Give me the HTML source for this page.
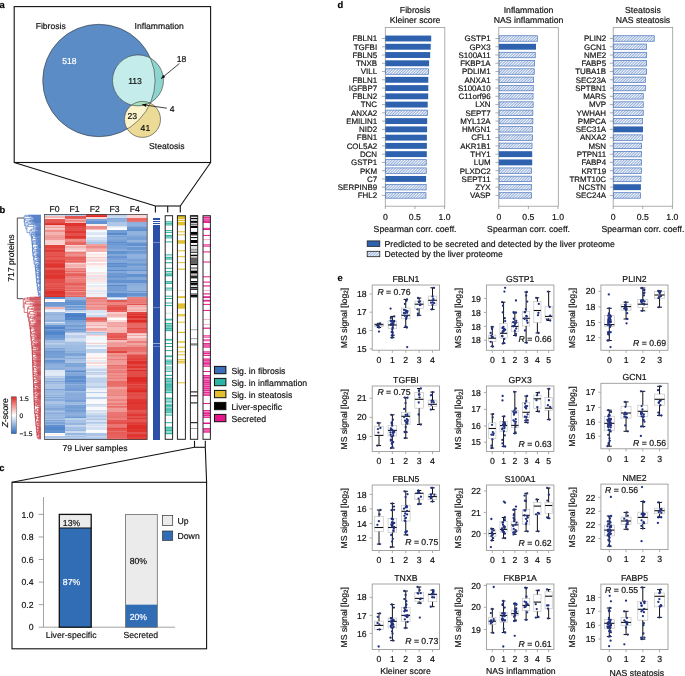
<!DOCTYPE html>
<html><head><meta charset="utf-8"><title>Figure</title><style>
html,body{margin:0;padding:0;background:#fff;width:685px;height:676px;overflow:hidden;}
svg{display:block;will-change:transform;}
text{font-family:"Liberation Sans",sans-serif;stroke-width:0.18px;text-rendering:geometricPrecision;}
</style></head><body>
<svg width="685" height="676" viewBox="0 0 685 676">
<text x="-0.4" y="7.8" font-size="9.4" font-weight="bold" fill="#000" stroke="#000">a</text>
<rect x="14.2" y="6.6" width="196.4" height="155.9" fill="none" stroke="#111" stroke-width="1.1"/>
<line x1="14.2" y1="162.5" x2="155.4" y2="206" stroke="#111" stroke-width="1.1"/>
<line x1="210.6" y1="162.5" x2="180.3" y2="206" stroke="#111" stroke-width="1.1"/>
<defs><clipPath id="cF"><circle cx="98.9" cy="80.5" r="56.2"/></clipPath><clipPath id="cI"><circle cx="138.0" cy="80.4" r="25.5"/></clipPath><clipPath id="cS"><circle cx="142.5" cy="119.4" r="18.0"/></clipPath></defs>
<circle cx="98.9" cy="80.5" r="56.2" fill="#5b8cc6"/>
<circle cx="138" cy="80.4" r="25.5" fill="#8fd5cf"/>
<circle cx="138" cy="80.4" r="25.5" fill="#c4ecea" clip-path="url(#cF)"/>
<circle cx="142.5" cy="119.4" r="18" fill="#ebdb96"/>
<circle cx="142.5" cy="119.4" r="18" fill="#fbf4cc" clip-path="url(#cF)"/>
<circle cx="142.5" cy="119.4" r="18" fill="#a6dfc0" clip-path="url(#cI)"/>
<circle cx="98.9" cy="80.5" r="56.2" fill="none" stroke="#2a2a2a" stroke-width="0.55"/>
<circle cx="138" cy="80.4" r="25.5" fill="none" stroke="#2a2a2a" stroke-width="0.55"/>
<circle cx="142.5" cy="119.4" r="18" fill="none" stroke="#2a2a2a" stroke-width="0.55"/>
<text x="50.7" y="29.1" font-size="8.6" text-anchor="middle" fill="#111" stroke="#111">Fibrosis</text>
<text x="159.2" y="29.1" font-size="8.6" text-anchor="middle" fill="#111" stroke="#111">Inflammation</text>
<text x="69.4" y="64.2" font-size="8.6" text-anchor="middle" fill="#fff" stroke="#fff">518</text>
<text x="135" y="84" font-size="8.6" text-anchor="middle" fill="#111" stroke="#111">113</text>
<text x="181.5" y="62.1" font-size="8.6" text-anchor="middle" fill="#111" stroke="#111">18</text>
<text x="172.2" y="112.1" font-size="8.6" text-anchor="middle" fill="#111" stroke="#111">4</text>
<text x="132.2" y="118.9" font-size="8.6" text-anchor="middle" fill="#111" stroke="#111">23</text>
<text x="145.4" y="131.4" font-size="8.6" text-anchor="middle" fill="#111" stroke="#111">41</text>
<text x="166.8" y="148.5" font-size="8.6" text-anchor="middle" fill="#111" stroke="#111">Steatosis</text>
<line x1="179.4" y1="63.5" x2="161" y2="78.7" stroke="#111" stroke-width="0.8"/>
<polygon points="161,78.7 163.16,74.71 165.32,77.34" fill="#111"/>
<line x1="166.9" y1="108.2" x2="142.1" y2="104.6" stroke="#111" stroke-width="0.8"/>
<polygon points="142.1,104.6 146.5,103.52 146.01,106.89" fill="#111"/>
<text x="-0.4" y="212.5" font-size="9.4" font-weight="bold" fill="#000" stroke="#000">b</text>
<text x="54.5" y="211.93" font-size="8.7" text-anchor="middle" fill="#111" stroke="#111">F0</text>
<text x="74.6" y="211.93" font-size="8.7" text-anchor="middle" fill="#111" stroke="#111">F1</text>
<text x="94.7" y="211.93" font-size="8.7" text-anchor="middle" fill="#111" stroke="#111">F2</text>
<text x="114.6" y="211.93" font-size="8.7" text-anchor="middle" fill="#111" stroke="#111">F3</text>
<text x="134.7" y="211.93" font-size="8.7" text-anchor="middle" fill="#111" stroke="#111">F4</text>
<g shape-rendering="crispEdges">
<rect x="44.5" y="214.4" width="20.75" height="1.25" fill="#cbdaef"/>
<rect x="44.5" y="215.6" width="20.75" height="0.45" fill="#b9ceea"/>
<rect x="44.5" y="216" width="20.75" height="0.65" fill="#f4bab8"/>
<rect x="44.5" y="216.6" width="20.75" height="0.65" fill="#f9d5d4"/>
<rect x="44.5" y="217.2" width="20.75" height="0.65" fill="#f4b5b3"/>
<rect x="44.5" y="217.8" width="20.75" height="0.95" fill="#fceae9"/>
<rect x="44.5" y="218.7" width="20.75" height="0.35" fill="#f8d2d1"/>
<rect x="44.5" y="219" width="20.75" height="0.95" fill="#e55954"/>
<rect x="44.5" y="219.9" width="20.75" height="1.55" fill="#e65b56"/>
<rect x="44.5" y="221.4" width="20.75" height="2.05" fill="#e55753"/>
<rect x="44.5" y="223.4" width="20.75" height="0.95" fill="#e13d38"/>
<rect x="44.5" y="224.3" width="20.75" height="0.75" fill="#de2d27"/>
<rect x="44.5" y="225" width="20.75" height="2.05" fill="#f4b9b7"/>
<rect x="44.5" y="227" width="20.75" height="0.65" fill="#f1a3a0"/>
<rect x="44.5" y="227.6" width="20.75" height="0.65" fill="#f4bbb9"/>
<rect x="44.5" y="228.2" width="20.75" height="0.95" fill="#f7cbc9"/>
<rect x="44.5" y="229.1" width="20.75" height="0.95" fill="#f5bcba"/>
<rect x="44.5" y="230" width="20.75" height="2.05" fill="#ee918d"/>
<rect x="44.5" y="232" width="20.75" height="2.55" fill="#f3b4b2"/>
<rect x="44.5" y="234.5" width="20.75" height="2.05" fill="#f09e9b"/>
<rect x="44.5" y="236.5" width="20.75" height="0.95" fill="#f2a9a6"/>
<rect x="44.5" y="237.4" width="20.75" height="0.65" fill="#ef9693"/>
<rect x="44.5" y="238" width="20.75" height="2.05" fill="#f09e9c"/>
<rect x="44.5" y="240" width="20.75" height="0.95" fill="#f7cdcc"/>
<rect x="44.5" y="240.9" width="20.75" height="2.05" fill="#f8d1d0"/>
<rect x="44.5" y="242.9" width="20.75" height="1.25" fill="#f8cfce"/>
<rect x="44.5" y="244.1" width="20.75" height="0.95" fill="#f9d5d4"/>
<rect x="44.5" y="245" width="20.75" height="0.95" fill="#e2413c"/>
<rect x="44.5" y="245.9" width="20.75" height="2.55" fill="#e2423d"/>
<rect x="44.5" y="248.4" width="20.75" height="0.65" fill="#e34d48"/>
<rect x="44.5" y="249" width="20.75" height="1.05" fill="#e4514c"/>
<rect x="44.5" y="250" width="20.75" height="1.25" fill="#e03832"/>
<rect x="44.5" y="251.2" width="20.75" height="1.25" fill="#e13e39"/>
<rect x="44.5" y="252.4" width="20.75" height="0.65" fill="#e55853"/>
<rect x="44.5" y="253" width="20.75" height="1.55" fill="#e55550"/>
<rect x="44.5" y="254.5" width="20.75" height="1.25" fill="#e55651"/>
<rect x="44.5" y="255.7" width="20.75" height="1.55" fill="#e34843"/>
<rect x="44.5" y="257.2" width="20.75" height="2.55" fill="#e55a55"/>
<rect x="44.5" y="259.7" width="20.75" height="2.05" fill="#e1403b"/>
<rect x="44.5" y="261.7" width="20.75" height="1.25" fill="#e34c47"/>
<rect x="44.5" y="262.9" width="20.75" height="1.25" fill="#e13f39"/>
<rect x="44.5" y="264.1" width="20.75" height="2.05" fill="#e0342f"/>
<rect x="44.5" y="266.1" width="20.75" height="0.65" fill="#df322c"/>
<rect x="44.5" y="266.7" width="20.75" height="1.25" fill="#e24540"/>
<rect x="44.5" y="267.9" width="20.75" height="2.55" fill="#e65a56"/>
<rect x="44.5" y="270.4" width="20.75" height="2.55" fill="#e03934"/>
<rect x="44.5" y="272.9" width="20.75" height="2.55" fill="#e1403a"/>
<rect x="44.5" y="275.4" width="20.75" height="2.55" fill="#df332d"/>
<rect x="44.5" y="277.9" width="20.75" height="1.25" fill="#e03933"/>
<rect x="44.5" y="279.1" width="20.75" height="2.55" fill="#e34c47"/>
<rect x="44.5" y="281.6" width="20.75" height="1.55" fill="#e34b46"/>
<rect x="44.5" y="283.1" width="20.75" height="2.05" fill="#e55853"/>
<rect x="44.5" y="285.1" width="20.75" height="0.65" fill="#e4524e"/>
<rect x="44.5" y="285.7" width="20.75" height="1.25" fill="#e55752"/>
<rect x="44.5" y="286.9" width="20.75" height="0.95" fill="#e34944"/>
<rect x="44.5" y="287.8" width="20.75" height="1.55" fill="#e55a55"/>
<rect x="44.5" y="289.3" width="20.75" height="1.55" fill="#e34944"/>
<rect x="44.5" y="290.8" width="20.75" height="1.25" fill="#df302a"/>
<rect x="44.5" y="292" width="20.75" height="1.55" fill="#df312b"/>
<rect x="44.5" y="293.5" width="20.75" height="1.25" fill="#e03933"/>
<rect x="44.5" y="294.7" width="20.75" height="1.25" fill="#e13a35"/>
<rect x="44.5" y="295.9" width="20.75" height="1.15" fill="#de2c26"/>
<rect x="44.5" y="297" width="20.75" height="0.95" fill="#578acd"/>
<rect x="44.5" y="297.9" width="20.75" height="0.95" fill="#5f8fcf"/>
<rect x="44.5" y="298.8" width="20.75" height="0.25" fill="#5487cc"/>
<rect x="44.5" y="299" width="20.75" height="2.05" fill="#fdf1f1"/>
<rect x="44.5" y="301" width="20.75" height="1.05" fill="#ffffff"/>
<rect x="44.5" y="302" width="20.75" height="1.55" fill="#6f9ad4"/>
<rect x="44.5" y="303.5" width="20.75" height="2.05" fill="#719bd4"/>
<rect x="44.5" y="305.5" width="20.75" height="0.95" fill="#77a0d6"/>
<rect x="44.5" y="306.4" width="20.75" height="0.65" fill="#85aada"/>
<rect x="44.5" y="307" width="20.75" height="2.05" fill="#f3b4b2"/>
<rect x="44.5" y="309" width="20.75" height="0.65" fill="#dae5f4"/>
<rect x="44.5" y="309.6" width="20.75" height="2.45" fill="#f0f4fa"/>
<rect x="44.5" y="312" width="20.75" height="1.55" fill="#9dbbe2"/>
<rect x="44.5" y="313.5" width="20.75" height="1.55" fill="#8dafdd"/>
<rect x="44.5" y="315" width="20.75" height="2.55" fill="#9dbbe2"/>
<rect x="44.5" y="317.5" width="20.75" height="0.95" fill="#8baedc"/>
<rect x="44.5" y="318.4" width="20.75" height="0.95" fill="#a0bce2"/>
<rect x="44.5" y="319.3" width="20.75" height="0.65" fill="#9ab8e1"/>
<rect x="44.5" y="319.9" width="20.75" height="0.65" fill="#8dafdd"/>
<rect x="44.5" y="320.5" width="20.75" height="1.55" fill="#90b1de"/>
<rect x="44.5" y="322" width="20.75" height="0.65" fill="#dae5f4"/>
<rect x="44.5" y="322.6" width="20.75" height="2.05" fill="#a4c0e4"/>
<rect x="44.5" y="324.6" width="20.75" height="0.45" fill="#c6d7ee"/>
<rect x="44.5" y="325" width="20.75" height="0.95" fill="#6795d1"/>
<rect x="44.5" y="325.9" width="20.75" height="1.25" fill="#6594d1"/>
<rect x="44.5" y="327.1" width="20.75" height="1.55" fill="#4d82ca"/>
<rect x="44.5" y="328.6" width="20.75" height="1.55" fill="#7aa2d7"/>
<rect x="44.5" y="330.1" width="20.75" height="1.55" fill="#5f8fcf"/>
<rect x="44.5" y="331.6" width="20.75" height="1.25" fill="#4b81c9"/>
<rect x="44.5" y="332.8" width="20.75" height="0.65" fill="#6d99d3"/>
<rect x="44.5" y="333.4" width="20.75" height="1.65" fill="#5487cc"/>
<rect x="44.5" y="335" width="20.75" height="2.55" fill="#6996d2"/>
<rect x="44.5" y="337.5" width="20.75" height="0.65" fill="#6b97d3"/>
<rect x="44.5" y="338.1" width="20.75" height="1.95" fill="#739dd5"/>
<rect x="44.5" y="340" width="20.75" height="2.55" fill="#a5c0e4"/>
<rect x="44.5" y="342.5" width="20.75" height="0.65" fill="#b1c9e8"/>
<rect x="44.5" y="343.1" width="20.75" height="1.25" fill="#bed1eb"/>
<rect x="44.5" y="344.3" width="20.75" height="0.65" fill="#aec6e7"/>
<rect x="44.5" y="344.9" width="20.75" height="1.25" fill="#a4bfe4"/>
<rect x="44.5" y="346.1" width="20.75" height="0.95" fill="#9bb9e1"/>
<rect x="44.5" y="347" width="20.75" height="0.95" fill="#a5c0e4"/>
<rect x="44.5" y="347.9" width="20.75" height="0.15" fill="#9ab8e1"/>
<rect x="44.5" y="348" width="20.75" height="0.95" fill="#80a6d9"/>
<rect x="44.5" y="348.9" width="20.75" height="0.95" fill="#8baedc"/>
<rect x="44.5" y="349.8" width="20.75" height="1.55" fill="#87abdb"/>
<rect x="44.5" y="351.3" width="20.75" height="0.95" fill="#6b97d2"/>
<rect x="44.5" y="352.2" width="20.75" height="1.55" fill="#739dd5"/>
<rect x="44.5" y="353.7" width="20.75" height="0.65" fill="#95b5df"/>
<rect x="44.5" y="354.3" width="20.75" height="1.25" fill="#79a1d7"/>
<rect x="44.5" y="355.5" width="20.75" height="0.95" fill="#85a9da"/>
<rect x="44.5" y="356.4" width="20.75" height="1.25" fill="#78a0d6"/>
<rect x="44.5" y="357.6" width="20.75" height="2.55" fill="#95b5df"/>
<rect x="44.5" y="360.1" width="20.75" height="1.25" fill="#6493d1"/>
<rect x="44.5" y="361.3" width="20.75" height="0.65" fill="#6c98d3"/>
<rect x="44.5" y="361.9" width="20.75" height="0.95" fill="#729cd5"/>
<rect x="44.5" y="362.8" width="20.75" height="1.55" fill="#81a7d9"/>
<rect x="44.5" y="364.3" width="20.75" height="2.05" fill="#8dafdd"/>
<rect x="44.5" y="366.3" width="20.75" height="1.55" fill="#90b2de"/>
<rect x="44.5" y="367.8" width="20.75" height="1.25" fill="#8aaddc"/>
<rect x="44.5" y="369" width="20.75" height="0.65" fill="#8cafdd"/>
<rect x="44.5" y="369.6" width="20.75" height="0.45" fill="#90b2de"/>
<rect x="44.5" y="370" width="20.75" height="2.55" fill="#dde7f5"/>
<rect x="44.5" y="372.5" width="20.75" height="1.55" fill="#e5edf7"/>
<rect x="44.5" y="374" width="20.75" height="1.55" fill="#dfe9f5"/>
<rect x="44.5" y="375.5" width="20.75" height="1.25" fill="#b6cce9"/>
<rect x="44.5" y="376.7" width="20.75" height="1.35" fill="#c8d8ee"/>
<rect x="44.5" y="378" width="20.75" height="1.55" fill="#a3bee3"/>
<rect x="44.5" y="379.5" width="20.75" height="0.65" fill="#a2bee3"/>
<rect x="44.5" y="380.1" width="20.75" height="0.95" fill="#b0c8e7"/>
<rect x="44.5" y="381" width="20.75" height="0.65" fill="#82a8da"/>
<rect x="44.5" y="381.6" width="20.75" height="1.55" fill="#a6c1e4"/>
<rect x="44.5" y="383.1" width="20.75" height="0.95" fill="#9bb9e1"/>
<rect x="44.5" y="384" width="20.75" height="2.05" fill="#b0c8e7"/>
<rect x="44.5" y="386" width="20.75" height="2.55" fill="#adc6e7"/>
<rect x="44.5" y="388.5" width="20.75" height="0.95" fill="#98b7e0"/>
<rect x="44.5" y="389.4" width="20.75" height="0.95" fill="#7ca3d8"/>
<rect x="44.5" y="390.3" width="20.75" height="2.55" fill="#9dbbe2"/>
<rect x="44.5" y="392.8" width="20.75" height="2.05" fill="#a3bfe3"/>
<rect x="44.5" y="394.8" width="20.75" height="0.95" fill="#92b2de"/>
<rect x="44.5" y="395.7" width="20.75" height="0.95" fill="#a7c2e5"/>
<rect x="44.5" y="396.6" width="20.75" height="0.95" fill="#7ca3d8"/>
<rect x="44.5" y="397.5" width="20.75" height="0.95" fill="#8aaddc"/>
<rect x="44.5" y="398.4" width="20.75" height="0.95" fill="#a4bfe4"/>
<rect x="44.5" y="399.3" width="20.75" height="1.25" fill="#88acdb"/>
<rect x="44.5" y="400.5" width="20.75" height="1.55" fill="#a8c2e5"/>
<rect x="44.5" y="402" width="20.75" height="0.65" fill="#acc5e6"/>
<rect x="44.5" y="402.6" width="20.75" height="1.25" fill="#abc4e6"/>
<rect x="44.5" y="403.8" width="20.75" height="2.55" fill="#9ab8e1"/>
<rect x="44.5" y="406.3" width="20.75" height="2.05" fill="#91b2de"/>
<rect x="44.5" y="408.3" width="20.75" height="2.05" fill="#81a7d9"/>
<rect x="44.5" y="410.3" width="20.75" height="0.95" fill="#97b6e0"/>
<rect x="44.5" y="411.2" width="20.75" height="0.65" fill="#aac3e5"/>
<rect x="44.5" y="411.8" width="20.75" height="0.95" fill="#9bb9e1"/>
<rect x="44.5" y="412.7" width="20.75" height="0.95" fill="#84a9da"/>
<rect x="44.5" y="413.6" width="20.75" height="1.55" fill="#9cbae1"/>
<rect x="44.5" y="415.1" width="20.75" height="0.65" fill="#98b7e0"/>
<rect x="44.5" y="415.7" width="20.75" height="1.25" fill="#9fbce2"/>
<rect x="44.5" y="416.9" width="20.75" height="2.05" fill="#98b7e0"/>
<rect x="44.5" y="418.9" width="20.75" height="0.65" fill="#aac4e6"/>
<rect x="44.5" y="419.5" width="20.75" height="0.65" fill="#88abdb"/>
<rect x="44.5" y="420.1" width="20.75" height="1.25" fill="#7da4d8"/>
<rect x="44.5" y="421.3" width="20.75" height="0.65" fill="#96b5df"/>
<rect x="44.5" y="421.9" width="20.75" height="2.05" fill="#7ca3d8"/>
<rect x="44.5" y="423.9" width="20.75" height="0.65" fill="#92b3de"/>
<rect x="44.5" y="424.5" width="20.75" height="0.55" fill="#afc7e7"/>
<rect x="44.5" y="425" width="20.75" height="2.05" fill="#6190d0"/>
<rect x="44.5" y="427" width="20.75" height="2.55" fill="#5588cc"/>
<rect x="44.5" y="429.5" width="20.75" height="2.05" fill="#6291d0"/>
<rect x="44.5" y="431.5" width="20.75" height="1.55" fill="#6190cf"/>
<rect x="44.5" y="433" width="20.75" height="0.95" fill="#fbfcfe"/>
<rect x="44.5" y="433.9" width="20.75" height="1.25" fill="#fdf2f1"/>
<rect x="44.5" y="435.1" width="20.75" height="0.95" fill="#fef8f7"/>
<rect x="44.5" y="436" width="20.75" height="0.95" fill="#acc5e6"/>
<rect x="44.5" y="436.9" width="20.75" height="1.55" fill="#aec6e7"/>
<rect x="44.5" y="438.4" width="20.75" height="0.65" fill="#bbcfea"/>
<rect x="44.5" y="439" width="20.75" height="0.65" fill="#99b8e0"/>
<rect x="65.2" y="214.4" width="20.65" height="1.65" fill="#b4cae8"/>
<rect x="65.2" y="216" width="20.65" height="0.65" fill="#e55651"/>
<rect x="65.2" y="216.6" width="20.65" height="0.95" fill="#e4544f"/>
<rect x="65.2" y="217.5" width="20.65" height="1.55" fill="#e7635e"/>
<rect x="65.2" y="219" width="20.65" height="0.95" fill="#f3b0ad"/>
<rect x="65.2" y="219.9" width="20.65" height="0.95" fill="#ed8884"/>
<rect x="65.2" y="220.8" width="20.65" height="0.95" fill="#ee9491"/>
<rect x="65.2" y="221.7" width="20.65" height="0.65" fill="#f1a7a5"/>
<rect x="65.2" y="222.3" width="20.65" height="0.75" fill="#f3b5b3"/>
<rect x="65.2" y="223" width="20.65" height="2.55" fill="#df332d"/>
<rect x="65.2" y="225.5" width="20.65" height="0.95" fill="#e03933"/>
<rect x="65.2" y="226.4" width="20.65" height="2.05" fill="#e34944"/>
<rect x="65.2" y="228.4" width="20.65" height="0.65" fill="#e4544f"/>
<rect x="65.2" y="229" width="20.65" height="1.25" fill="#e34c47"/>
<rect x="65.2" y="230.2" width="20.65" height="1.25" fill="#e4504b"/>
<rect x="65.2" y="231.4" width="20.65" height="2.05" fill="#e03933"/>
<rect x="65.2" y="233.4" width="20.65" height="2.55" fill="#e4504b"/>
<rect x="65.2" y="235.9" width="20.65" height="1.25" fill="#e03630"/>
<rect x="65.2" y="237.1" width="20.65" height="1.25" fill="#e03631"/>
<rect x="65.2" y="238.3" width="20.65" height="0.65" fill="#e34b46"/>
<rect x="65.2" y="238.9" width="20.65" height="0.15" fill="#de2a24"/>
<rect x="65.2" y="239" width="20.65" height="0.65" fill="#ee8f8c"/>
<rect x="65.2" y="239.6" width="20.65" height="1.25" fill="#ee928e"/>
<rect x="65.2" y="240.8" width="20.65" height="0.95" fill="#ec8581"/>
<rect x="65.2" y="241.7" width="20.65" height="0.95" fill="#e86763"/>
<rect x="65.2" y="242.6" width="20.65" height="2.45" fill="#e86763"/>
<rect x="65.2" y="245" width="20.65" height="1.25" fill="#f8d3d1"/>
<rect x="65.2" y="246.2" width="20.65" height="2.05" fill="#f3b4b2"/>
<rect x="65.2" y="248.2" width="20.65" height="2.05" fill="#f7cdcc"/>
<rect x="65.2" y="250.2" width="20.65" height="1.25" fill="#fbe6e6"/>
<rect x="65.2" y="251.4" width="20.65" height="0.65" fill="#f5bbb9"/>
<rect x="65.2" y="252" width="20.65" height="0.95" fill="#eb7d79"/>
<rect x="65.2" y="252.9" width="20.65" height="0.65" fill="#ec8582"/>
<rect x="65.2" y="253.5" width="20.65" height="0.65" fill="#e9716d"/>
<rect x="65.2" y="254.1" width="20.65" height="1.25" fill="#ee8f8c"/>
<rect x="65.2" y="255.3" width="20.65" height="0.95" fill="#ee908d"/>
<rect x="65.2" y="256.2" width="20.65" height="0.65" fill="#eb7b77"/>
<rect x="65.2" y="256.8" width="20.65" height="1.25" fill="#e65e5a"/>
<rect x="65.2" y="258" width="20.65" height="1.55" fill="#e7625d"/>
<rect x="65.2" y="259.5" width="20.65" height="1.25" fill="#e9726e"/>
<rect x="65.2" y="260.7" width="20.65" height="0.65" fill="#ea7773"/>
<rect x="65.2" y="261.3" width="20.65" height="0.95" fill="#e7615d"/>
<rect x="65.2" y="262.2" width="20.65" height="0.85" fill="#ec8582"/>
<rect x="65.2" y="263" width="20.65" height="0.95" fill="#f8d0cf"/>
<rect x="65.2" y="263.9" width="20.65" height="1.25" fill="#f4b7b5"/>
<rect x="65.2" y="265.1" width="20.65" height="2.05" fill="#f3afad"/>
<rect x="65.2" y="267.1" width="20.65" height="0.95" fill="#f5c1c0"/>
<rect x="65.2" y="268" width="20.65" height="2.55" fill="#ed8a87"/>
<rect x="65.2" y="270.5" width="20.65" height="1.25" fill="#e86864"/>
<rect x="65.2" y="271.7" width="20.65" height="1.25" fill="#ee928f"/>
<rect x="65.2" y="272.9" width="20.65" height="0.65" fill="#e86c68"/>
<rect x="65.2" y="273.5" width="20.65" height="2.05" fill="#e65f5b"/>
<rect x="65.2" y="275.5" width="20.65" height="2.05" fill="#ea7a76"/>
<rect x="65.2" y="277.5" width="20.65" height="1.55" fill="#ed8e8b"/>
<rect x="65.2" y="279" width="20.65" height="2.55" fill="#eb7c78"/>
<rect x="65.2" y="281.5" width="20.65" height="1.55" fill="#ea7672"/>
<rect x="65.2" y="283" width="20.65" height="1.55" fill="#e65f5b"/>
<rect x="65.2" y="284.5" width="20.65" height="1.25" fill="#e96e6a"/>
<rect x="65.2" y="285.7" width="20.65" height="0.95" fill="#eb817d"/>
<rect x="65.2" y="286.6" width="20.65" height="2.55" fill="#e86c68"/>
<rect x="65.2" y="289.1" width="20.65" height="0.95" fill="#eb7e7a"/>
<rect x="65.2" y="290" width="20.65" height="1.25" fill="#e65f5a"/>
<rect x="65.2" y="291.2" width="20.65" height="0.95" fill="#ee9390"/>
<rect x="65.2" y="292.1" width="20.65" height="2.55" fill="#e86c67"/>
<rect x="65.2" y="294.6" width="20.65" height="1.25" fill="#eb7c79"/>
<rect x="65.2" y="295.8" width="20.65" height="0.65" fill="#ee8f8c"/>
<rect x="65.2" y="296.4" width="20.65" height="0.65" fill="#e76560"/>
<rect x="65.2" y="297" width="20.65" height="2.55" fill="#94b4df"/>
<rect x="65.2" y="299.5" width="20.65" height="2.05" fill="#6d99d3"/>
<rect x="65.2" y="301.5" width="20.65" height="1.25" fill="#6391d0"/>
<rect x="65.2" y="302.7" width="20.65" height="0.95" fill="#6896d2"/>
<rect x="65.2" y="303.6" width="20.65" height="1.55" fill="#6090cf"/>
<rect x="65.2" y="305.1" width="20.65" height="1.25" fill="#93b4df"/>
<rect x="65.2" y="306.3" width="20.65" height="2.05" fill="#719cd4"/>
<rect x="65.2" y="308.3" width="20.65" height="0.65" fill="#93b4df"/>
<rect x="65.2" y="308.9" width="20.65" height="1.15" fill="#6c98d3"/>
<rect x="65.2" y="310" width="20.65" height="0.95" fill="#bfd2ec"/>
<rect x="65.2" y="310.9" width="20.65" height="1.55" fill="#c4d6ed"/>
<rect x="65.2" y="312.4" width="20.65" height="0.65" fill="#dde7f5"/>
<rect x="65.2" y="313" width="20.65" height="0.95" fill="#5387cb"/>
<rect x="65.2" y="313.9" width="20.65" height="0.65" fill="#4b81c9"/>
<rect x="65.2" y="314.5" width="20.65" height="0.65" fill="#4e83ca"/>
<rect x="65.2" y="315.1" width="20.65" height="2.05" fill="#497fc8"/>
<rect x="65.2" y="317.1" width="20.65" height="0.65" fill="#5689cc"/>
<rect x="65.2" y="317.7" width="20.65" height="2.55" fill="#5286cb"/>
<rect x="65.2" y="320.2" width="20.65" height="1.85" fill="#78a1d7"/>
<rect x="65.2" y="322" width="20.65" height="0.95" fill="#83a8da"/>
<rect x="65.2" y="322.9" width="20.65" height="2.55" fill="#8aaddc"/>
<rect x="65.2" y="325.4" width="20.65" height="2.05" fill="#759ed5"/>
<rect x="65.2" y="327.4" width="20.65" height="1.25" fill="#86aadb"/>
<rect x="65.2" y="328.6" width="20.65" height="1.55" fill="#6895d2"/>
<rect x="65.2" y="330.1" width="20.65" height="1.95" fill="#81a7d9"/>
<rect x="65.2" y="332" width="20.65" height="0.95" fill="#a5c0e4"/>
<rect x="65.2" y="332.9" width="20.65" height="2.55" fill="#d6e2f3"/>
<rect x="65.2" y="335.4" width="20.65" height="2.55" fill="#bbcfeb"/>
<rect x="65.2" y="337.9" width="20.65" height="2.55" fill="#d1dff1"/>
<rect x="65.2" y="340.4" width="20.65" height="0.95" fill="#d7e3f3"/>
<rect x="65.2" y="341.3" width="20.65" height="0.75" fill="#c3d5ed"/>
<rect x="65.2" y="342" width="20.65" height="0.65" fill="#a7c2e5"/>
<rect x="65.2" y="342.6" width="20.65" height="2.05" fill="#a6c0e4"/>
<rect x="65.2" y="344.6" width="20.65" height="2.55" fill="#9fbce2"/>
<rect x="65.2" y="347.1" width="20.65" height="2.55" fill="#9dbae2"/>
<rect x="65.2" y="349.6" width="20.65" height="0.45" fill="#7ca3d8"/>
<rect x="65.2" y="350" width="20.65" height="0.95" fill="#9dbae2"/>
<rect x="65.2" y="350.9" width="20.65" height="0.65" fill="#8fb0dd"/>
<rect x="65.2" y="351.5" width="20.65" height="1.55" fill="#98b7e0"/>
<rect x="65.2" y="353" width="20.65" height="2.55" fill="#7ba3d8"/>
<rect x="65.2" y="355.5" width="20.65" height="2.05" fill="#9fbce2"/>
<rect x="65.2" y="357.5" width="20.65" height="1.55" fill="#88acdb"/>
<rect x="65.2" y="359" width="20.65" height="1.55" fill="#a6c0e4"/>
<rect x="65.2" y="360.5" width="20.65" height="2.55" fill="#adc6e6"/>
<rect x="65.2" y="363" width="20.65" height="2.05" fill="#7fa6d9"/>
<rect x="65.2" y="365" width="20.65" height="2.05" fill="#7ea5d8"/>
<rect x="65.2" y="367" width="20.65" height="2.55" fill="#94b4df"/>
<rect x="65.2" y="369.5" width="20.65" height="0.55" fill="#a8c2e5"/>
<rect x="65.2" y="370" width="20.65" height="0.95" fill="#79a1d7"/>
<rect x="65.2" y="370.9" width="20.65" height="0.95" fill="#5f8fcf"/>
<rect x="65.2" y="371.8" width="20.65" height="2.55" fill="#86abdb"/>
<rect x="65.2" y="374.3" width="20.65" height="1.55" fill="#7fa6d9"/>
<rect x="65.2" y="375.8" width="20.65" height="0.65" fill="#6c98d3"/>
<rect x="65.2" y="376.4" width="20.65" height="2.55" fill="#6291d0"/>
<rect x="65.2" y="378.9" width="20.65" height="0.65" fill="#739dd5"/>
<rect x="65.2" y="379.5" width="20.65" height="2.55" fill="#5d8ecf"/>
<rect x="65.2" y="382" width="20.65" height="2.05" fill="#759ed6"/>
<rect x="65.2" y="384" width="20.65" height="1.25" fill="#90b1de"/>
<rect x="65.2" y="385.2" width="20.65" height="2.55" fill="#7da4d8"/>
<rect x="65.2" y="387.7" width="20.65" height="2.05" fill="#749ed5"/>
<rect x="65.2" y="389.7" width="20.65" height="1.55" fill="#709bd4"/>
<rect x="65.2" y="391.2" width="20.65" height="1.25" fill="#a1bde3"/>
<rect x="65.2" y="392.4" width="20.65" height="0.65" fill="#92b3de"/>
<rect x="65.2" y="393" width="20.65" height="2.55" fill="#87abdb"/>
<rect x="65.2" y="395.5" width="20.65" height="2.55" fill="#89acdb"/>
<rect x="65.2" y="398" width="20.65" height="1.55" fill="#86aadb"/>
<rect x="65.2" y="399.5" width="20.65" height="0.65" fill="#a3bee3"/>
<rect x="65.2" y="400.1" width="20.65" height="2.05" fill="#78a0d6"/>
<rect x="65.2" y="402.1" width="20.65" height="0.65" fill="#9fbce2"/>
<rect x="65.2" y="402.7" width="20.65" height="0.65" fill="#7ca4d8"/>
<rect x="65.2" y="403.3" width="20.65" height="0.65" fill="#99b8e0"/>
<rect x="65.2" y="403.9" width="20.65" height="1.55" fill="#a3bee3"/>
<rect x="65.2" y="405.4" width="20.65" height="1.55" fill="#78a1d7"/>
<rect x="65.2" y="406.9" width="20.65" height="0.95" fill="#719cd4"/>
<rect x="65.2" y="407.8" width="20.65" height="0.65" fill="#759ed6"/>
<rect x="65.2" y="408.4" width="20.65" height="2.05" fill="#7ba3d7"/>
<rect x="65.2" y="410.4" width="20.65" height="1.25" fill="#749ed5"/>
<rect x="65.2" y="411.6" width="20.65" height="2.55" fill="#88acdb"/>
<rect x="65.2" y="414.1" width="20.65" height="0.65" fill="#93b3df"/>
<rect x="65.2" y="414.7" width="20.65" height="0.95" fill="#88abdb"/>
<rect x="65.2" y="415.6" width="20.65" height="1.55" fill="#82a8da"/>
<rect x="65.2" y="417.1" width="20.65" height="0.95" fill="#6d99d3"/>
<rect x="65.2" y="418" width="20.65" height="1.55" fill="#bbd0eb"/>
<rect x="65.2" y="419.5" width="20.65" height="1.55" fill="#a6c1e4"/>
<rect x="65.2" y="421" width="20.65" height="0.95" fill="#acc5e6"/>
<rect x="65.2" y="421.9" width="20.65" height="1.55" fill="#a7c1e4"/>
<rect x="65.2" y="423.4" width="20.65" height="1.25" fill="#95b5df"/>
<rect x="65.2" y="424.6" width="20.65" height="1.25" fill="#c4d6ed"/>
<rect x="65.2" y="425.8" width="20.65" height="0.65" fill="#cadaef"/>
<rect x="65.2" y="426.4" width="20.65" height="0.95" fill="#bdd1eb"/>
<rect x="65.2" y="427.3" width="20.65" height="2.55" fill="#a5c0e4"/>
<rect x="65.2" y="429.8" width="20.65" height="1.25" fill="#99b7e0"/>
<rect x="65.2" y="431" width="20.65" height="1.55" fill="#cedcf0"/>
<rect x="65.2" y="432.5" width="20.65" height="2.05" fill="#99b8e1"/>
<rect x="65.2" y="434.5" width="20.65" height="1.55" fill="#bfd2ec"/>
<rect x="65.2" y="436" width="20.65" height="0.65" fill="#a5c0e4"/>
<rect x="65.2" y="436.6" width="20.65" height="0.65" fill="#c4d6ed"/>
<rect x="65.2" y="437.2" width="20.65" height="1.25" fill="#b9ceea"/>
<rect x="65.2" y="438.4" width="20.65" height="0.95" fill="#a3bfe3"/>
<rect x="65.2" y="439.3" width="20.65" height="0.35" fill="#adc6e6"/>
<rect x="85.8" y="214.4" width="20.85" height="1.25" fill="#e03a34"/>
<rect x="85.8" y="215.6" width="20.85" height="1.25" fill="#de2a24"/>
<rect x="85.8" y="216.8" width="20.85" height="0.25" fill="#de2a24"/>
<rect x="85.8" y="217" width="20.85" height="2.05" fill="#f8d3d2"/>
<rect x="85.8" y="219" width="20.85" height="2.05" fill="#7da4d8"/>
<rect x="85.8" y="221" width="20.85" height="2.55" fill="#6493d1"/>
<rect x="85.8" y="223.5" width="20.85" height="0.55" fill="#769fd6"/>
<rect x="85.8" y="224" width="20.85" height="2.05" fill="#fcecec"/>
<rect x="85.8" y="226" width="20.85" height="2.55" fill="#ed8d8a"/>
<rect x="85.8" y="228.5" width="20.85" height="1.55" fill="#f5bbb9"/>
<rect x="85.8" y="230" width="20.85" height="2.05" fill="#f5f8fc"/>
<rect x="85.8" y="232" width="20.85" height="1.55" fill="#dfe9f5"/>
<rect x="85.8" y="233.5" width="20.85" height="1.25" fill="#d8e4f3"/>
<rect x="85.8" y="234.7" width="20.85" height="2.55" fill="#f4f8fc"/>
<rect x="85.8" y="237.2" width="20.85" height="2.55" fill="#d6e2f3"/>
<rect x="85.8" y="239.7" width="20.85" height="0.35" fill="#d4e1f2"/>
<rect x="85.8" y="240" width="20.85" height="1.55" fill="#c2d5ed"/>
<rect x="85.8" y="241.5" width="20.85" height="1.55" fill="#aac3e5"/>
<rect x="85.8" y="243" width="20.85" height="1.05" fill="#acc5e6"/>
<rect x="85.8" y="244" width="20.85" height="0.95" fill="#f1a29f"/>
<rect x="85.8" y="244.9" width="20.85" height="1.55" fill="#f09f9c"/>
<rect x="85.8" y="246.4" width="20.85" height="1.55" fill="#ed8b88"/>
<rect x="85.8" y="247.9" width="20.85" height="1.55" fill="#f1a6a3"/>
<rect x="85.8" y="249.4" width="20.85" height="2.05" fill="#f3b3b1"/>
<rect x="85.8" y="251.4" width="20.85" height="0.65" fill="#f3b4b2"/>
<rect x="85.8" y="252" width="20.85" height="2.05" fill="#fef7f7"/>
<rect x="85.8" y="254" width="20.85" height="0.95" fill="#fbe5e4"/>
<rect x="85.8" y="254.9" width="20.85" height="2.05" fill="#fdf0ef"/>
<rect x="85.8" y="256.9" width="20.85" height="0.65" fill="#f7cdcc"/>
<rect x="85.8" y="257.5" width="20.85" height="1.55" fill="#fbe4e3"/>
<rect x="85.8" y="259" width="20.85" height="2.55" fill="#f9dbda"/>
<rect x="85.8" y="261.5" width="20.85" height="0.55" fill="#fcebea"/>
<rect x="85.8" y="262" width="20.85" height="0.65" fill="#ffffff"/>
<rect x="85.8" y="262.6" width="20.85" height="2.05" fill="#fadedd"/>
<rect x="85.8" y="264.6" width="20.85" height="0.95" fill="#fdf1f0"/>
<rect x="85.8" y="265.5" width="20.85" height="2.05" fill="#fdf5f4"/>
<rect x="85.8" y="267.5" width="20.85" height="0.95" fill="#e3ebf6"/>
<rect x="85.8" y="268.4" width="20.85" height="0.95" fill="#f6f9fc"/>
<rect x="85.8" y="269.3" width="20.85" height="2.55" fill="#fafcfe"/>
<rect x="85.8" y="271.8" width="20.85" height="1.25" fill="#fbe6e5"/>
<rect x="85.8" y="273" width="20.85" height="0.65" fill="#e5edf7"/>
<rect x="85.8" y="273.6" width="20.85" height="1.55" fill="#fdefef"/>
<rect x="85.8" y="275.1" width="20.85" height="1.55" fill="#fadedd"/>
<rect x="85.8" y="276.6" width="20.85" height="1.55" fill="#dde7f5"/>
<rect x="85.8" y="278.1" width="20.85" height="1.55" fill="#fae1e0"/>
<rect x="85.8" y="279.6" width="20.85" height="2.05" fill="#fbe5e5"/>
<rect x="85.8" y="281.6" width="20.85" height="1.55" fill="#edf2f9"/>
<rect x="85.8" y="283.1" width="20.85" height="0.65" fill="#ebf1f9"/>
<rect x="85.8" y="283.7" width="20.85" height="0.95" fill="#fffdfd"/>
<rect x="85.8" y="284.6" width="20.85" height="2.55" fill="#e4ecf7"/>
<rect x="85.8" y="287.1" width="20.85" height="2.55" fill="#fdf0ef"/>
<rect x="85.8" y="289.6" width="20.85" height="1.55" fill="#e2ebf6"/>
<rect x="85.8" y="291.1" width="20.85" height="0.65" fill="#dde7f5"/>
<rect x="85.8" y="291.7" width="20.85" height="0.95" fill="#ebf1f9"/>
<rect x="85.8" y="292.6" width="20.85" height="0.65" fill="#fdf4f3"/>
<rect x="85.8" y="293.2" width="20.85" height="1.25" fill="#fadfde"/>
<rect x="85.8" y="294.4" width="20.85" height="2.55" fill="#edf2fa"/>
<rect x="85.8" y="296.9" width="20.85" height="0.15" fill="#fafbfd"/>
<rect x="85.8" y="297" width="20.85" height="0.65" fill="#ee8e8b"/>
<rect x="85.8" y="297.6" width="20.85" height="1.25" fill="#ea7773"/>
<rect x="85.8" y="298.8" width="20.85" height="2.05" fill="#ed8986"/>
<rect x="85.8" y="300.8" width="20.85" height="1.25" fill="#ec8784"/>
<rect x="85.8" y="302" width="20.85" height="2.05" fill="#ee9491"/>
<rect x="85.8" y="304" width="20.85" height="1.05" fill="#ec8380"/>
<rect x="85.8" y="305" width="20.85" height="1.55" fill="#f0a09d"/>
<rect x="85.8" y="306.5" width="20.85" height="1.25" fill="#ed8c89"/>
<rect x="85.8" y="307.7" width="20.85" height="0.95" fill="#ef9592"/>
<rect x="85.8" y="308.6" width="20.85" height="0.95" fill="#ee918e"/>
<rect x="85.8" y="309.5" width="20.85" height="0.55" fill="#ea7b77"/>
<rect x="85.8" y="310" width="20.85" height="2.55" fill="#d7e3f3"/>
<rect x="85.8" y="312.5" width="20.85" height="0.65" fill="#b2c9e8"/>
<rect x="85.8" y="313.1" width="20.85" height="1.55" fill="#e5edf7"/>
<rect x="85.8" y="314.6" width="20.85" height="2.45" fill="#c9d9ef"/>
<rect x="85.8" y="317" width="20.85" height="1.25" fill="#ec8784"/>
<rect x="85.8" y="318.2" width="20.85" height="1.55" fill="#e7625d"/>
<rect x="85.8" y="319.7" width="20.85" height="0.95" fill="#ea7975"/>
<rect x="85.8" y="320.6" width="20.85" height="1.45" fill="#ec817e"/>
<rect x="85.8" y="322" width="20.85" height="1.55" fill="#f6c6c5"/>
<rect x="85.8" y="323.5" width="20.85" height="1.55" fill="#f8d0cf"/>
<rect x="85.8" y="325" width="20.85" height="1.25" fill="#f3b0ae"/>
<rect x="85.8" y="326.2" width="20.85" height="2.05" fill="#f9d8d7"/>
<rect x="85.8" y="328.2" width="20.85" height="1.55" fill="#f1a3a1"/>
<rect x="85.8" y="329.7" width="20.85" height="1.25" fill="#f3afad"/>
<rect x="85.8" y="330.9" width="20.85" height="0.95" fill="#f7cecd"/>
<rect x="85.8" y="331.8" width="20.85" height="0.25" fill="#f7cccb"/>
<rect x="85.8" y="332" width="20.85" height="1.25" fill="#a9c3e5"/>
<rect x="85.8" y="333.2" width="20.85" height="1.85" fill="#bfd2ec"/>
<rect x="85.8" y="335" width="20.85" height="0.95" fill="#f8d3d2"/>
<rect x="85.8" y="335.9" width="20.85" height="1.55" fill="#fdf2f2"/>
<rect x="85.8" y="337.4" width="20.85" height="2.55" fill="#f0f5fb"/>
<rect x="85.8" y="339.9" width="20.85" height="2.05" fill="#f7f9fd"/>
<rect x="85.8" y="341.9" width="20.85" height="1.55" fill="#f0f5fb"/>
<rect x="85.8" y="343.4" width="20.85" height="0.65" fill="#f7cfcd"/>
<rect x="85.8" y="344" width="20.85" height="0.95" fill="#fdf2f2"/>
<rect x="85.8" y="344.9" width="20.85" height="0.15" fill="#f1f5fb"/>
<rect x="85.8" y="345" width="20.85" height="1.55" fill="#d2e0f2"/>
<rect x="85.8" y="346.5" width="20.85" height="2.55" fill="#edf3fa"/>
<rect x="85.8" y="349" width="20.85" height="2.55" fill="#bed2ec"/>
<rect x="85.8" y="351.5" width="20.85" height="0.65" fill="#f0f5fb"/>
<rect x="85.8" y="352.1" width="20.85" height="1.25" fill="#c3d5ed"/>
<rect x="85.8" y="353.3" width="20.85" height="0.75" fill="#f1f5fb"/>
<rect x="85.8" y="354" width="20.85" height="2.55" fill="#fef7f7"/>
<rect x="85.8" y="356.5" width="20.85" height="1.25" fill="#fceae9"/>
<rect x="85.8" y="357.7" width="20.85" height="1.55" fill="#fadfde"/>
<rect x="85.8" y="359.2" width="20.85" height="1.25" fill="#fef9f9"/>
<rect x="85.8" y="360.4" width="20.85" height="0.65" fill="#e5edf7"/>
<rect x="85.8" y="361" width="20.85" height="1.25" fill="#eaf0f9"/>
<rect x="85.8" y="362.2" width="20.85" height="1.55" fill="#f9d7d6"/>
<rect x="85.8" y="363.7" width="20.85" height="0.65" fill="#fdf1f0"/>
<rect x="85.8" y="364.3" width="20.85" height="0.95" fill="#fffefe"/>
<rect x="85.8" y="365.2" width="20.85" height="1.25" fill="#fae0df"/>
<rect x="85.8" y="366.4" width="20.85" height="1.55" fill="#eaf0f9"/>
<rect x="85.8" y="367.9" width="20.85" height="0.15" fill="#fef7f7"/>
<rect x="85.8" y="368" width="20.85" height="1.25" fill="#d8e3f3"/>
<rect x="85.8" y="369.2" width="20.85" height="1.55" fill="#c3d5ed"/>
<rect x="85.8" y="370.7" width="20.85" height="1.25" fill="#e4ecf7"/>
<rect x="85.8" y="371.9" width="20.85" height="1.55" fill="#baceea"/>
<rect x="85.8" y="373.4" width="20.85" height="1.55" fill="#c6d7ee"/>
<rect x="85.8" y="374.9" width="20.85" height="2.55" fill="#e6edf7"/>
<rect x="85.8" y="377.4" width="20.85" height="0.65" fill="#cedcf0"/>
<rect x="85.8" y="378" width="20.85" height="1.55" fill="#bcd0eb"/>
<rect x="85.8" y="379.5" width="20.85" height="0.65" fill="#c7d8ee"/>
<rect x="85.8" y="380.1" width="20.85" height="2.55" fill="#bcd0eb"/>
<rect x="85.8" y="382.6" width="20.85" height="2.05" fill="#ccdbf0"/>
<rect x="85.8" y="384.6" width="20.85" height="1.25" fill="#cbdbef"/>
<rect x="85.8" y="385.8" width="20.85" height="2.05" fill="#bacfea"/>
<rect x="85.8" y="387.8" width="20.85" height="2.55" fill="#e2ebf6"/>
<rect x="85.8" y="390.3" width="20.85" height="1.25" fill="#f0f4fa"/>
<rect x="85.8" y="391.5" width="20.85" height="1.25" fill="#b8cdea"/>
<rect x="85.8" y="392.7" width="20.85" height="2.05" fill="#eff4fa"/>
<rect x="85.8" y="394.7" width="20.85" height="2.55" fill="#f1f6fb"/>
<rect x="85.8" y="397.2" width="20.85" height="0.65" fill="#b9ceea"/>
<rect x="85.8" y="397.8" width="20.85" height="0.95" fill="#bed2ec"/>
<rect x="85.8" y="398.7" width="20.85" height="1.35" fill="#f2f6fb"/>
<rect x="85.8" y="400" width="20.85" height="1.55" fill="#f8fafd"/>
<rect x="85.8" y="401.5" width="20.85" height="1.55" fill="#fafbfd"/>
<rect x="85.8" y="403" width="20.85" height="0.95" fill="#fefafa"/>
<rect x="85.8" y="403.9" width="20.85" height="0.95" fill="#c7d8ee"/>
<rect x="85.8" y="404.8" width="20.85" height="2.55" fill="#d8e4f3"/>
<rect x="85.8" y="407.3" width="20.85" height="2.55" fill="#f7f9fd"/>
<rect x="85.8" y="409.8" width="20.85" height="2.05" fill="#d4e1f2"/>
<rect x="85.8" y="411.8" width="20.85" height="1.25" fill="#e2ebf6"/>
<rect x="85.8" y="413" width="20.85" height="2.05" fill="#cbdbef"/>
<rect x="85.8" y="415" width="20.85" height="0.95" fill="#b9ceea"/>
<rect x="85.8" y="415.9" width="20.85" height="0.95" fill="#b1c8e8"/>
<rect x="85.8" y="416.8" width="20.85" height="0.65" fill="#c8d8ee"/>
<rect x="85.8" y="417.4" width="20.85" height="1.55" fill="#c2d4ed"/>
<rect x="85.8" y="418.9" width="20.85" height="1.25" fill="#acc5e6"/>
<rect x="85.8" y="420.1" width="20.85" height="1.55" fill="#d6e2f3"/>
<rect x="85.8" y="421.6" width="20.85" height="0.65" fill="#b2c9e8"/>
<rect x="85.8" y="422.2" width="20.85" height="0.65" fill="#afc7e7"/>
<rect x="85.8" y="422.8" width="20.85" height="1.55" fill="#bfd2ec"/>
<rect x="85.8" y="424.3" width="20.85" height="0.75" fill="#dbe6f4"/>
<rect x="85.8" y="425" width="20.85" height="0.95" fill="#d4e1f2"/>
<rect x="85.8" y="425.9" width="20.85" height="1.55" fill="#e2ebf6"/>
<rect x="85.8" y="427.4" width="20.85" height="2.55" fill="#d4e1f2"/>
<rect x="85.8" y="429.9" width="20.85" height="2.05" fill="#fcfdfe"/>
<rect x="85.8" y="431.9" width="20.85" height="1.15" fill="#f6f9fc"/>
<rect x="85.8" y="433" width="20.85" height="1.25" fill="#acc5e6"/>
<rect x="85.8" y="434.2" width="20.85" height="2.05" fill="#abc4e6"/>
<rect x="85.8" y="436.2" width="20.85" height="1.25" fill="#c6d7ee"/>
<rect x="85.8" y="437.4" width="20.85" height="0.95" fill="#b5cbe9"/>
<rect x="85.8" y="438.3" width="20.85" height="0.95" fill="#aac3e5"/>
<rect x="85.8" y="439.2" width="20.85" height="0.45" fill="#acc5e6"/>
<rect x="106.6" y="214.4" width="20.65" height="2.05" fill="#bcd0eb"/>
<rect x="106.6" y="216.4" width="20.65" height="0.65" fill="#c8d8ee"/>
<rect x="106.6" y="217" width="20.65" height="0.95" fill="#ceddf0"/>
<rect x="106.6" y="217.9" width="20.65" height="0.15" fill="#d7e3f3"/>
<rect x="106.6" y="218" width="20.65" height="0.65" fill="#83a8da"/>
<rect x="106.6" y="218.6" width="20.65" height="0.65" fill="#6594d1"/>
<rect x="106.6" y="219.2" width="20.65" height="1.55" fill="#8fb1dd"/>
<rect x="106.6" y="220.7" width="20.65" height="0.95" fill="#8dafdd"/>
<rect x="106.6" y="221.6" width="20.65" height="0.45" fill="#6291d0"/>
<rect x="106.6" y="222" width="20.65" height="1.25" fill="#b0c8e7"/>
<rect x="106.6" y="223.2" width="20.65" height="0.65" fill="#adc6e7"/>
<rect x="106.6" y="223.8" width="20.65" height="2.05" fill="#aec6e7"/>
<rect x="106.6" y="225.8" width="20.65" height="0.25" fill="#b8cdea"/>
<rect x="106.6" y="226" width="20.65" height="0.95" fill="#dae5f4"/>
<rect x="106.6" y="226.9" width="20.65" height="1.25" fill="#eef3fa"/>
<rect x="106.6" y="228.1" width="20.65" height="1.95" fill="#fafcfe"/>
<rect x="106.6" y="230" width="20.65" height="0.65" fill="#749ed5"/>
<rect x="106.6" y="230.6" width="20.65" height="2.55" fill="#749dd5"/>
<rect x="106.6" y="233.1" width="20.65" height="0.95" fill="#5588cc"/>
<rect x="106.6" y="234" width="20.65" height="1.25" fill="#5b8cce"/>
<rect x="106.6" y="235.2" width="20.65" height="0.95" fill="#88acdb"/>
<rect x="106.6" y="236.1" width="20.65" height="0.65" fill="#729dd5"/>
<rect x="106.6" y="236.7" width="20.65" height="2.55" fill="#83a8da"/>
<rect x="106.6" y="239.2" width="20.65" height="0.65" fill="#7ea5d8"/>
<rect x="106.6" y="239.8" width="20.65" height="1.55" fill="#77a0d6"/>
<rect x="106.6" y="241.3" width="20.65" height="0.95" fill="#749dd5"/>
<rect x="106.6" y="242.2" width="20.65" height="0.65" fill="#5e8ecf"/>
<rect x="106.6" y="242.8" width="20.65" height="1.55" fill="#709bd4"/>
<rect x="106.6" y="244.3" width="20.65" height="0.65" fill="#6896d2"/>
<rect x="106.6" y="244.9" width="20.65" height="1.55" fill="#769fd6"/>
<rect x="106.6" y="246.4" width="20.65" height="0.95" fill="#759ed5"/>
<rect x="106.6" y="247.3" width="20.65" height="0.65" fill="#759fd6"/>
<rect x="106.6" y="247.9" width="20.65" height="1.55" fill="#78a0d6"/>
<rect x="106.6" y="249.4" width="20.65" height="1.55" fill="#87abdb"/>
<rect x="106.6" y="250.9" width="20.65" height="2.55" fill="#6392d0"/>
<rect x="106.6" y="253.4" width="20.65" height="0.65" fill="#6392d0"/>
<rect x="106.6" y="254" width="20.65" height="2.05" fill="#82a7d9"/>
<rect x="106.6" y="256" width="20.65" height="1.55" fill="#6996d2"/>
<rect x="106.6" y="257.5" width="20.65" height="1.25" fill="#759ed6"/>
<rect x="106.6" y="258.7" width="20.65" height="1.55" fill="#79a1d7"/>
<rect x="106.6" y="260.2" width="20.65" height="0.95" fill="#85a9da"/>
<rect x="106.6" y="261.1" width="20.65" height="1.55" fill="#82a8da"/>
<rect x="106.6" y="262.6" width="20.65" height="1.55" fill="#598bcd"/>
<rect x="106.6" y="264.1" width="20.65" height="0.65" fill="#6896d2"/>
<rect x="106.6" y="264.7" width="20.65" height="1.25" fill="#6b98d3"/>
<rect x="106.6" y="265.9" width="20.65" height="0.95" fill="#5a8bcd"/>
<rect x="106.6" y="266.8" width="20.65" height="0.65" fill="#709bd4"/>
<rect x="106.6" y="267.4" width="20.65" height="2.55" fill="#7da4d8"/>
<rect x="106.6" y="269.9" width="20.65" height="1.55" fill="#588acd"/>
<rect x="106.6" y="271.4" width="20.65" height="2.05" fill="#84a9da"/>
<rect x="106.6" y="273.4" width="20.65" height="2.55" fill="#6d99d3"/>
<rect x="106.6" y="275.9" width="20.65" height="0.95" fill="#6593d1"/>
<rect x="106.6" y="276.8" width="20.65" height="0.95" fill="#6e9ad4"/>
<rect x="106.6" y="277.7" width="20.65" height="0.65" fill="#598bcd"/>
<rect x="106.6" y="278.3" width="20.65" height="1.55" fill="#7ba2d7"/>
<rect x="106.6" y="279.8" width="20.65" height="0.95" fill="#6392d0"/>
<rect x="106.6" y="280.7" width="20.65" height="0.65" fill="#86abdb"/>
<rect x="106.6" y="281.3" width="20.65" height="1.55" fill="#6492d0"/>
<rect x="106.6" y="282.8" width="20.65" height="2.05" fill="#84a9da"/>
<rect x="106.6" y="284.8" width="20.65" height="1.55" fill="#588acd"/>
<rect x="106.6" y="286.3" width="20.65" height="2.55" fill="#749dd5"/>
<rect x="106.6" y="288.8" width="20.65" height="0.95" fill="#759ed5"/>
<rect x="106.6" y="289.7" width="20.65" height="0.95" fill="#749dd5"/>
<rect x="106.6" y="290.6" width="20.65" height="2.05" fill="#80a6d9"/>
<rect x="106.6" y="292.6" width="20.65" height="1.55" fill="#5d8dce"/>
<rect x="106.6" y="294.1" width="20.65" height="0.95" fill="#5588cc"/>
<rect x="106.6" y="295" width="20.65" height="2.05" fill="#5b8cce"/>
<rect x="106.6" y="297" width="20.65" height="1.25" fill="#b8cdea"/>
<rect x="106.6" y="298.2" width="20.65" height="0.95" fill="#ebf1f9"/>
<rect x="106.6" y="299.1" width="20.65" height="0.95" fill="#b3cae8"/>
<rect x="106.6" y="300" width="20.65" height="2.05" fill="#e55954"/>
<rect x="106.6" y="302" width="20.65" height="2.55" fill="#ec8480"/>
<rect x="106.6" y="304.5" width="20.65" height="0.55" fill="#eb807c"/>
<rect x="106.6" y="305" width="20.65" height="2.05" fill="#e6605c"/>
<rect x="106.6" y="307" width="20.65" height="2.55" fill="#e44f4a"/>
<rect x="106.6" y="309.5" width="20.65" height="2.55" fill="#e7625e"/>
<rect x="106.6" y="312" width="20.65" height="2.05" fill="#f7cdcc"/>
<rect x="106.6" y="314" width="20.65" height="1.55" fill="#f4b5b3"/>
<rect x="106.6" y="315.5" width="20.65" height="1.55" fill="#f5bebc"/>
<rect x="106.6" y="317" width="20.65" height="0.95" fill="#f9dbda"/>
<rect x="106.6" y="317.9" width="20.65" height="0.15" fill="#f1a2a0"/>
<rect x="106.6" y="318" width="20.65" height="1.55" fill="#fefeff"/>
<rect x="106.6" y="319.5" width="20.65" height="2.05" fill="#f9dad9"/>
<rect x="106.6" y="321.5" width="20.65" height="0.55" fill="#f9d7d6"/>
<rect x="106.6" y="322" width="20.65" height="1.55" fill="#f1a7a5"/>
<rect x="106.6" y="323.5" width="20.65" height="0.65" fill="#f4b7b5"/>
<rect x="106.6" y="324.1" width="20.65" height="1.55" fill="#f2a9a7"/>
<rect x="106.6" y="325.6" width="20.65" height="1.55" fill="#f0a19f"/>
<rect x="106.6" y="327.1" width="20.65" height="2.55" fill="#f5bcba"/>
<rect x="106.6" y="329.6" width="20.65" height="2.55" fill="#f4b7b5"/>
<rect x="106.6" y="332.1" width="20.65" height="0.95" fill="#f2acaa"/>
<rect x="106.6" y="333" width="20.65" height="2.55" fill="#e65d59"/>
<rect x="106.6" y="335.5" width="20.65" height="0.65" fill="#e4514c"/>
<rect x="106.6" y="336.1" width="20.65" height="1.55" fill="#e55651"/>
<rect x="106.6" y="337.6" width="20.65" height="0.95" fill="#ea7773"/>
<rect x="106.6" y="338.5" width="20.65" height="0.65" fill="#e2443f"/>
<rect x="106.6" y="339.1" width="20.65" height="0.95" fill="#e4544f"/>
<rect x="106.6" y="340" width="20.65" height="0.65" fill="#f5c1c0"/>
<rect x="106.6" y="340.6" width="20.65" height="1.55" fill="#f5bcba"/>
<rect x="106.6" y="342.1" width="20.65" height="0.95" fill="#f1a5a3"/>
<rect x="106.6" y="343" width="20.65" height="2.55" fill="#ef9895"/>
<rect x="106.6" y="345.5" width="20.65" height="0.65" fill="#f09d9a"/>
<rect x="106.6" y="346.1" width="20.65" height="0.95" fill="#f0a19f"/>
<rect x="106.6" y="347" width="20.65" height="0.95" fill="#e76763"/>
<rect x="106.6" y="347.9" width="20.65" height="2.05" fill="#e86a66"/>
<rect x="106.6" y="349.9" width="20.65" height="1.55" fill="#e9716d"/>
<rect x="106.6" y="351.4" width="20.65" height="1.65" fill="#e24640"/>
<rect x="106.6" y="353" width="20.65" height="1.55" fill="#ef9693"/>
<rect x="106.6" y="354.5" width="20.65" height="1.25" fill="#eb807c"/>
<rect x="106.6" y="355.7" width="20.65" height="0.95" fill="#ee908d"/>
<rect x="106.6" y="356.6" width="20.65" height="0.65" fill="#ef9794"/>
<rect x="106.6" y="357.2" width="20.65" height="1.55" fill="#ef9996"/>
<rect x="106.6" y="358.7" width="20.65" height="1.25" fill="#eb7c79"/>
<rect x="106.6" y="359.9" width="20.65" height="1.55" fill="#ef9895"/>
<rect x="106.6" y="361.4" width="20.65" height="1.25" fill="#f09b98"/>
<rect x="106.6" y="362.6" width="20.65" height="2.05" fill="#f09f9c"/>
<rect x="106.6" y="364.6" width="20.65" height="1.25" fill="#e86d69"/>
<rect x="106.6" y="365.8" width="20.65" height="1.55" fill="#ec8380"/>
<rect x="106.6" y="367.3" width="20.65" height="2.05" fill="#eb7c78"/>
<rect x="106.6" y="369.3" width="20.65" height="0.65" fill="#ee9491"/>
<rect x="106.6" y="369.9" width="20.65" height="2.05" fill="#eb7f7b"/>
<rect x="106.6" y="371.9" width="20.65" height="1.55" fill="#ea7975"/>
<rect x="106.6" y="373.4" width="20.65" height="1.25" fill="#ee9390"/>
<rect x="106.6" y="374.6" width="20.65" height="1.25" fill="#ec827e"/>
<rect x="106.6" y="375.8" width="20.65" height="1.25" fill="#ee8f8c"/>
<rect x="106.6" y="377" width="20.65" height="0.65" fill="#ed8986"/>
<rect x="106.6" y="377.6" width="20.65" height="0.95" fill="#eb807c"/>
<rect x="106.6" y="378.5" width="20.65" height="0.65" fill="#ee918e"/>
<rect x="106.6" y="379.1" width="20.65" height="2.05" fill="#ee9490"/>
<rect x="106.6" y="381.1" width="20.65" height="2.55" fill="#e86d69"/>
<rect x="106.6" y="383.6" width="20.65" height="2.05" fill="#e96f6b"/>
<rect x="106.6" y="385.6" width="20.65" height="1.25" fill="#ea7976"/>
<rect x="106.6" y="386.8" width="20.65" height="2.55" fill="#f0a09d"/>
<rect x="106.6" y="389.3" width="20.65" height="0.95" fill="#ee918e"/>
<rect x="106.6" y="390.2" width="20.65" height="2.55" fill="#ed8a86"/>
<rect x="106.6" y="392.7" width="20.65" height="2.05" fill="#ed8d8a"/>
<rect x="106.6" y="394.7" width="20.65" height="0.65" fill="#ef9a97"/>
<rect x="106.6" y="395.3" width="20.65" height="0.95" fill="#eb807c"/>
<rect x="106.6" y="396.2" width="20.65" height="0.65" fill="#f0a09e"/>
<rect x="106.6" y="396.8" width="20.65" height="0.65" fill="#ec827f"/>
<rect x="106.6" y="397.4" width="20.65" height="1.25" fill="#f09c99"/>
<rect x="106.6" y="398.6" width="20.65" height="1.25" fill="#ec8481"/>
<rect x="106.6" y="399.8" width="20.65" height="1.55" fill="#ec817e"/>
<rect x="106.6" y="401.3" width="20.65" height="2.05" fill="#ef9a97"/>
<rect x="106.6" y="403.3" width="20.65" height="1.25" fill="#eb7f7c"/>
<rect x="106.6" y="404.5" width="20.65" height="1.55" fill="#ef9996"/>
<rect x="106.6" y="406" width="20.65" height="0.65" fill="#e96f6a"/>
<rect x="106.6" y="406.6" width="20.65" height="0.95" fill="#eb7b77"/>
<rect x="106.6" y="407.5" width="20.65" height="1.55" fill="#f09c99"/>
<rect x="106.6" y="409" width="20.65" height="2.55" fill="#ef9a97"/>
<rect x="106.6" y="411.5" width="20.65" height="2.55" fill="#ea7773"/>
<rect x="106.6" y="414" width="20.65" height="1.55" fill="#ea7571"/>
<rect x="106.6" y="415.5" width="20.65" height="0.65" fill="#f09e9c"/>
<rect x="106.6" y="416.1" width="20.65" height="2.05" fill="#e9716d"/>
<rect x="106.6" y="418.1" width="20.65" height="1.95" fill="#eb7e7b"/>
<rect x="106.6" y="420" width="20.65" height="1.55" fill="#e55954"/>
<rect x="106.6" y="421.5" width="20.65" height="2.05" fill="#e4524d"/>
<rect x="106.6" y="423.5" width="20.65" height="0.95" fill="#e9706c"/>
<rect x="106.6" y="424.4" width="20.65" height="0.65" fill="#ea7672"/>
<rect x="106.6" y="425" width="20.65" height="2.05" fill="#ea7773"/>
<rect x="106.6" y="427" width="20.65" height="0.95" fill="#e86c68"/>
<rect x="106.6" y="427.9" width="20.65" height="0.65" fill="#e34843"/>
<rect x="106.6" y="428.5" width="20.65" height="0.65" fill="#ea7874"/>
<rect x="106.6" y="429.1" width="20.65" height="2.05" fill="#e55651"/>
<rect x="106.6" y="431.1" width="20.65" height="0.95" fill="#e9716d"/>
<rect x="106.6" y="432" width="20.65" height="0.95" fill="#e65d58"/>
<rect x="106.6" y="432.9" width="20.65" height="2.55" fill="#e65e59"/>
<rect x="106.6" y="435.4" width="20.65" height="2.55" fill="#e7625e"/>
<rect x="106.6" y="437.9" width="20.65" height="1.75" fill="#e96f6b"/>
<rect x="127.2" y="214.4" width="20.15" height="1.25" fill="#f9d8d7"/>
<rect x="127.2" y="215.6" width="20.15" height="2.45" fill="#f9d9d8"/>
<rect x="127.2" y="218" width="20.15" height="2.55" fill="#e86965"/>
<rect x="127.2" y="220.5" width="20.15" height="1.55" fill="#ea7673"/>
<rect x="127.2" y="222" width="20.15" height="1.55" fill="#8dafdd"/>
<rect x="127.2" y="223.5" width="20.15" height="2.55" fill="#90b2de"/>
<rect x="127.2" y="226" width="20.15" height="0.65" fill="#87abdb"/>
<rect x="127.2" y="226.6" width="20.15" height="1.55" fill="#6996d2"/>
<rect x="127.2" y="228.1" width="20.15" height="0.65" fill="#6e99d3"/>
<rect x="127.2" y="228.7" width="20.15" height="2.55" fill="#6291d0"/>
<rect x="127.2" y="231.2" width="20.15" height="1.25" fill="#8fb1de"/>
<rect x="127.2" y="232.4" width="20.15" height="2.55" fill="#92b3de"/>
<rect x="127.2" y="234.9" width="20.15" height="1.25" fill="#86aadb"/>
<rect x="127.2" y="236.1" width="20.15" height="1.25" fill="#82a7d9"/>
<rect x="127.2" y="237.3" width="20.15" height="2.55" fill="#77a0d6"/>
<rect x="127.2" y="239.8" width="20.15" height="2.05" fill="#94b4df"/>
<rect x="127.2" y="241.8" width="20.15" height="1.25" fill="#82a7d9"/>
<rect x="127.2" y="243" width="20.15" height="0.95" fill="#6593d1"/>
<rect x="127.2" y="243.9" width="20.15" height="2.05" fill="#6190d0"/>
<rect x="127.2" y="245.9" width="20.15" height="1.25" fill="#90b1de"/>
<rect x="127.2" y="247.1" width="20.15" height="2.55" fill="#6b97d3"/>
<rect x="127.2" y="249.6" width="20.15" height="0.95" fill="#88abdb"/>
<rect x="127.2" y="250.5" width="20.15" height="1.25" fill="#6a97d2"/>
<rect x="127.2" y="251.7" width="20.15" height="1.55" fill="#719cd5"/>
<rect x="127.2" y="253.2" width="20.15" height="0.95" fill="#749ed5"/>
<rect x="127.2" y="254.1" width="20.15" height="2.55" fill="#91b2de"/>
<rect x="127.2" y="256.6" width="20.15" height="2.55" fill="#8dafdd"/>
<rect x="127.2" y="259.1" width="20.15" height="2.05" fill="#79a1d7"/>
<rect x="127.2" y="261.1" width="20.15" height="2.05" fill="#85aada"/>
<rect x="127.2" y="263.1" width="20.15" height="0.65" fill="#77a0d6"/>
<rect x="127.2" y="263.7" width="20.15" height="2.55" fill="#6c98d3"/>
<rect x="127.2" y="266.2" width="20.15" height="1.25" fill="#8aaddc"/>
<rect x="127.2" y="267.4" width="20.15" height="1.55" fill="#81a7d9"/>
<rect x="127.2" y="268.9" width="20.15" height="0.65" fill="#7ea5d8"/>
<rect x="127.2" y="269.5" width="20.15" height="0.95" fill="#6895d2"/>
<rect x="127.2" y="270.4" width="20.15" height="0.65" fill="#6694d1"/>
<rect x="127.2" y="271" width="20.15" height="2.05" fill="#91b2de"/>
<rect x="127.2" y="273" width="20.15" height="1.25" fill="#94b4df"/>
<rect x="127.2" y="274.2" width="20.15" height="2.55" fill="#6291d0"/>
<rect x="127.2" y="276.7" width="20.15" height="0.65" fill="#6795d2"/>
<rect x="127.2" y="277.3" width="20.15" height="2.55" fill="#82a7d9"/>
<rect x="127.2" y="279.8" width="20.15" height="2.55" fill="#6492d0"/>
<rect x="127.2" y="282.3" width="20.15" height="0.65" fill="#6492d0"/>
<rect x="127.2" y="282.9" width="20.15" height="2.05" fill="#88acdb"/>
<rect x="127.2" y="284.9" width="20.15" height="0.95" fill="#8baedc"/>
<rect x="127.2" y="285.8" width="20.15" height="2.05" fill="#8fb1de"/>
<rect x="127.2" y="287.8" width="20.15" height="0.65" fill="#8fb0dd"/>
<rect x="127.2" y="288.4" width="20.15" height="2.55" fill="#92b3de"/>
<rect x="127.2" y="290.9" width="20.15" height="0.65" fill="#6d99d3"/>
<rect x="127.2" y="291.5" width="20.15" height="0.95" fill="#6694d1"/>
<rect x="127.2" y="292.4" width="20.15" height="0.65" fill="#92b3de"/>
<rect x="127.2" y="293" width="20.15" height="2.55" fill="#6593d1"/>
<rect x="127.2" y="295.5" width="20.15" height="1.55" fill="#81a7d9"/>
<rect x="127.2" y="297" width="20.15" height="1.55" fill="#eb817d"/>
<rect x="127.2" y="298.5" width="20.15" height="0.65" fill="#e65c57"/>
<rect x="127.2" y="299.1" width="20.15" height="2.55" fill="#eb7b77"/>
<rect x="127.2" y="301.6" width="20.15" height="1.25" fill="#e97470"/>
<rect x="127.2" y="302.8" width="20.15" height="1.25" fill="#ec8581"/>
<rect x="127.2" y="304" width="20.15" height="1.05" fill="#e55450"/>
<rect x="127.2" y="305" width="20.15" height="0.65" fill="#f3b2b0"/>
<rect x="127.2" y="305.6" width="20.15" height="1.25" fill="#f1a7a4"/>
<rect x="127.2" y="306.8" width="20.15" height="2.05" fill="#f5bebc"/>
<rect x="127.2" y="308.8" width="20.15" height="1.25" fill="#f4b7b5"/>
<rect x="127.2" y="310" width="20.15" height="0.65" fill="#f2aeab"/>
<rect x="127.2" y="310.6" width="20.15" height="0.65" fill="#f6c2c0"/>
<rect x="127.2" y="311.2" width="20.15" height="0.65" fill="#f6c7c6"/>
<rect x="127.2" y="311.8" width="20.15" height="0.25" fill="#f9d9d8"/>
<rect x="127.2" y="312" width="20.15" height="2.05" fill="#e24540"/>
<rect x="127.2" y="314" width="20.15" height="0.65" fill="#df332d"/>
<rect x="127.2" y="314.6" width="20.15" height="1.25" fill="#e34843"/>
<rect x="127.2" y="315.8" width="20.15" height="0.65" fill="#e03630"/>
<rect x="127.2" y="316.4" width="20.15" height="1.25" fill="#de2a24"/>
<rect x="127.2" y="317.6" width="20.15" height="0.65" fill="#e4514c"/>
<rect x="127.2" y="318.2" width="20.15" height="1.55" fill="#e34c47"/>
<rect x="127.2" y="319.7" width="20.15" height="2.35" fill="#de2a24"/>
<rect x="127.2" y="322" width="20.15" height="0.95" fill="#e24540"/>
<rect x="127.2" y="322.9" width="20.15" height="2.05" fill="#e76662"/>
<rect x="127.2" y="324.9" width="20.15" height="2.05" fill="#e86b66"/>
<rect x="127.2" y="326.9" width="20.15" height="0.95" fill="#e86965"/>
<rect x="127.2" y="327.8" width="20.15" height="0.95" fill="#e24742"/>
<rect x="127.2" y="328.7" width="20.15" height="0.95" fill="#e65e59"/>
<rect x="127.2" y="329.6" width="20.15" height="0.65" fill="#e24742"/>
<rect x="127.2" y="330.2" width="20.15" height="0.65" fill="#e65e5a"/>
<rect x="127.2" y="330.8" width="20.15" height="2.25" fill="#e65b56"/>
<rect x="127.2" y="333" width="20.15" height="0.65" fill="#f4b7b5"/>
<rect x="127.2" y="333.6" width="20.15" height="1.25" fill="#f9d6d5"/>
<rect x="127.2" y="334.8" width="20.15" height="1.55" fill="#f1a8a5"/>
<rect x="127.2" y="336.3" width="20.15" height="1.75" fill="#f9d7d6"/>
<rect x="127.2" y="338" width="20.15" height="2.55" fill="#f3aeac"/>
<rect x="127.2" y="340.5" width="20.15" height="0.95" fill="#f09f9c"/>
<rect x="127.2" y="341.4" width="20.15" height="1.55" fill="#eb7e7a"/>
<rect x="127.2" y="342.9" width="20.15" height="2.05" fill="#f1a6a4"/>
<rect x="127.2" y="344.9" width="20.15" height="0.15" fill="#f1a3a0"/>
<rect x="127.2" y="345" width="20.15" height="1.55" fill="#ed8d8a"/>
<rect x="127.2" y="346.5" width="20.15" height="2.05" fill="#e86b67"/>
<rect x="127.2" y="348.5" width="20.15" height="2.05" fill="#e9716d"/>
<rect x="127.2" y="350.5" width="20.15" height="1.25" fill="#e97470"/>
<rect x="127.2" y="351.7" width="20.15" height="2.05" fill="#ed8b88"/>
<rect x="127.2" y="353.7" width="20.15" height="1.35" fill="#e9706c"/>
<rect x="127.2" y="355" width="20.15" height="2.55" fill="#e34d48"/>
<rect x="127.2" y="357.5" width="20.15" height="1.55" fill="#e24742"/>
<rect x="127.2" y="359" width="20.15" height="1.25" fill="#e1403a"/>
<rect x="127.2" y="360.2" width="20.15" height="0.95" fill="#e34c47"/>
<rect x="127.2" y="361.1" width="20.15" height="2.55" fill="#df302a"/>
<rect x="127.2" y="363.6" width="20.15" height="0.95" fill="#e2433e"/>
<rect x="127.2" y="364.5" width="20.15" height="1.25" fill="#e44e49"/>
<rect x="127.2" y="365.7" width="20.15" height="2.55" fill="#df332d"/>
<rect x="127.2" y="368.2" width="20.15" height="2.05" fill="#e55651"/>
<rect x="127.2" y="370.2" width="20.15" height="0.95" fill="#de2b25"/>
<rect x="127.2" y="371.1" width="20.15" height="2.55" fill="#e34d48"/>
<rect x="127.2" y="373.6" width="20.15" height="2.05" fill="#e34c47"/>
<rect x="127.2" y="375.6" width="20.15" height="0.95" fill="#e34d48"/>
<rect x="127.2" y="376.5" width="20.15" height="0.95" fill="#e4504b"/>
<rect x="127.2" y="377.4" width="20.15" height="2.55" fill="#de2a24"/>
<rect x="127.2" y="379.9" width="20.15" height="0.95" fill="#de2c26"/>
<rect x="127.2" y="380.8" width="20.15" height="0.65" fill="#e4544f"/>
<rect x="127.2" y="381.4" width="20.15" height="0.95" fill="#de2b25"/>
<rect x="127.2" y="382.3" width="20.15" height="1.25" fill="#e03832"/>
<rect x="127.2" y="383.5" width="20.15" height="1.55" fill="#e4504b"/>
<rect x="127.2" y="385" width="20.15" height="0.65" fill="#e13d37"/>
<rect x="127.2" y="385.6" width="20.15" height="0.65" fill="#e44f4a"/>
<rect x="127.2" y="386.2" width="20.15" height="1.55" fill="#e24640"/>
<rect x="127.2" y="387.7" width="20.15" height="0.65" fill="#e34944"/>
<rect x="127.2" y="388.3" width="20.15" height="1.55" fill="#e03a34"/>
<rect x="127.2" y="389.8" width="20.15" height="2.05" fill="#de2b25"/>
<rect x="127.2" y="391.8" width="20.15" height="1.25" fill="#e24640"/>
<rect x="127.2" y="393" width="20.15" height="0.95" fill="#e4504b"/>
<rect x="127.2" y="393.9" width="20.15" height="2.55" fill="#e34944"/>
<rect x="127.2" y="396.4" width="20.15" height="2.55" fill="#e4514c"/>
<rect x="127.2" y="398.9" width="20.15" height="1.55" fill="#e03934"/>
<rect x="127.2" y="400.4" width="20.15" height="2.05" fill="#e03731"/>
<rect x="127.2" y="402.4" width="20.15" height="1.55" fill="#df322c"/>
<rect x="127.2" y="403.9" width="20.15" height="2.55" fill="#e03833"/>
<rect x="127.2" y="406.4" width="20.15" height="2.55" fill="#e03934"/>
<rect x="127.2" y="408.9" width="20.15" height="0.95" fill="#e13a35"/>
<rect x="127.2" y="409.8" width="20.15" height="2.55" fill="#e55753"/>
<rect x="127.2" y="412.3" width="20.15" height="1.55" fill="#e34d48"/>
<rect x="127.2" y="413.8" width="20.15" height="2.55" fill="#e03934"/>
<rect x="127.2" y="416.3" width="20.15" height="1.55" fill="#e4514c"/>
<rect x="127.2" y="417.8" width="20.15" height="1.55" fill="#e03933"/>
<rect x="127.2" y="419.3" width="20.15" height="2.55" fill="#e55651"/>
<rect x="127.2" y="421.8" width="20.15" height="1.55" fill="#e2453f"/>
<rect x="127.2" y="423.3" width="20.15" height="0.65" fill="#e13d38"/>
<rect x="127.2" y="423.9" width="20.15" height="1.55" fill="#e2433d"/>
<rect x="127.2" y="425.4" width="20.15" height="2.55" fill="#df2e28"/>
<rect x="127.2" y="427.9" width="20.15" height="0.95" fill="#df2f2a"/>
<rect x="127.2" y="428.8" width="20.15" height="1.25" fill="#e03530"/>
<rect x="127.2" y="430" width="20.15" height="1.55" fill="#df332d"/>
<rect x="127.2" y="431.5" width="20.15" height="0.65" fill="#e65c57"/>
<rect x="127.2" y="432.1" width="20.15" height="2.05" fill="#e4524e"/>
<rect x="127.2" y="434.1" width="20.15" height="2.55" fill="#e03530"/>
<rect x="127.2" y="436.6" width="20.15" height="0.95" fill="#e2433d"/>
<rect x="127.2" y="437.5" width="20.15" height="0.65" fill="#df322c"/>
<rect x="127.2" y="438.1" width="20.15" height="1.55" fill="#e2423c"/>
</g>
<rect x="44.4" y="214.4" width="102.8" height="225.2" fill="none" stroke="#444" stroke-width="0.8"/>
<defs><linearGradient id="zg" x1="0" y1="0" x2="0" y2="1"><stop offset="0" stop-color="#de2a24"/><stop offset="0.5" stop-color="#ffffff"/><stop offset="1" stop-color="#2d6cc0"/></linearGradient></defs>
<rect x="11.2" y="396.8" width="5.2" height="36.9" fill="url(#zg)" stroke="#555" stroke-width="0.5"/>
<text x="19.5" y="400.88" font-size="6.6" fill="#111" stroke="#111">1.5</text>
<text x="19.5" y="417.88" font-size="6.6" fill="#111" stroke="#111">0</text>
<text x="19.5" y="435.88" font-size="6.6" fill="#111" stroke="#111">−1.5</text>
<text transform="translate(7.6,412.7) rotate(-90)" font-size="8.6" text-anchor="middle" fill="#111" stroke="#111"><tspan font-style="italic">Z</tspan>-score</text>
<text transform="translate(14.2,258) rotate(-90)" font-size="8.6" text-anchor="middle" fill="#111" stroke="#111">717 proteins</text>
<text x="95" y="450.8" font-size="8.6" text-anchor="middle" fill="#111" stroke="#111">79 Liver samples</text>
<g stroke="#222" stroke-width="0.8" fill="none"><path d="M24 218H17.3V298.7H23.3"/></g>
<g stroke="#3a6cbf" stroke-width="0.6" fill="none">
<path d="M39.94 295.96L40.9 295.96M40.23 296.36L40.9 296.36M39.77 295.96L39.77 296.36M39.77 295.96L39.94 295.96M39.77 296.36L40.23 296.36M40.32 292.14L40.9 292.14M40.42 293.47L40.9 293.47M40.12 292.14L40.12 293.47M40.12 292.14L40.32 292.14M40.12 293.47L40.42 293.47M40.42 294.36L40.9 294.36M40.4 295.3L40.9 295.3M40.05 294.36L40.05 295.3M40.05 294.36L40.42 294.36M40.05 295.3L40.4 295.3M39.57 292.81L39.57 294.83M39.57 292.81L40.12 292.81M39.57 294.83L40.05 294.83M38.71 293.82L38.71 296.16M38.71 293.82L39.57 293.82M38.71 296.16L39.77 296.16M39.31 289.81L40.9 289.81M40.15 290.39L40.9 290.39M40.04 290.95L40.9 290.95M39.78 290.39L39.78 290.95M39.78 290.39L40.15 290.39M39.78 290.95L40.04 290.95M38.9 289.81L38.9 290.67M38.9 289.81L39.31 289.81M38.9 290.67L39.78 290.67M38.49 290.24L38.49 294.99M38.49 290.24L38.9 290.24M38.49 294.99L38.71 294.99M40.37 285.65L40.9 285.65M40.41 286.16L40.9 286.16M40.01 285.65L40.01 286.16M40.01 285.65L40.37 285.65M40.01 286.16L40.41 286.16M40.09 286.58L40.9 286.58M40.31 287.02L40.9 287.02M39.91 286.58L39.91 287.02M39.91 286.58L40.09 286.58M39.91 287.02L40.31 287.02M39.37 285.9L39.37 286.8M39.37 285.9L40.01 285.9M39.37 286.8L39.91 286.8M40.4 287.45L40.9 287.45M40.36 287.91L40.9 287.91M40.26 287.45L40.26 287.91M40.26 287.45L40.4 287.45M40.26 287.91L40.36 287.91M40.42 288.45L40.9 288.45M40.1 287.68L40.1 288.45M40.1 287.68L40.26 287.68M40.1 288.45L40.42 288.45M40.38 289.01L40.9 289.01M40.11 289.37L40.9 289.37M39.95 289.01L39.95 289.37M39.95 289.01L40.38 289.01M39.95 289.37L40.11 289.37M39.52 288.07L39.52 289.19M39.52 288.07L40.1 288.07M39.52 289.19L39.95 289.19M38.87 286.35L38.87 288.63M38.87 286.35L39.37 286.35M38.87 288.63L39.52 288.63M37.96 287.49L37.96 292.61M37.96 287.49L38.87 287.49M37.96 292.61L38.49 292.61M40.36 280.99L40.9 280.99M40.39 281.34L40.9 281.34M39.98 280.99L39.98 281.34M39.98 280.99L40.36 280.99M39.98 281.34L40.39 281.34M40.21 281.82L40.9 281.82M39.82 281.16L39.82 281.82M39.82 281.16L39.98 281.16M39.82 281.82L40.21 281.82M40.04 282.31L40.9 282.31M39.71 282.71L40.9 282.71M39.35 282.31L39.35 282.71M39.35 282.31L40.04 282.31M39.35 282.71L39.71 282.71M39.07 281.49L39.07 282.51M39.07 281.49L39.82 281.49M39.07 282.51L39.35 282.51M40.04 283.07L40.9 283.07M40.12 283.46L40.9 283.46M39.73 283.07L39.73 283.46M39.73 283.07L40.04 283.07M39.73 283.46L40.12 283.46M39.64 284L40.9 284M40.41 284.51L40.9 284.51M40.39 285.02L40.9 285.02M40.03 284.51L40.03 285.02M40.03 284.51L40.41 284.51M40.03 285.02L40.39 285.02M39.42 284L39.42 284.76M39.42 284L39.64 284M39.42 284.76L40.03 284.76M39.17 283.26L39.17 284.38M39.17 283.26L39.73 283.26M39.17 284.38L39.42 284.38M38.67 282L38.67 283.82M38.67 282L39.07 282M38.67 283.82L39.17 283.82M37.41 282.91L37.41 290.05M37.41 282.91L38.67 282.91M37.41 290.05L37.96 290.05M39.84 277.57L40.9 277.57M39.8 278.04L40.9 278.04M39.39 277.57L39.39 278.04M39.39 277.57L39.84 277.57M39.39 278.04L39.8 278.04M39.74 278.42L40.9 278.42M39.77 278.83L40.9 278.83M39.43 278.42L39.43 278.83M39.43 278.42L39.74 278.42M39.43 278.83L39.77 278.83M38.71 277.8L38.71 278.63M38.71 277.8L39.39 277.8M38.71 278.63L39.43 278.63M39.84 279.19L40.9 279.19M40.24 279.52L40.9 279.52M40.24 279.96L40.9 279.96M39.91 279.52L39.91 279.96M39.91 279.52L40.24 279.52M39.91 279.96L40.24 279.96M39.45 279.19L39.45 279.74M39.45 279.19L39.84 279.19M39.45 279.74L39.91 279.74M39.47 280.56L40.9 280.56M38.83 279.46L38.83 280.56M38.83 279.46L39.45 279.46M38.83 280.56L39.47 280.56M37.78 278.21L37.78 280.01M37.78 278.21L38.71 278.21M37.78 280.01L38.83 280.01M37.03 279.11L37.03 286.48M37.03 279.11L37.78 279.11M37.03 286.48L37.41 286.48M39.34 272.47L40.9 272.47M39.95 272.94L40.9 272.94M40.03 273.36L40.9 273.36M39.7 272.94L39.7 273.36M39.7 272.94L39.95 272.94M39.7 273.36L40.03 273.36M39.05 272.47L39.05 273.15M39.05 272.47L39.34 272.47M39.05 273.15L39.7 273.15M39.86 273.66L40.9 273.66M39.96 274.07L40.9 274.07M39.51 273.66L39.51 274.07M39.51 273.66L39.86 273.66M39.51 274.07L39.96 274.07M39.88 274.46L40.9 274.46M40.05 274.81L40.9 274.81M39.54 274.46L39.54 274.81M39.54 274.46L39.88 274.46M39.54 274.81L40.05 274.81M39.08 273.87L39.08 274.64M39.08 273.87L39.51 273.87M39.08 274.64L39.54 274.64M38.03 272.81L38.03 274.25M38.03 272.81L39.05 272.81M38.03 274.25L39.08 274.25M39.48 275.17L40.9 275.17M39.81 275.51L40.9 275.51M39.11 275.17L39.11 275.51M39.11 275.17L39.48 275.17M39.11 275.51L39.81 275.51M39.57 276.02L40.9 276.02M39.9 276.59L40.9 276.59M39.98 277.06L40.9 277.06M39.7 276.59L39.7 277.06M39.7 276.59L39.9 276.59M39.7 277.06L39.98 277.06M39.25 276.02L39.25 276.82M39.25 276.02L39.57 276.02M39.25 276.82L39.7 276.82M38.3 275.34L38.3 276.42M38.3 275.34L39.11 275.34M38.3 276.42L39.25 276.42M36.9 273.53L36.9 275.88M36.9 273.53L38.03 273.53M36.9 275.88L38.3 275.88M36.53 274.7L36.53 282.8M36.53 274.7L36.9 274.7M36.53 282.8L37.03 282.8M39.27 268.55L40.9 268.55M39.11 269.02L40.9 269.02M38.65 268.55L38.65 269.02M38.65 268.55L39.27 268.55M38.65 269.02L39.11 269.02M39.53 269.46L40.9 269.46M39.95 270.07L40.9 270.07M39.63 270.6L40.9 270.6M39.33 270.07L39.33 270.6M39.33 270.07L39.95 270.07M39.33 270.6L39.63 270.6M38.94 269.46L38.94 270.34M38.94 269.46L39.53 269.46M38.94 270.34L39.33 270.34M37.94 268.78L37.94 269.9M37.94 268.78L38.65 268.78M37.94 269.9L38.94 269.9M39.42 271.1L40.9 271.1M39.68 271.68L40.9 271.68M39.57 272.12L40.9 272.12M39.29 271.68L39.29 272.12M39.29 271.68L39.68 271.68M39.29 272.12L39.57 272.12M38.47 271.1L38.47 271.9M38.47 271.1L39.42 271.1M38.47 271.9L39.29 271.9M36.82 269.34L36.82 271.5M36.82 269.34L37.94 269.34M36.82 271.5L38.47 271.5M36.12 270.42L36.12 278.75M36.12 270.42L36.82 270.42M36.12 278.75L36.53 278.75M38.42 266.44L40.9 266.44M38.87 266.98L40.9 266.98M38.75 267.32L40.9 267.32M38.41 266.98L38.41 267.32M38.41 266.98L38.87 266.98M38.41 267.32L38.75 267.32M37.52 266.44L37.52 267.15M37.52 266.44L38.42 266.44M37.52 267.15L38.41 267.15M38.97 267.71L40.9 267.71M39.08 268.11L40.9 268.11M37.62 267.71L37.62 268.11M37.62 267.71L38.97 267.71M37.62 268.11L39.08 268.11M36.56 266.79L36.56 267.91M36.56 266.79L37.52 266.79M36.56 267.91L37.62 267.91M35.91 267.35L35.91 274.59M35.91 267.35L36.56 267.35M35.91 274.59L36.12 274.59M39.87 262.25L40.9 262.25M40.07 262.66L40.9 262.66M39.68 262.25L39.68 262.66M39.68 262.25L39.87 262.25M39.68 262.66L40.07 262.66M40.17 263.09L40.9 263.09M39.88 263.49L40.9 263.49M39.71 263.09L39.71 263.49M39.71 263.09L40.17 263.09M39.71 263.49L39.88 263.49M39.33 262.45L39.33 263.29M39.33 262.45L39.68 262.45M39.33 263.29L39.71 263.29M40.25 263.97L40.9 263.97M40.14 264.34L40.9 264.34M39.79 263.97L39.79 264.34M39.79 263.97L40.25 263.97M39.79 264.34L40.14 264.34M39.91 264.65L40.9 264.65M39.18 264.16L39.18 264.65M39.18 264.16L39.79 264.16M39.18 264.65L39.91 264.65M38.28 262.87L38.28 264.4M38.28 262.87L39.33 262.87M38.28 264.4L39.18 264.4M38.61 265.04L40.9 265.04M38.97 265.43L40.9 265.43M38.84 265.88L40.9 265.88M37.95 265.43L37.95 265.88M37.95 265.43L38.97 265.43M37.95 265.88L38.84 265.88M37.27 265.04L37.27 265.65M37.27 265.04L38.61 265.04M37.27 265.65L37.95 265.65M36.33 263.64L36.33 265.34M36.33 263.64L38.28 263.64M36.33 265.34L37.27 265.34M35.51 264.49L35.51 270.97M35.51 264.49L36.33 264.49M35.51 270.97L35.91 270.97M39.38 258.96L40.9 258.96M39.28 259.42L40.9 259.42M38.88 258.96L38.88 259.42M38.88 258.96L39.38 258.96M38.88 259.42L39.28 259.42M40.05 259.82L40.9 259.82M40 260.17L40.9 260.17M39.42 259.82L39.42 260.17M39.42 259.82L40.05 259.82M39.42 260.17L40 260.17M38.93 260.64L40.9 260.64M38.47 259.99L38.47 260.64M38.47 259.99L39.42 259.99M38.47 260.64L38.93 260.64M37.5 259.19L37.5 260.32M37.5 259.19L38.88 259.19M37.5 260.32L38.47 260.32M38.09 261.2L40.9 261.2M38.32 261.55L40.9 261.55M37.6 261.2L37.6 261.55M37.6 261.2L38.09 261.2M37.6 261.55L38.32 261.55M38.34 261.88L40.9 261.88M37.07 261.37L37.07 261.88M37.07 261.37L37.6 261.37M37.07 261.88L38.34 261.88M35.84 259.75L35.84 261.63M35.84 259.75L37.5 259.75M35.84 261.63L37.07 261.63M35.05 260.69L35.05 267.73M35.05 260.69L35.84 260.69M35.05 267.73L35.51 267.73M37.68 254.1L40.9 254.1M39.4 254.53L40.9 254.53M39.4 254.87L40.9 254.87M38.94 254.53L38.94 254.87M38.94 254.53L39.4 254.53M38.94 254.87L39.4 254.87M38.15 255.19L40.9 255.19M37.61 254.7L37.61 255.19M37.61 254.7L38.94 254.7M37.61 255.19L38.15 255.19M37 254.1L37 254.94M37 254.1L37.68 254.1M37 254.94L37.61 254.94M38.37 255.55L40.9 255.55M38.3 256.04L40.9 256.04M37.08 255.55L37.08 256.04M37.08 255.55L38.37 255.55M37.08 256.04L38.3 256.04M36.39 254.52L36.39 255.8M36.39 254.52L37 254.52M36.39 255.8L37.08 255.8M38.45 256.49L40.9 256.49M38.99 256.83L40.9 256.83M39.06 257.17L40.9 257.17M38.63 256.83L38.63 257.17M38.63 256.83L38.99 256.83M38.63 257.17L39.06 257.17M37.35 256.49L37.35 257M37.35 256.49L38.45 256.49M37.35 257L38.63 257M38.63 257.65L40.9 257.65M39.63 258.11L40.9 258.11M39.51 258.48L40.9 258.48M38.82 258.11L38.82 258.48M38.82 258.11L39.63 258.11M38.82 258.48L39.51 258.48M37.54 257.65L37.54 258.3M37.54 257.65L38.63 257.65M37.54 258.3L38.82 258.3M36.49 256.75L36.49 257.98M36.49 256.75L37.35 256.75M36.49 257.98L37.54 257.98M34.74 255.16L34.74 257.36M34.74 255.16L36.39 255.16M34.74 257.36L36.49 257.36M34.12 256.26L34.12 264.21M34.12 256.26L34.74 256.26M34.12 264.21L35.05 264.21M38.79 250.59L40.9 250.59M38.94 250.95L40.9 250.95M37.87 250.59L37.87 250.95M37.87 250.59L38.79 250.59M37.87 250.95L38.94 250.95M38.43 251.29L40.9 251.29M38.43 251.7L40.9 251.7M37.53 251.29L37.53 251.7M37.53 251.29L38.43 251.29M37.53 251.7L38.43 251.7M36.21 250.77L36.21 251.49M36.21 250.77L37.87 250.77M36.21 251.49L37.53 251.49M39.67 252.16L40.9 252.16M39.99 252.56L40.9 252.56M39.41 252.16L39.41 252.56M39.41 252.16L39.67 252.16M39.41 252.56L39.99 252.56M39 252.97L40.9 252.97M38.47 252.36L38.47 252.97M38.47 252.36L39.41 252.36M38.47 252.97L39 252.97M37.72 253.51L40.9 253.51M36.64 252.67L36.64 253.51M36.64 252.67L38.47 252.67M36.64 253.51L37.72 253.51M34.29 251.13L34.29 253.09M34.29 251.13L36.21 251.13M34.29 253.09L36.64 253.09M33.47 252.11L33.47 260.23M33.47 252.11L34.29 252.11M33.47 260.23L34.12 260.23M39.61 245.08L40.9 245.08M39.13 245.43L40.9 245.43M38.71 245.08L38.71 245.43M38.71 245.08L39.61 245.08M38.71 245.43L39.13 245.43M38.75 245.88L40.9 245.88M38.33 245.26L38.33 245.88M38.33 245.26L38.71 245.26M38.33 245.88L38.75 245.88M39.44 246.26L40.9 246.26M39.58 246.63L40.9 246.63M39.69 246.97L40.9 246.97M38.88 246.63L38.88 246.97M38.88 246.63L39.58 246.63M38.88 246.97L39.69 246.97M38.46 246.26L38.46 246.8M38.46 246.26L39.44 246.26M38.46 246.8L38.88 246.8M37.92 245.57L37.92 246.53M37.92 245.57L38.33 245.57M37.92 246.53L38.46 246.53M39.37 247.25L40.9 247.25M39.46 247.61L40.9 247.61M39.81 247.95L40.9 247.95M39.17 247.61L39.17 247.95M39.17 247.61L39.46 247.61M39.17 247.95L39.81 247.95M38.44 247.25L38.44 247.78M38.44 247.25L39.37 247.25M38.44 247.78L39.17 247.78M38.69 248.32L40.9 248.32M37.29 247.52L37.29 248.32M37.29 247.52L38.44 247.52M37.29 248.32L38.69 248.32M36.57 246.05L36.57 247.92M36.57 246.05L37.92 246.05M36.57 247.92L37.29 247.92M38.55 248.89L40.9 248.89M37.83 249.53L40.9 249.53M37 248.89L37 249.53M37 248.89L38.55 248.89M37 249.53L37.83 249.53M37.38 250.14L40.9 250.14M36.29 249.21L36.29 250.14M36.29 249.21L37 249.21M36.29 250.14L37.38 250.14M33.86 246.99L33.86 249.68M33.86 246.99L36.57 246.99M33.86 249.68L36.29 249.68M32.77 248.33L32.77 256.17M32.77 248.33L33.86 248.33M32.77 256.17L33.47 256.17M36.98 242.75L40.9 242.75M37.02 243.24L40.9 243.24M35.66 242.75L35.66 243.24M35.66 242.75L36.98 242.75M35.66 243.24L37.02 243.24M37.31 243.83L40.9 243.83M38.61 244.35L40.9 244.35M37.88 244.76L40.9 244.76M36.79 244.35L36.79 244.76M36.79 244.35L38.61 244.35M36.79 244.76L37.88 244.76M36 243.83L36 244.56M36 243.83L37.31 243.83M36 244.56L36.79 244.56M33.09 243L33.09 244.19M33.09 243L35.66 243M33.09 244.19L36 244.19M32.58 243.59L32.58 252.25M32.58 243.59L33.09 243.59M32.58 252.25L32.77 252.25M37.57 240.26L40.9 240.26M37.52 240.72L40.9 240.72M36.16 240.26L36.16 240.72M36.16 240.26L37.57 240.26M36.16 240.72L37.52 240.72M39.22 241.07L40.9 241.07M39.36 241.52L40.9 241.52M38.23 241.07L38.23 241.52M38.23 241.07L39.22 241.07M38.23 241.52L39.36 241.52M38.18 242L40.9 242M38.5 242.35L40.9 242.35M37.15 242L37.15 242.35M37.15 242L38.18 242M37.15 242.35L38.5 242.35M36.31 241.29L36.31 242.17M36.31 241.29L38.23 241.29M36.31 242.17L37.15 242.17M33.58 240.49L33.58 241.73M33.58 240.49L36.16 240.49M33.58 241.73L36.31 241.73M32.38 241.11L32.38 247.92M32.38 241.11L33.58 241.11M32.38 247.92L32.58 247.92M36.8 235.43L40.9 235.43M37.48 235.85L40.9 235.85M35.59 235.43L35.59 235.85M35.59 235.43L36.8 235.43M35.59 235.85L37.48 235.85M38.31 236.25L40.9 236.25M37.94 236.81L40.9 236.81M36.56 236.25L36.56 236.81M36.56 236.25L38.31 236.25M36.56 236.81L37.94 236.81M34.19 235.64L34.19 236.53M34.19 235.64L35.59 235.64M34.19 236.53L36.56 236.53M37.52 237.4L40.9 237.4M37.22 237.99L40.9 237.99M36.37 237.4L36.37 237.99M36.37 237.4L37.52 237.4M36.37 237.99L37.22 237.99M38.84 238.42L40.9 238.42M38.24 238.8L40.9 238.8M37.17 238.42L37.17 238.8M37.17 238.42L38.84 238.42M37.17 238.8L38.24 238.8M38.72 239.3L40.9 239.3M39.07 239.77L40.9 239.77M37.87 239.3L37.87 239.77M37.87 239.3L38.72 239.3M37.87 239.77L39.07 239.77M36.02 238.61L36.02 239.54M36.02 238.61L37.17 238.61M36.02 239.54L37.87 239.54M35.21 237.7L35.21 239.07M35.21 237.7L36.37 237.7M35.21 239.07L36.02 239.07M32.53 236.08L32.53 238.38M32.53 236.08L34.19 236.08M32.53 238.38L35.21 238.38M32.01 237.23L32.01 244.52M32.01 237.23L32.53 237.23M32.01 244.52L32.38 244.52M36.74 233.85L40.9 233.85M37.33 234.26L40.9 234.26M35.27 233.85L35.27 234.26M35.27 233.85L36.74 233.85M35.27 234.26L37.33 234.26M37.28 234.65L40.9 234.65M36.91 235.02L40.9 235.02M35.86 234.65L35.86 235.02M35.86 234.65L37.28 234.65M35.86 235.02L36.91 235.02M33 234.05L33 234.84M33 234.05L35.27 234.05M33 234.84L35.86 234.84M31.72 234.45L31.72 240.88M31.72 234.45L33 234.45M31.72 240.88L32.01 240.88M36.29 232.16L40.9 232.16M36.2 232.68L40.9 232.68M35.06 232.16L35.06 232.68M35.06 232.16L36.29 232.16M35.06 232.68L36.2 232.68M36.84 233.01L40.9 233.01M37.66 233.37L40.9 233.37M35.86 233.01L35.86 233.37M35.86 233.01L36.84 233.01M35.86 233.37L37.66 233.37M31.95 232.42L31.95 233.19M31.95 232.42L35.06 232.42M31.95 233.19L35.86 233.19M31.37 232.8L31.37 237.66M31.37 232.8L31.95 232.8M31.37 237.66L31.72 237.66M36.27 228.01L40.9 228.01M38.39 228.36L40.9 228.36M38.62 228.73L40.9 228.73M37.56 228.36L37.56 228.73M37.56 228.36L38.39 228.36M37.56 228.73L38.62 228.73M35.36 228.01L35.36 228.54M35.36 228.01L36.27 228.01M35.36 228.54L37.56 228.54M37.94 229.15L40.9 229.15M37.58 229.59L40.9 229.59M36.75 229.15L36.75 229.59M36.75 229.15L37.94 229.15M36.75 229.59L37.58 229.59M37.24 230.14L40.9 230.14M36.09 229.37L36.09 230.14M36.09 229.37L36.75 229.37M36.09 230.14L37.24 230.14M33.32 228.28L33.32 229.75M33.32 228.28L35.36 228.28M33.32 229.75L36.09 229.75M38.23 230.65L40.9 230.65M38.39 231.02L40.9 231.02M37.67 230.65L37.67 231.02M37.67 230.65L38.23 230.65M37.67 231.02L38.39 231.02M36.66 231.51L40.9 231.51M35.18 230.84L35.18 231.51M35.18 230.84L37.67 230.84M35.18 231.51L36.66 231.51M31.24 229.02L31.24 231.17M31.24 229.02L33.32 229.02M31.24 231.17L35.18 231.17M29.91 230.09L29.91 235.23M29.91 230.09L31.24 230.09M29.91 235.23L31.37 235.23M36.63 224.14L40.9 224.14M37.38 224.64L40.9 224.64M36.57 225.08L40.9 225.08M35.28 224.64L35.28 225.08M35.28 224.64L37.38 224.64M35.28 225.08L36.57 225.08M33.38 224.14L33.38 224.86M33.38 224.14L36.63 224.14M33.38 224.86L35.28 224.86M37.83 225.56L40.9 225.56M38.98 226.1L40.9 226.1M38.62 226.54L40.9 226.54M38.15 226.1L38.15 226.54M38.15 226.1L38.98 226.1M38.15 226.54L38.62 226.54M36 225.56L36 226.32M36 225.56L37.83 225.56M36 226.32L38.15 226.32M37.48 227L40.9 227M38 227.55L40.9 227.55M36.36 227L36.36 227.55M36.36 227L37.48 227M36.36 227.55L38 227.55M33.47 225.94L33.47 227.27M33.47 225.94L36 225.94M33.47 227.27L36.36 227.27M28.06 224.5L28.06 226.6M28.06 224.5L33.38 224.5M28.06 226.6L33.47 226.6M26.97 225.55L26.97 232.66M26.97 225.55L28.06 225.55M26.97 232.66L29.91 232.66M33.38 221.17L40.9 221.17M35.7 221.61L40.9 221.61M31.8 221.17L31.8 221.61M31.8 221.17L33.38 221.17M31.8 221.61L35.7 221.61M35.89 221.92L40.9 221.92M36.7 222.27L40.9 222.27M34.32 221.92L34.32 222.27M34.32 221.92L35.89 221.92M34.32 222.27L36.7 222.27M29.64 221.39L29.64 222.1M29.64 221.39L31.8 221.39M29.64 222.1L34.32 222.1M36.02 222.68L40.9 222.68M35.75 223.06L40.9 223.06M34.54 222.68L34.54 223.06M34.54 222.68L36.02 222.68M34.54 223.06L35.75 223.06M34.8 223.58L40.9 223.58M31.68 222.87L31.68 223.58M31.68 222.87L34.54 222.87M31.68 223.58L34.8 223.58M26.96 221.74L26.96 223.23M26.96 221.74L29.64 221.74M26.96 223.23L31.68 223.23M25.85 222.49L25.85 229.11M25.85 222.49L26.96 222.49M25.85 229.11L26.97 229.11M36.47 217.54L40.9 217.54M35.87 218.01L40.9 218.01M36.92 218.36L40.9 218.36M34.51 218.01L34.51 218.36M34.51 218.01L35.87 218.01M34.51 218.36L36.92 218.36M33.4 217.54L33.4 218.19M33.4 217.54L36.47 217.54M33.4 218.19L34.51 218.19M34.97 218.73L40.9 218.73M35.15 219.16L40.9 219.16M33.1 218.73L33.1 219.16M33.1 218.73L34.97 218.73M33.1 219.16L35.15 219.16M30.92 217.86L30.92 218.95M30.92 217.86L33.4 217.86M30.92 218.95L33.1 218.95M35.2 219.66L40.9 219.66M35.55 220.05L40.9 220.05M34.03 219.66L34.03 220.05M34.03 219.66L35.2 219.66M34.03 220.05L35.55 220.05M34 220.32L40.9 220.32M35.74 220.69L40.9 220.69M32.58 220.32L32.58 220.69M32.58 220.32L34 220.32M32.58 220.69L35.74 220.69M29.86 219.86L29.86 220.5M29.86 219.86L34.03 219.86M29.86 220.5L32.58 220.5M24.99 218.41L24.99 220.18M24.99 218.41L30.92 218.41M24.99 220.18L29.86 220.18M24.61 219.29L24.61 225.8M24.61 219.29L24.99 219.29M24.61 225.8L25.85 225.8M33.3 215.07L40.9 215.07M33.03 215.53L40.9 215.53M28.39 215.07L28.39 215.53M28.39 215.07L33.3 215.07M28.39 215.53L33.03 215.53M34.38 215.87L40.9 215.87M34.5 216.28L40.9 216.28M31.57 215.87L31.57 216.28M31.57 215.87L34.38 215.87M31.57 216.28L34.5 216.28M34.28 216.68L40.9 216.68M35.69 217.03L40.9 217.03M32.47 216.68L32.47 217.03M32.47 216.68L34.28 216.68M32.47 217.03L35.69 217.03M29.51 216.08L29.51 216.85M29.51 216.08L31.57 216.08M29.51 216.85L32.47 216.85M25.37 215.3L25.37 216.47M25.37 215.3L28.39 215.3M25.37 216.47L29.51 216.47M24.2 215.88L24.2 222.54M24.2 215.88L25.37 215.88M24.2 222.54L24.61 222.54"/>
</g>
<g stroke="#c1232f" stroke-width="0.6" fill="none">
<path d="M39.91 435.96L40.9 435.96M40.03 436.5L40.9 436.5M39.61 435.96L39.61 436.5M39.61 435.96L39.91 435.96M39.61 436.5L40.03 436.5M40.06 437.06L40.9 437.06M40.3 437.46L40.9 437.46M40.2 437.93L40.9 437.93M39.92 437.46L39.92 437.93M39.92 437.46L40.3 437.46M39.92 437.93L40.2 437.93M39.6 437.06L39.6 437.7M39.6 437.06L40.06 437.06M39.6 437.7L39.92 437.7M39.32 436.23L39.32 437.38M39.32 436.23L39.61 436.23M39.32 437.38L39.6 437.38M39.41 438.43L40.9 438.43M39.56 438.98L40.9 438.98M38.81 438.43L38.81 438.98M38.81 438.43L39.41 438.43M38.81 438.98L39.56 438.98M38.19 436.8L38.19 438.71M38.19 436.8L39.32 436.8M38.19 438.71L38.81 438.71M39.55 430.69L40.9 430.69M39.96 431.2L40.9 431.2M39.23 430.69L39.23 431.2M39.23 430.69L39.55 430.69M39.23 431.2L39.96 431.2M39.57 431.8L40.9 431.8M39.69 432.44L40.9 432.44M38.79 431.8L38.79 432.44M38.79 431.8L39.57 431.8M38.79 432.44L39.69 432.44M38.45 430.95L38.45 432.12M38.45 430.95L39.23 430.95M38.45 432.12L38.79 432.12M40.07 433.07L40.9 433.07M39.79 433.51L40.9 433.51M39.57 433.07L39.57 433.51M39.57 433.07L40.07 433.07M39.57 433.51L39.79 433.51M39.57 433.94L40.9 433.94M39.14 433.29L39.14 433.94M39.14 433.29L39.57 433.29M39.14 433.94L39.57 433.94M38.05 431.53L38.05 433.62M38.05 431.53L38.45 431.53M38.05 433.62L39.14 433.62M40.17 434.31L40.9 434.31M39.83 434.8L40.9 434.8M39.62 434.31L39.62 434.8M39.62 434.31L40.17 434.31M39.62 434.8L39.83 434.8M39.66 435.46L40.9 435.46M38.81 434.55L38.81 435.46M38.81 434.55L39.62 434.55M38.81 435.46L39.66 435.46M37.57 432.57L37.57 435.01M37.57 432.57L38.05 432.57M37.57 435.01L38.81 435.01M37.2 433.79L37.2 437.76M37.2 433.79L37.57 433.79M37.2 437.76L38.19 437.76M39.87 428.38L40.9 428.38M39.83 428.81L40.9 428.81M39.62 428.38L39.62 428.81M39.62 428.38L39.87 428.38M39.62 428.81L39.83 428.81M39.49 429.26L40.9 429.26M39.06 428.59L39.06 429.26M39.06 428.59L39.62 428.59M39.06 429.26L39.49 429.26M39.33 429.66L40.9 429.66M39.56 430.18L40.9 430.18M38.48 429.66L38.48 430.18M38.48 429.66L39.33 429.66M38.48 430.18L39.56 430.18M37.7 428.93L37.7 429.92M37.7 428.93L39.06 428.93M37.7 429.92L38.48 429.92M36.99 429.42L36.99 435.77M36.99 429.42L37.7 429.42M36.99 435.77L37.2 435.77M39.24 424.3L40.9 424.3M39.47 424.98L40.9 424.98M38.79 424.3L38.79 424.98M38.79 424.3L39.24 424.3M38.79 424.98L39.47 424.98M39.8 425.63L40.9 425.63M39.92 426.22L40.9 426.22M39.55 426.84L40.9 426.84M39.27 426.22L39.27 426.84M39.27 426.22L39.92 426.22M39.27 426.84L39.55 426.84M38.99 425.63L38.99 426.53M38.99 425.63L39.8 425.63M38.99 426.53L39.27 426.53M39.8 427.46L40.9 427.46M39.61 427.99L40.9 427.99M38.96 427.46L38.96 427.99M38.96 427.46L39.8 427.46M38.96 427.99L39.61 427.99M38.25 426.08L38.25 427.72M38.25 426.08L38.99 426.08M38.25 427.72L38.96 427.72M37.1 424.64L37.1 426.9M37.1 424.64L38.79 424.64M37.1 426.9L38.25 426.9M36.6 425.77L36.6 432.6M36.6 425.77L37.1 425.77M36.6 432.6L36.99 432.6M39 420.73L40.9 420.73M39.12 421.36L40.9 421.36M38.43 420.73L38.43 421.36M38.43 420.73L39 420.73M38.43 421.36L39.12 421.36M39.72 421.99L40.9 421.99M40.09 422.61L40.9 422.61M40.13 423.05L40.9 423.05M39.85 422.61L39.85 423.05M39.85 422.61L40.09 422.61M39.85 423.05L40.13 423.05M39.25 421.99L39.25 422.83M39.25 421.99L39.72 421.99M39.25 422.83L39.85 422.83M39.36 423.63L40.9 423.63M38.13 422.41L38.13 423.63M38.13 422.41L39.25 422.41M38.13 423.63L39.36 423.63M37.51 421.05L37.51 423.02M37.51 421.05L38.43 421.05M37.51 423.02L38.13 423.02M36.27 422.03L36.27 429.18M36.27 422.03L37.51 422.03M36.27 429.18L36.6 429.18M39.48 415.21L40.9 415.21M40.05 415.72L40.9 415.72M40.2 416.16L40.9 416.16M39.77 415.72L39.77 416.16M39.77 415.72L40.05 415.72M39.77 416.16L40.2 416.16M39.08 415.21L39.08 415.94M39.08 415.21L39.48 415.21M39.08 415.94L39.77 415.94M39.64 416.65L40.9 416.65M39.62 417.19L40.9 417.19M38.95 416.65L38.95 417.19M38.95 416.65L39.64 416.65M38.95 417.19L39.62 417.19M38.33 415.58L38.33 416.92M38.33 415.58L39.08 415.58M38.33 416.92L38.95 416.92M39.5 417.76L40.9 417.76M39.96 418.43L40.9 418.43M40.21 418.95L40.9 418.95M39.68 418.43L39.68 418.95M39.68 418.43L39.96 418.43M39.68 418.95L40.21 418.95M38.94 417.76L38.94 418.69M38.94 417.76L39.5 417.76M38.94 418.69L39.68 418.69M39.75 419.5L40.9 419.5M39.45 420.08L40.9 420.08M39.22 419.5L39.22 420.08M39.22 419.5L39.75 419.5M39.22 420.08L39.45 420.08M38.29 418.23L38.29 419.79M38.29 418.23L38.94 418.23M38.29 419.79L39.22 419.79M36.25 416.25L36.25 419.01M36.25 416.25L38.33 416.25M36.25 419.01L38.29 419.01M35.78 417.63L35.78 425.61M35.78 417.63L36.25 417.63M35.78 425.61L36.27 425.61M38.99 412.67L40.9 412.67M39.13 413.2L40.9 413.2M38.02 412.67L38.02 413.2M38.02 412.67L38.99 412.67M38.02 413.2L39.13 413.2M38.8 413.75L40.9 413.75M39.39 414.38L40.9 414.38M39.7 414.82L40.9 414.82M38.89 414.38L38.89 414.82M38.89 414.38L39.39 414.38M38.89 414.82L39.7 414.82M37.73 413.75L37.73 414.6M37.73 413.75L38.8 413.75M37.73 414.6L38.89 414.6M36.49 412.93L36.49 414.17M36.49 412.93L38.02 412.93M36.49 414.17L37.73 414.17M35.53 413.55L35.53 421.62M35.53 413.55L36.49 413.55M35.53 421.62L35.78 421.62M40.27 407.61L40.9 407.61M40.27 408.07L40.9 408.07M39.91 407.61L39.91 408.07M39.91 407.61L40.27 407.61M39.91 408.07L40.27 408.07M39.65 408.53L40.9 408.53M39.16 407.84L39.16 408.53M39.16 407.84L39.91 407.84M39.16 408.53L39.65 408.53M39.64 409.06L40.9 409.06M39.89 409.57L40.9 409.57M39.97 410.02L40.9 410.02M39.52 409.57L39.52 410.02M39.52 409.57L39.89 409.57M39.52 410.02L39.97 410.02M38.87 409.06L38.87 409.8M38.87 409.06L39.64 409.06M38.87 409.8L39.52 409.8M38.4 408.19L38.4 409.43M38.4 408.19L39.16 408.19M38.4 409.43L38.87 409.43M39.53 410.41L40.9 410.41M39.93 410.86L40.9 410.86M40.11 411.31L40.9 411.31M39.68 410.86L39.68 411.31M39.68 410.86L39.93 410.86M39.68 411.31L40.11 411.31M39.22 410.41L39.22 411.09M39.22 410.41L39.53 410.41M39.22 411.09L39.68 411.09M39.53 411.73L40.9 411.73M39.75 412.15L40.9 412.15M39.29 411.73L39.29 412.15M39.29 411.73L39.53 411.73M39.29 412.15L39.75 412.15M38.37 410.75L38.37 411.94M38.37 410.75L39.22 410.75M38.37 411.94L39.29 411.94M36.42 408.81L36.42 411.35M36.42 408.81L38.4 408.81M36.42 411.35L38.37 411.35M35.07 410.08L35.07 417.59M35.07 410.08L36.42 410.08M35.07 417.59L35.53 417.59M37.09 402.24L40.9 402.24M37.89 402.83L40.9 402.83M38.18 403.38L40.9 403.38M36.86 402.83L36.86 403.38M36.86 402.83L37.89 402.83M36.86 403.38L38.18 403.38M36.17 402.24L36.17 403.1M36.17 402.24L37.09 402.24M36.17 403.1L36.86 403.1M38.34 403.96L40.9 403.96M38.66 404.57L40.9 404.57M39.27 405.26L40.9 405.26M38.2 404.57L38.2 405.26M38.2 404.57L38.66 404.57M38.2 405.26L39.27 405.26M37.42 403.96L37.42 404.92M37.42 403.96L38.34 403.96M37.42 404.92L38.2 404.92M38.72 406.02L40.9 406.02M39.71 406.56L40.9 406.56M39.6 407.03L40.9 407.03M39.18 406.56L39.18 407.03M39.18 406.56L39.71 406.56M39.18 407.03L39.6 407.03M38.35 406.02L38.35 406.8M38.35 406.02L38.72 406.02M38.35 406.8L39.18 406.8M36.5 404.44L36.5 406.41M36.5 404.44L37.42 404.44M36.5 406.41L38.35 406.41M35.15 402.67L35.15 405.42M35.15 402.67L36.17 402.67M35.15 405.42L36.5 405.42M34.58 404.05L34.58 413.83M34.58 404.05L35.15 404.05M34.58 413.83L35.07 413.83M39.4 399.73L40.9 399.73M39.37 400.24L40.9 400.24M38.68 399.73L38.68 400.24M38.68 399.73L39.4 399.73M38.68 400.24L39.37 400.24M38.39 400.86L40.9 400.86M37.55 399.98L37.55 400.86M37.55 399.98L38.68 399.98M37.55 400.86L38.39 400.86M36.85 401.54L40.9 401.54M35.38 400.42L35.38 401.54M35.38 400.42L37.55 400.42M35.38 401.54L36.85 401.54M34.38 400.98L34.38 408.94M34.38 400.98L35.38 400.98M34.38 408.94L34.58 408.94M38.88 397.49L40.9 397.49M38.43 398.02L40.9 398.02M37.89 397.49L37.89 398.02M37.89 397.49L38.88 397.49M37.89 398.02L38.43 398.02M38.01 398.54L40.9 398.54M37.42 397.75L37.42 398.54M37.42 397.75L37.89 397.75M37.42 398.54L38.01 398.54M37.01 399.19L40.9 399.19M35.74 398.15L35.74 399.19M35.74 398.15L37.42 398.15M35.74 399.19L37.01 399.19M34.29 398.67L34.29 404.96M34.29 398.67L35.74 398.67M34.29 404.96L34.38 404.96M39.03 392.52L40.9 392.52M38.98 393.16L40.9 393.16M37.58 392.52L37.58 393.16M37.58 392.52L39.03 392.52M37.58 393.16L38.98 393.16M39.52 393.77L40.9 393.77M39.46 394.31L40.9 394.31M39.02 393.77L39.02 394.31M39.02 393.77L39.52 393.77M39.02 394.31L39.46 394.31M39.95 394.9L40.9 394.9M39.87 395.36L40.9 395.36M39.57 394.9L39.57 395.36M39.57 394.9L39.95 394.9M39.57 395.36L39.87 395.36M38.5 394.04L38.5 395.13M38.5 394.04L39.02 394.04M38.5 395.13L39.57 395.13M36.6 392.84L36.6 394.59M36.6 392.84L37.58 392.84M36.6 394.59L38.5 394.59M38.22 395.7L40.9 395.7M38.75 396.12L40.9 396.12M37.43 395.7L37.43 396.12M37.43 395.7L38.22 395.7M37.43 396.12L38.75 396.12M38.48 396.62L40.9 396.62M38.94 397.05L40.9 397.05M38.09 396.62L38.09 397.05M38.09 396.62L38.48 396.62M38.09 397.05L38.94 397.05M36.7 395.91L36.7 396.83M36.7 395.91L37.43 395.91M36.7 396.83L38.09 396.83M35.14 393.71L35.14 396.37M35.14 393.71L36.6 393.71M35.14 396.37L36.7 396.37M34.09 395.04L34.09 401.81M34.09 395.04L35.14 395.04M34.09 401.81L34.29 401.81M37.75 390.93L40.9 390.93M38.76 391.43L40.9 391.43M37.04 390.93L37.04 391.43M37.04 390.93L37.75 390.93M37.04 391.43L38.76 391.43M35.98 391.98L40.9 391.98M34.66 391.18L34.66 391.98M34.66 391.18L37.04 391.18M34.66 391.98L35.98 391.98M34.03 391.58L34.03 398.43M34.03 391.58L34.66 391.58M34.03 398.43L34.09 398.43M38.06 389.01L40.9 389.01M37.17 389.55L40.9 389.55M36.39 389.01L36.39 389.55M36.39 389.01L38.06 389.01M36.39 389.55L37.17 389.55M37.69 390.08L40.9 390.08M37.99 390.54L40.9 390.54M36.73 390.08L36.73 390.54M36.73 390.08L37.69 390.08M36.73 390.54L37.99 390.54M34.6 389.28L34.6 390.31M34.6 389.28L36.39 389.28M34.6 390.31L36.73 390.31M33.95 389.8L33.95 395M33.95 389.8L34.6 389.8M33.95 395L34.03 395M38.08 385.11L40.9 385.11M38.51 385.63L40.9 385.63M38.71 386.09L40.9 386.09M37.86 385.63L37.86 386.09M37.86 385.63L38.51 385.63M37.86 386.09L38.71 386.09M36.43 385.11L36.43 385.86M36.43 385.11L38.08 385.11M36.43 385.86L37.86 385.86M39.23 386.64L40.9 386.64M39.64 387.16L40.9 387.16M39.59 387.69L40.9 387.69M38.93 387.16L38.93 387.69M38.93 387.16L39.64 387.16M38.93 387.69L39.59 387.69M38.2 386.64L38.2 387.43M38.2 386.64L39.23 386.64M38.2 387.43L38.93 387.43M37.71 388.33L40.9 388.33M36.3 387.03L36.3 388.33M36.3 387.03L38.2 387.03M36.3 388.33L37.71 388.33M34.49 385.49L34.49 387.68M34.49 385.49L36.43 385.49M34.49 387.68L36.3 387.68M33.79 386.58L33.79 392.4M33.79 386.58L34.49 386.58M33.79 392.4L33.95 392.4M37.72 382.97L40.9 382.97M38.63 383.4L40.9 383.4M37.13 382.97L37.13 383.4M37.13 382.97L37.72 382.97M37.13 383.4L38.63 383.4M37.28 383.81L40.9 383.81M36.2 383.18L36.2 383.81M36.2 383.18L37.13 383.18M36.2 383.81L37.28 383.81M36.22 384.4L40.9 384.4M34.59 383.5L34.59 384.4M34.59 383.5L36.2 383.5M34.59 384.4L36.22 384.4M33.71 383.95L33.71 389.49M33.71 383.95L34.59 383.95M33.71 389.49L33.79 389.49M38.09 378.38L40.9 378.38M37.88 379.12L40.9 379.12M36.93 378.38L36.93 379.12M36.93 378.38L38.09 378.38M36.93 379.12L37.88 379.12M37.44 379.85L40.9 379.85M36.06 378.75L36.06 379.85M36.06 378.75L36.93 378.75M36.06 379.85L37.44 379.85M38.81 380.36L40.9 380.36M39.3 380.81L40.9 380.81M38.27 380.36L38.27 380.81M38.27 380.36L38.81 380.36M38.27 380.81L39.3 380.81M40.04 381.4L40.9 381.4M40.05 381.88L40.9 381.88M39.35 381.4L39.35 381.88M39.35 381.4L40.04 381.4M39.35 381.88L40.05 381.88M38.88 382.39L40.9 382.39M38.54 381.64L38.54 382.39M38.54 381.64L39.35 381.64M38.54 382.39L38.88 382.39M37.03 380.59L37.03 382.01M37.03 380.59L38.27 380.59M37.03 382.01L38.54 382.01M34.65 379.3L34.65 381.3M34.65 379.3L36.06 379.3M34.65 381.3L37.03 381.3M33.52 380.3L33.52 386.72M33.52 380.3L34.65 380.3M33.52 386.72L33.71 386.72M37.11 376.2L40.9 376.2M38.06 376.95L40.9 376.95M37.68 377.68L40.9 377.68M35.87 376.95L35.87 377.68M35.87 376.95L38.06 376.95M35.87 377.68L37.68 377.68M34.58 376.2L34.58 377.31M34.58 376.2L37.11 376.2M34.58 377.31L35.87 377.31M33.43 376.76L33.43 383.51M33.43 376.76L34.58 376.76M33.43 383.51L33.52 383.51M38.31 371.58L40.9 371.58M38.37 372.1L40.9 372.1M37.86 371.58L37.86 372.1M37.86 371.58L38.31 371.58M37.86 372.1L38.37 372.1M38.06 372.53L40.9 372.53M38.05 372.96L40.9 372.96M37.53 372.53L37.53 372.96M37.53 372.53L38.06 372.53M37.53 372.96L38.05 372.96M36.76 371.84L36.76 372.75M36.76 371.84L37.86 371.84M36.76 372.75L37.53 372.75M38.2 373.45L40.9 373.45M38.88 373.95L40.9 373.95M39.28 374.4L40.9 374.4M38.06 373.95L38.06 374.4M38.06 373.95L38.88 373.95M38.06 374.4L39.28 374.4M37.19 373.45L37.19 374.17M37.19 373.45L38.2 373.45M37.19 374.17L38.06 374.17M37.97 374.89L40.9 374.89M38.67 375.52L40.9 375.52M37.44 374.89L37.44 375.52M37.44 374.89L37.97 374.89M37.44 375.52L38.67 375.52M35.02 373.81L35.02 375.2M35.02 373.81L37.19 373.81M35.02 375.2L37.44 375.2M33.71 372.29L33.71 374.51M33.71 372.29L36.76 372.29M33.71 374.51L35.02 374.51M33.25 373.4L33.25 380.13M33.25 373.4L33.71 373.4M33.25 380.13L33.43 380.13M38.17 366.52L40.9 366.52M38.71 367.27L40.9 367.27M37.42 366.52L37.42 367.27M37.42 366.52L38.17 366.52M37.42 367.27L38.71 367.27M37.55 367.97L40.9 367.97M37.68 368.65L40.9 368.65M36.83 367.97L36.83 368.65M36.83 367.97L37.55 367.97M36.83 368.65L37.68 368.65M35.7 366.89L35.7 368.31M35.7 366.89L37.42 366.89M35.7 368.31L36.83 368.31M39.12 369.29L40.9 369.29M38.64 369.81L40.9 369.81M38.2 369.29L38.2 369.81M38.2 369.29L39.12 369.29M38.2 369.81L38.64 369.81M38.02 370.39L40.9 370.39M38.05 371.02L40.9 371.02M37.45 370.39L37.45 371.02M37.45 370.39L38.02 370.39M37.45 371.02L38.05 371.02M36.64 369.55L36.64 370.7M36.64 369.55L38.2 369.55M36.64 370.7L37.45 370.7M33.53 367.6L33.53 370.13M33.53 367.6L35.7 367.6M33.53 370.13L36.64 370.13M33.05 368.86L33.05 376.77M33.05 368.86L33.53 368.86M33.05 376.77L33.25 376.77M38.39 363.74L40.9 363.74M37.4 364.26L40.9 364.26M36.81 363.74L36.81 364.26M36.81 363.74L38.39 363.74M36.81 364.26L37.4 364.26M38.17 364.87L40.9 364.87M37.56 365.34L40.9 365.34M36.7 364.87L36.7 365.34M36.7 364.87L38.17 364.87M36.7 365.34L37.56 365.34M36.85 365.81L40.9 365.81M35.94 365.1L35.94 365.81M35.94 365.1L36.7 365.1M35.94 365.81L36.85 365.81M33.95 364L33.95 365.46M33.95 364L36.81 364M33.95 365.46L35.94 365.46M32.94 364.73L32.94 372.82M32.94 364.73L33.95 364.73M32.94 372.82L33.05 372.82M37.56 361.44L40.9 361.44M38.04 361.94L40.9 361.94M38.37 362.46L40.9 362.46M37.14 361.94L37.14 362.46M37.14 361.94L38.04 361.94M37.14 362.46L38.37 362.46M35.91 361.44L35.91 362.2M35.91 361.44L37.56 361.44M35.91 362.2L37.14 362.2M36.28 363.15L40.9 363.15M33.29 361.82L33.29 363.15M33.29 361.82L35.91 361.82M33.29 363.15L36.28 363.15M32.85 362.48L32.85 368.77M32.85 362.48L33.29 362.48M32.85 368.77L32.94 368.77M34.82 359.95L40.9 359.95M38.17 360.54L40.9 360.54M37.65 360.96L40.9 360.96M36.44 360.54L36.44 360.96M36.44 360.54L38.17 360.54M36.44 360.96L37.65 360.96M33.5 359.95L33.5 360.75M33.5 359.95L34.82 359.95M33.5 360.75L36.44 360.75M32.78 360.35L32.78 365.63M32.78 360.35L33.5 360.35M32.78 365.63L32.85 365.63M38.1 355.98L40.9 355.98M37.93 356.55L40.9 356.55M37.41 355.98L37.41 356.55M37.41 355.98L38.1 355.98M37.41 356.55L37.93 356.55M36.97 357.34L40.9 357.34M36.19 356.27L36.19 357.34M36.19 356.27L37.41 356.27M36.19 357.34L36.97 357.34M38.47 357.91L40.9 357.91M39.45 358.33L40.9 358.33M39.48 358.76L40.9 358.76M38.92 358.33L38.92 358.76M38.92 358.33L39.45 358.33M38.92 358.76L39.48 358.76M37.51 357.91L37.51 358.54M37.51 357.91L38.47 357.91M37.51 358.54L38.92 358.54M37.93 359.27L40.9 359.27M36.15 358.23L36.15 359.27M36.15 358.23L37.51 358.23M36.15 359.27L37.93 359.27M33.95 356.8L33.95 358.75M33.95 356.8L36.19 356.8M33.95 358.75L36.15 358.75M32.63 357.78L32.63 362.99M32.63 357.78L33.95 357.78M32.63 362.99L32.78 362.99M37.07 352.43L40.9 352.43M35.58 353.09L40.9 353.09M34.38 352.43L34.38 353.09M34.38 352.43L37.07 352.43M34.38 353.09L35.58 353.09M37.23 353.65L40.9 353.65M37.59 354.12L40.9 354.12M36.26 353.65L36.26 354.12M36.26 353.65L37.23 353.65M36.26 354.12L37.59 354.12M38.11 354.62L40.9 354.62M38.54 355.16L40.9 355.16M38.52 355.64L40.9 355.64M37.26 355.16L37.26 355.64M37.26 355.16L38.54 355.16M37.26 355.64L38.52 355.64M36.04 354.62L36.04 355.4M36.04 354.62L38.11 354.62M36.04 355.4L37.26 355.4M34.93 353.89L34.93 355.01M34.93 353.89L36.26 353.89M34.93 355.01L36.04 355.01M32.9 352.76L32.9 354.45M32.9 352.76L34.38 352.76M32.9 354.45L34.93 354.45M32.49 353.6L32.49 360.38M32.49 353.6L32.9 353.6M32.49 360.38L32.63 360.38M36.77 349.99L40.9 349.99M37.68 350.52L40.9 350.52M37.45 351.01L40.9 351.01M36.88 350.52L36.88 351.01M36.88 350.52L37.68 350.52M36.88 351.01L37.45 351.01M34.57 349.99L34.57 350.77M34.57 349.99L36.77 349.99M34.57 350.77L36.88 350.77M35.89 351.72L40.9 351.72M33.25 350.38L33.25 351.72M33.25 350.38L34.57 350.38M33.25 351.72L35.89 351.72M32.39 351.05L32.39 356.99M32.39 351.05L33.25 351.05M32.39 356.99L32.49 356.99M36.33 346.51L40.9 346.51M36.62 347.07L40.9 347.07M34.94 346.51L34.94 347.07M34.94 346.51L36.33 346.51M34.94 347.07L36.62 347.07M38.64 347.55L40.9 347.55M39.03 348.02L40.9 348.02M38.04 347.55L38.04 348.02M38.04 347.55L38.64 347.55M38.04 348.02L39.03 348.02M39.26 348.62L40.9 348.62M39.29 349.07L40.9 349.07M39 348.62L39 349.07M39 348.62L39.26 348.62M39 349.07L39.29 349.07M38.8 349.42L40.9 349.42M38.02 348.85L38.02 349.42M38.02 348.85L39 348.85M38.02 349.42L38.8 349.42M36.39 347.78L36.39 349.14M36.39 347.78L38.04 347.78M36.39 349.14L38.02 349.14M32.83 346.79L32.83 348.46M32.83 346.79L34.94 346.79M32.83 348.46L36.39 348.46M32.25 347.63L32.25 354.02M32.25 347.63L32.83 347.63M32.25 354.02L32.39 354.02M36.43 344.62L40.9 344.62M36.09 345.08L40.9 345.08M34.53 344.62L34.53 345.08M34.53 344.62L36.43 344.62M34.53 345.08L36.09 345.08M36.53 345.39L40.9 345.39M37.88 345.92L40.9 345.92M35.71 345.39L35.71 345.92M35.71 345.39L36.53 345.39M35.71 345.92L37.88 345.92M33.41 344.85L33.41 345.65M33.41 344.85L34.53 344.85M33.41 345.65L35.71 345.65M32.17 345.25L32.17 350.82M32.17 345.25L33.41 345.25M32.17 350.82L32.25 350.82M37.16 339.43L40.9 339.43M37 339.98L40.9 339.98M35.82 339.43L35.82 339.98M35.82 339.43L37.16 339.43M35.82 339.98L37 339.98M35.94 340.68L40.9 340.68M38.61 341.35L40.9 341.35M38.89 341.9L40.9 341.9M39.06 342.4L40.9 342.4M38.5 341.9L38.5 342.4M38.5 341.9L38.89 341.9M38.5 342.4L39.06 342.4M37.65 341.35L37.65 342.15M37.65 341.35L38.61 341.35M37.65 342.15L38.5 342.15M35.09 340.68L35.09 341.75M35.09 340.68L35.94 340.68M35.09 341.75L37.65 341.75M34.03 339.7L34.03 341.22M34.03 339.7L35.82 339.7M34.03 341.22L35.09 341.22M36.47 342.93L40.9 342.93M38.72 343.51L40.9 343.51M37.97 344.06L40.9 344.06M37.23 343.51L37.23 344.06M37.23 343.51L38.72 343.51M37.23 344.06L37.97 344.06M34.52 342.93L34.52 343.79M34.52 342.93L36.47 342.93M34.52 343.79L37.23 343.79M32.8 340.46L32.8 343.36M32.8 340.46L34.03 340.46M32.8 343.36L34.52 343.36M31.91 341.91L31.91 348.04M31.91 341.91L32.8 341.91M31.91 348.04L32.17 348.04M37.58 335.43L40.9 335.43M37.77 335.9L40.9 335.9M36.57 335.43L36.57 335.9M36.57 335.43L37.58 335.43M36.57 335.9L37.77 335.9M37.62 336.43L40.9 336.43M37.48 337.01L40.9 337.01M36.78 336.43L36.78 337.01M36.78 336.43L37.62 336.43M36.78 337.01L37.48 337.01M34.42 335.66L34.42 336.72M34.42 335.66L36.57 335.66M34.42 336.72L36.78 336.72M36.9 337.49L40.9 337.49M36.6 337.91L40.9 337.91M35.68 337.49L35.68 337.91M35.68 337.49L36.9 337.49M35.68 337.91L36.6 337.91M37.85 338.26L40.9 338.26M37.65 338.83L40.9 338.83M37.02 338.26L37.02 338.83M37.02 338.26L37.85 338.26M37.02 338.83L37.65 338.83M34.66 337.7L34.66 338.54M34.66 337.7L35.68 337.7M34.66 338.54L37.02 338.54M31.8 336.19L31.8 338.12M31.8 336.19L34.42 336.19M31.8 338.12L34.66 338.12M31.48 337.16L31.48 344.97M31.48 337.16L31.8 337.16M31.48 344.97L31.91 344.97M36.31 330.17L40.9 330.17M36.98 330.73L40.9 330.73M37.68 331.21L40.9 331.21M35.78 330.73L35.78 331.21M35.78 330.73L36.98 330.73M35.78 331.21L37.68 331.21M34.76 330.17L34.76 330.97M34.76 330.17L36.31 330.17M34.76 330.97L35.78 330.97M37.52 331.77L40.9 331.77M37.08 332.36L40.9 332.36M35.1 331.77L35.1 332.36M35.1 331.77L37.52 331.77M35.1 332.36L37.08 332.36M33.67 330.57L33.67 332.06M33.67 330.57L34.76 330.57M33.67 332.06L35.1 332.06M38.65 332.91L40.9 332.91M38.17 333.38L40.9 333.38M37.41 332.91L37.41 333.38M37.41 332.91L38.65 332.91M37.41 333.38L38.17 333.38M37.91 333.85L40.9 333.85M35.59 333.15L35.59 333.85M35.59 333.15L37.41 333.15M35.59 333.85L37.91 333.85M36.71 334.44L40.9 334.44M36.26 334.93L40.9 334.93M35.27 334.44L35.27 334.93M35.27 334.44L36.71 334.44M35.27 334.93L36.26 334.93M33.14 333.5L33.14 334.68M33.14 333.5L35.59 333.5M33.14 334.68L35.27 334.68M31.73 331.32L31.73 334.09M31.73 331.32L33.67 331.32M31.73 334.09L33.14 334.09M30.91 332.7L30.91 341.06M30.91 332.7L31.73 332.7M30.91 341.06L31.48 341.06M34.31 326.73L40.9 326.73M36.03 327.35L40.9 327.35M33.1 326.73L33.1 327.35M33.1 326.73L34.31 326.73M33.1 327.35L36.03 327.35M36.71 327.91L40.9 327.91M37.59 328.46L40.9 328.46M35.33 327.91L35.33 328.46M35.33 327.91L36.71 327.91M35.33 328.46L37.59 328.46M37.19 329.17L40.9 329.17M36.53 329.67L40.9 329.67M35.38 329.17L35.38 329.67M35.38 329.17L37.19 329.17M35.38 329.67L36.53 329.67M34.4 328.18L34.4 329.42M34.4 328.18L35.33 328.18M34.4 329.42L35.38 329.42M30.93 327.04L30.93 328.8M30.93 327.04L33.1 327.04M30.93 328.8L34.4 328.8M30.55 327.92L30.55 336.88M30.55 327.92L30.93 327.92M30.55 336.88L30.91 336.88M33.51 325.22L40.9 325.22M35.85 325.82L40.9 325.82M35.58 326.27L40.9 326.27M32.54 325.82L32.54 326.27M32.54 325.82L35.85 325.82M32.54 326.27L35.58 326.27M31.19 325.22L31.19 326.04M31.19 325.22L33.51 325.22M31.19 326.04L32.54 326.04M30.38 325.63L30.38 332.4M30.38 325.63L31.19 325.63M30.38 332.4L30.55 332.4M37.13 319.89L40.9 319.89M38.83 320.31L40.9 320.31M38.84 320.73L40.9 320.73M38.06 320.31L38.06 320.73M38.06 320.31L38.83 320.31M38.06 320.73L38.84 320.73M35.98 319.89L35.98 320.52M35.98 319.89L37.13 319.89M35.98 320.52L38.06 320.52M38.85 321.23L40.9 321.23M38.38 321.65L40.9 321.65M37.87 321.23L37.87 321.65M37.87 321.23L38.85 321.23M37.87 321.65L38.38 321.65M37.19 322.05L40.9 322.05M35.58 321.44L35.58 322.05M35.58 321.44L37.87 321.44M35.58 322.05L37.19 322.05M32.25 320.2L32.25 321.75M32.25 320.2L35.98 320.2M32.25 321.75L35.58 321.75M38.38 322.6L40.9 322.6M37.72 323.14L40.9 323.14M36.62 322.6L36.62 323.14M36.62 322.6L38.38 322.6M36.62 323.14L37.72 323.14M37.47 323.67L40.9 323.67M35.89 322.87L35.89 323.67M35.89 322.87L36.62 322.87M35.89 323.67L37.47 323.67M36.39 324.09L40.9 324.09M36.25 324.57L40.9 324.57M35.1 324.09L35.1 324.57M35.1 324.09L36.39 324.09M35.1 324.57L36.25 324.57M34.06 323.27L34.06 324.33M34.06 323.27L35.89 323.27M34.06 324.33L35.1 324.33M30.24 320.98L30.24 323.8M30.24 320.98L32.25 320.98M30.24 323.8L34.06 323.8M29.82 322.39L29.82 329.02M29.82 322.39L30.24 322.39M29.82 329.02L30.38 329.02M37.78 315.49L40.9 315.49M37.39 315.92L40.9 315.92M35.67 315.49L35.67 315.92M35.67 315.49L37.78 315.49M35.67 315.92L37.39 315.92M37.87 316.33L40.9 316.33M38.67 316.89L40.9 316.89M37.21 316.33L37.21 316.89M37.21 316.33L37.87 316.33M37.21 316.89L38.67 316.89M34.25 315.7L34.25 316.61M34.25 315.7L35.67 315.7M34.25 316.61L37.21 316.61M36.35 317.39L40.9 317.39M36.76 318.01L40.9 318.01M33.78 317.39L33.78 318.01M33.78 317.39L36.35 317.39M33.78 318.01L36.76 318.01M36.74 318.65L40.9 318.65M35.73 319.28L40.9 319.28M34.13 318.65L34.13 319.28M34.13 318.65L36.74 318.65M34.13 319.28L35.73 319.28M32.55 317.7L32.55 318.97M32.55 317.7L33.78 317.7M32.55 318.97L34.13 318.97M30.32 316.16L30.32 318.33M30.32 316.16L34.25 316.16M30.32 318.33L32.55 318.33M29.34 317.25L29.34 325.7M29.34 317.25L30.32 317.25M29.34 325.7L29.82 325.7M35.68 310.35L40.9 310.35M36.1 311.12L40.9 311.12M34.43 310.35L34.43 311.12M34.43 310.35L35.68 310.35M34.43 311.12L36.1 311.12M36.38 311.87L40.9 311.87M38 312.51L40.9 312.51M38.29 313.05L40.9 313.05M36.85 312.51L36.85 313.05M36.85 312.51L38 312.51M36.85 313.05L38.29 313.05M35.62 311.87L35.62 312.78M35.62 311.87L36.38 311.87M35.62 312.78L36.85 312.78M33.4 310.73L33.4 312.32M33.4 310.73L34.43 310.73M33.4 312.32L35.62 312.32M38.43 313.63L40.9 313.63M38.4 314.06L40.9 314.06M37.08 313.63L37.08 314.06M37.08 313.63L38.43 313.63M37.08 314.06L38.4 314.06M38.33 314.46L40.9 314.46M37.76 314.96L40.9 314.96M36.72 314.46L36.72 314.96M36.72 314.46L38.33 314.46M36.72 314.96L37.76 314.96M34.02 313.84L34.02 314.71M34.02 313.84L37.08 313.84M34.02 314.71L36.72 314.71M29.68 311.53L29.68 314.28M29.68 311.53L33.4 311.53M29.68 314.28L34.02 314.28M28.56 312.9L28.56 321.47M28.56 312.9L29.68 312.9M28.56 321.47L29.34 321.47M36.37 305.49L40.9 305.49M36.27 305.94L40.9 305.94M33.66 305.49L33.66 305.94M33.66 305.49L36.37 305.49M33.66 305.94L36.27 305.94M37.18 306.52L40.9 306.52M36.63 307.2L40.9 307.2M37.72 307.72L40.9 307.72M35.84 307.2L35.84 307.72M35.84 307.2L36.63 307.2M35.84 307.72L37.72 307.72M34.4 306.52L34.4 307.46M34.4 306.52L37.18 306.52M34.4 307.46L35.84 307.46M32.26 305.72L32.26 306.99M32.26 305.72L33.66 305.72M32.26 306.99L34.4 306.99M37.66 308.26L40.9 308.26M37.49 308.83L40.9 308.83M35.51 308.26L35.51 308.83M35.51 308.26L37.66 308.26M35.51 308.83L37.49 308.83M36.45 309.31L40.9 309.31M36.99 309.74L40.9 309.74M35.33 309.31L35.33 309.74M35.33 309.31L36.45 309.31M35.33 309.74L36.99 309.74M31.34 308.55L31.34 309.53M31.34 308.55L35.51 308.55M31.34 309.53L35.33 309.53M28.57 306.35L28.57 309.04M28.57 306.35L32.26 306.35M28.57 309.04L31.34 309.04M27.56 307.7L27.56 317.19M27.56 307.7L28.57 307.7M27.56 317.19L28.56 317.19M33.52 301.2L40.9 301.2M36.72 301.78L40.9 301.78M37.21 302.26L40.9 302.26M34.56 301.78L34.56 302.26M34.56 301.78L36.72 301.78M34.56 302.26L37.21 302.26M32.35 301.2L32.35 302.02M32.35 301.2L33.52 301.2M32.35 302.02L34.56 302.02M36.28 302.87L40.9 302.87M37.22 303.52L40.9 303.52M38.01 304.11L40.9 304.11M35.97 303.52L35.97 304.11M35.97 303.52L37.22 303.52M35.97 304.11L38.01 304.11M33.76 302.87L33.76 303.81M33.76 302.87L36.28 302.87M33.76 303.81L35.97 303.81M34.83 304.53L40.9 304.53M34.74 304.98L40.9 304.98M33 304.53L33 304.98M33 304.53L34.83 304.53M33 304.98L34.74 304.98M30.28 303.34L30.28 304.75M30.28 303.34L33.76 303.34M30.28 304.75L33 304.75M25.59 301.61L25.59 304.05M25.59 301.61L32.35 301.61M25.59 304.05L30.28 304.05M24.21 302.83L24.21 312.44M24.21 302.83L25.59 302.83M24.21 312.44L27.56 312.44M36.17 297.05L40.9 297.05M36.19 297.47L40.9 297.47M34.46 297.05L34.46 297.47M34.46 297.05L36.17 297.05M34.46 297.47L36.19 297.47M34.62 298.02L40.9 298.02M30.22 297.26L30.22 298.02M30.22 297.26L34.46 297.26M30.22 298.02L34.62 298.02M34.31 298.66L40.9 298.66M32.15 299.18L40.9 299.18M29.53 298.66L29.53 299.18M29.53 298.66L34.31 298.66M29.53 299.18L32.15 299.18M27.45 297.64L27.45 298.92M27.45 297.64L30.22 297.64M27.45 298.92L29.53 298.92M33.47 299.71L40.9 299.71M34.72 300.39L40.9 300.39M29.88 299.71L29.88 300.39M29.88 299.71L33.47 299.71M29.88 300.39L34.72 300.39M24.35 298.28L24.35 300.05M24.35 298.28L27.45 298.28M24.35 300.05L29.88 300.05M23.3 299.16L23.3 307.63M23.3 299.16L24.35 299.16M23.3 307.63L24.21 307.63"/>
</g>
<g shape-rendering="crispEdges">
<rect x="153" y="218" width="7.3" height="222" fill="#2c50a8"/>
<rect x="153" y="220" width="7.3" height="0.7" fill="#fff" opacity="1"/>
<rect x="153" y="221.8" width="7.3" height="0.7" fill="#fff" opacity="1"/>
<rect x="153" y="224.2" width="7.3" height="0.7" fill="#fff" opacity="1"/>
<rect x="153" y="242" width="7.3" height="0.7" fill="#fff" opacity="0.35"/>
<rect x="153" y="298.6" width="7.3" height="0.7" fill="#fff" opacity="0.6"/>
<rect x="153" y="304.5" width="7.3" height="0.7" fill="#fff" opacity="0.5"/>
<rect x="153" y="306.9" width="7.3" height="0.7" fill="#fff" opacity="0.3"/>
<rect x="153" y="342.8" width="7.3" height="0.7" fill="#fff" opacity="0.5"/>
<rect x="153" y="346" width="7.3" height="0.7" fill="#fff" opacity="0.3"/>
</g>
<g>
<rect x="165.2" y="215.7" width="7.4" height="223.6" fill="#fff"/>
<rect x="165.2" y="221.2" width="7.4" height="4.8" fill="#28b1a1" opacity="0.92"/>
<rect x="165.2" y="222.36" width="7.4" height="0.7" fill="#fff" opacity="0.7"/>
<rect x="165.2" y="223.9" width="7.4" height="0.7" fill="#fff" opacity="0.5"/>
<rect x="165.2" y="225.13" width="7.4" height="0.7" fill="#fff" opacity="0.7"/>
<rect x="165.2" y="230.1" width="7.4" height="1" fill="#28b1a1"/>
<rect x="165.2" y="231.9" width="7.4" height="1" fill="#28b1a1"/>
<rect x="165.2" y="234.9" width="7.4" height="3.5" fill="#28b1a1" opacity="0.92"/>
<rect x="165.2" y="236.33" width="7.4" height="0.35" fill="#fff" opacity="0.7"/>
<rect x="165.2" y="237.7" width="7.4" height="0.35" fill="#fff" opacity="0.9"/>
<rect x="165.2" y="241.4" width="7.4" height="1" fill="#28b1a1"/>
<rect x="165.2" y="254.4" width="7.4" height="1" fill="#28b1a1"/>
<rect x="165.2" y="256.8" width="7.4" height="2.9" fill="#28b1a1" opacity="0.92"/>
<rect x="165.2" y="258.15" width="7.4" height="0.35" fill="#fff" opacity="0.9"/>
<rect x="165.2" y="262.1" width="7.4" height="1.2" fill="#28b1a1" opacity="0.92"/>
<rect x="165.2" y="267.8" width="7.4" height="1" fill="#28b1a1"/>
<rect x="165.2" y="271" width="7.4" height="5.3" fill="#28b1a1" opacity="0.92"/>
<rect x="165.2" y="272.32" width="7.4" height="0.7" fill="#fff" opacity="0.9"/>
<rect x="165.2" y="273.51" width="7.4" height="0.35" fill="#fff" opacity="0.9"/>
<rect x="165.2" y="274.59" width="7.4" height="0.35" fill="#fff" opacity="0.5"/>
<rect x="165.2" y="281" width="7.4" height="3" fill="#28b1a1" opacity="0.92"/>
<rect x="165.2" y="282.28" width="7.4" height="0.5" fill="#fff" opacity="0.7"/>
<rect x="165.2" y="287.6" width="7.4" height="1" fill="#28b1a1"/>
<rect x="165.2" y="288.6" width="7.4" height="2.4" fill="#28b1a1" opacity="0.45"/>
<rect x="165.2" y="295.7" width="7.4" height="1" fill="#28b1a1"/>
<rect x="165.2" y="298" width="7.4" height="1" fill="#28b1a1"/>
<rect x="165.2" y="302.5" width="7.4" height="1" fill="#28b1a1"/>
<rect x="165.2" y="305.1" width="7.4" height="1" fill="#28b1a1"/>
<rect x="165.2" y="312.8" width="7.4" height="0.7" fill="#28b1a1" opacity="0.45"/>
<rect x="165.2" y="318.7" width="7.4" height="1.8" fill="#28b1a1" opacity="0.92"/>
<rect x="165.2" y="322.9" width="7.4" height="8.3" fill="#28b1a1" opacity="0.92"/>
<rect x="165.2" y="324.12" width="7.4" height="0.7" fill="#fff" opacity="0.7"/>
<rect x="165.2" y="325.72" width="7.4" height="0.7" fill="#fff" opacity="0.5"/>
<rect x="165.2" y="327.26" width="7.4" height="0.5" fill="#fff" opacity="0.7"/>
<rect x="165.2" y="329.46" width="7.4" height="0.35" fill="#fff" opacity="0.9"/>
<rect x="165.2" y="338.9" width="7.4" height="1.7" fill="#28b1a1" opacity="0.92"/>
<rect x="165.2" y="343" width="7.4" height="1" fill="#28b1a1"/>
<rect x="165.2" y="346" width="7.4" height="1" fill="#28b1a1"/>
<rect x="165.2" y="350.1" width="7.4" height="1" fill="#28b1a1"/>
<rect x="165.2" y="355.4" width="7.4" height="1.8" fill="#28b1a1" opacity="0.92"/>
<rect x="165.2" y="359.6" width="7.4" height="5.1" fill="#28b1a1" opacity="0.92"/>
<rect x="165.2" y="360.42" width="7.4" height="0.7" fill="#fff" opacity="0.5"/>
<rect x="165.2" y="361.9" width="7.4" height="0.5" fill="#fff" opacity="0.7"/>
<rect x="165.2" y="362.98" width="7.4" height="0.35" fill="#fff" opacity="0.9"/>
<rect x="165.2" y="363.99" width="7.4" height="0.35" fill="#fff" opacity="0.5"/>
<rect x="165.2" y="366" width="7.4" height="4" fill="#28b1a1" opacity="0.45"/>
<rect x="165.2" y="370.7" width="7.4" height="1.1" fill="#28b1a1"/>
<rect x="165.2" y="374.8" width="7.4" height="1.2" fill="#28b1a1"/>
<rect x="165.2" y="377.8" width="7.4" height="10.6" fill="#28b1a1" opacity="0.92"/>
<rect x="165.2" y="379.38" width="7.4" height="0.5" fill="#fff" opacity="0.7"/>
<rect x="165.2" y="380.47" width="7.4" height="0.7" fill="#fff" opacity="0.5"/>
<rect x="165.2" y="382.41" width="7.4" height="0.5" fill="#fff" opacity="0.7"/>
<rect x="165.2" y="383.51" width="7.4" height="0.5" fill="#fff" opacity="0.5"/>
<rect x="165.2" y="385.67" width="7.4" height="0.35" fill="#fff" opacity="0.5"/>
<rect x="165.2" y="386.96" width="7.4" height="0.35" fill="#fff" opacity="0.5"/>
<rect x="165.2" y="388.4" width="7.4" height="4.8" fill="#28b1a1" opacity="0.92"/>
<rect x="165.2" y="389.84" width="7.4" height="0.35" fill="#fff" opacity="0.9"/>
<rect x="165.2" y="391.51" width="7.4" height="0.5" fill="#fff" opacity="0.9"/>
<rect x="165.2" y="397.6" width="7.4" height="2.1" fill="#28b1a1" opacity="0.92"/>
<rect x="165.2" y="398.99" width="7.4" height="0.35" fill="#fff" opacity="0.7"/>
<rect x="165.2" y="400.5" width="7.4" height="2.5" fill="#28b1a1" opacity="0.92"/>
<rect x="165.2" y="401.39" width="7.4" height="0.5" fill="#fff" opacity="0.5"/>
<rect x="165.2" y="402.39" width="7.4" height="0.7" fill="#fff" opacity="0.7"/>
<rect x="165.2" y="403.8" width="7.4" height="9.5" fill="#28b1a1" opacity="0.92"/>
<rect x="165.2" y="404.62" width="7.4" height="0.35" fill="#fff" opacity="0.7"/>
<rect x="165.2" y="406.81" width="7.4" height="0.7" fill="#fff" opacity="0.9"/>
<rect x="165.2" y="408.5" width="7.4" height="0.35" fill="#fff" opacity="0.5"/>
<rect x="165.2" y="409.76" width="7.4" height="0.5" fill="#fff" opacity="0.5"/>
<rect x="165.2" y="411.69" width="7.4" height="0.5" fill="#fff" opacity="0.7"/>
<rect x="165.2" y="414.5" width="7.4" height="1.1" fill="#28b1a1"/>
<rect x="165.2" y="422.2" width="7.4" height="1" fill="#28b1a1"/>
<rect x="165.2" y="426.3" width="7.4" height="8.3" fill="#28b1a1" opacity="0.45"/>
<rect x="165.2" y="427" width="7.4" height="7" fill="#28b1a1" opacity="0.92"/>
<rect x="165.2" y="427.86" width="7.4" height="0.35" fill="#fff" opacity="0.9"/>
<rect x="165.2" y="429.62" width="7.4" height="0.35" fill="#fff" opacity="0.9"/>
<rect x="165.2" y="431.07" width="7.4" height="0.7" fill="#fff" opacity="0.7"/>
<rect x="165.2" y="432.22" width="7.4" height="0.7" fill="#fff" opacity="0.7"/>
<rect x="165.2" y="215.7" width="7.4" height="223.6" fill="none" stroke="#262626" stroke-width="1"/>
</g>
<g>
<rect x="177.4" y="215.7" width="8" height="223.6" fill="#fff"/>
<rect x="177.4" y="215.7" width="8" height="3.6" fill="#e2bf2e"/>
<rect x="177.4" y="220" width="8" height="1.2" fill="#e2bf2e"/>
<rect x="177.4" y="222" width="8" height="3.4" fill="#e2bf2e"/>
<rect x="177.4" y="231.3" width="8" height="1" fill="#e2bf2e"/>
<rect x="177.4" y="234.3" width="8" height="1" fill="#e2bf2e"/>
<rect x="177.4" y="240.2" width="8" height="3.5" fill="#e2bf2e"/>
<rect x="177.4" y="250.3" width="8" height="1" fill="#e2bf2e"/>
<rect x="177.4" y="256.2" width="8" height="1" fill="#e2bf2e"/>
<rect x="177.4" y="262.1" width="8" height="1" fill="#e2bf2e"/>
<rect x="177.4" y="268.6" width="8" height="1.2" fill="#e2bf2e"/>
<rect x="177.4" y="290.3" width="8" height="0.7" fill="#e2bf2e" opacity="0.45"/>
<rect x="177.4" y="296.2" width="8" height="1.8" fill="#e2bf2e"/>
<rect x="177.4" y="303.4" width="8" height="5.3" fill="#e2bf2e"/>
<rect x="177.4" y="314" width="8" height="2.4" fill="#e2bf2e" opacity="0.92"/>
<rect x="177.4" y="314.91" width="8" height="0.5" fill="#fff" opacity="0.5"/>
<rect x="177.4" y="321.7" width="8" height="1" fill="#e2bf2e"/>
<rect x="177.4" y="331.8" width="8" height="1.2" fill="#e2bf2e"/>
<rect x="177.4" y="341.2" width="8" height="1.8" fill="#e2bf2e" opacity="0.92"/>
<rect x="177.4" y="342.25" width="8" height="0.35" fill="#fff" opacity="0.9"/>
<rect x="177.4" y="346.6" width="8" height="1.2" fill="#e2bf2e"/>
<rect x="177.4" y="351.3" width="8" height="1" fill="#e2bf2e"/>
<rect x="177.4" y="354.3" width="8" height="1" fill="#e2bf2e"/>
<rect x="177.4" y="359" width="8" height="4.5" fill="#e2bf2e" opacity="0.92"/>
<rect x="177.4" y="359.95" width="8" height="0.7" fill="#fff" opacity="0.9"/>
<rect x="177.4" y="362.08" width="8" height="0.35" fill="#fff" opacity="0.9"/>
<rect x="177.4" y="382.3" width="8" height="1" fill="#e2bf2e"/>
<rect x="177.4" y="215.7" width="8" height="223.6" fill="none" stroke="#262626" stroke-width="1"/>
</g>
<g>
<rect x="190.4" y="215.7" width="7.3" height="223.6" fill="#fff"/>
<rect x="190.4" y="215.3" width="7.3" height="1.3" fill="#000000" opacity="1"/>
<rect x="190.4" y="217.9" width="7.3" height="1.3" fill="#000000" opacity="1"/>
<rect x="190.4" y="220.8" width="7.3" height="2" fill="#000000" opacity="1"/>
<rect x="190.4" y="222.8" width="7.3" height="1.3" fill="#000000" opacity="0.2"/>
<rect x="190.4" y="224.1" width="7.3" height="0.6" fill="#000000" opacity="0.8"/>
<rect x="190.4" y="224.7" width="7.3" height="1.3" fill="#000000" opacity="0.25"/>
<rect x="190.4" y="226" width="7.3" height="2" fill="#000000" opacity="1"/>
<rect x="190.4" y="231.9" width="7.3" height="2.9" fill="#000000" opacity="1"/>
<rect x="190.4" y="234.8" width="7.3" height="1" fill="#000000" opacity="0.45"/>
<rect x="190.4" y="237.1" width="7.3" height="1" fill="#000000" opacity="1"/>
<rect x="190.4" y="240" width="7.3" height="3" fill="#000000" opacity="1"/>
<rect x="190.4" y="244.9" width="7.3" height="1" fill="#000000" opacity="1"/>
<rect x="190.4" y="245.9" width="7.3" height="2.9" fill="#000000" opacity="0.12"/>
<rect x="190.4" y="248.8" width="7.3" height="1.9" fill="#000000" opacity="0.4"/>
<rect x="190.4" y="251.7" width="7.3" height="1" fill="#000000" opacity="1"/>
<rect x="190.4" y="254.7" width="7.3" height="1.3" fill="#000000" opacity="1"/>
<rect x="190.4" y="256" width="7.3" height="1.6" fill="#000000" opacity="0.2"/>
<rect x="190.4" y="257.6" width="7.3" height="6.2" fill="#000000" opacity="0.62"/>
<rect x="190.4" y="263.8" width="7.3" height="1.3" fill="#000000" opacity="1"/>
<rect x="190.4" y="267.1" width="7.3" height="2.2" fill="#000000" opacity="0.45"/>
<rect x="190.4" y="270.6" width="7.3" height="2.6" fill="#000000" opacity="1"/>
<rect x="190.4" y="273.2" width="7.3" height="1.3" fill="#000000" opacity="0.5"/>
<rect x="190.4" y="275.5" width="7.3" height="2.9" fill="#000000" opacity="0.85"/>
<rect x="190.4" y="281" width="7.3" height="1" fill="#000000" opacity="1"/>
<rect x="190.4" y="282" width="7.3" height="1" fill="#000000" opacity="0.5"/>
<rect x="190.4" y="283" width="7.3" height="1.9" fill="#000000" opacity="1"/>
<rect x="190.4" y="284.9" width="7.3" height="0.7" fill="#000000" opacity="0.5"/>
<rect x="190.4" y="286.9" width="7.3" height="1" fill="#000000" opacity="1"/>
<rect x="190.4" y="287.9" width="7.3" height="0.9" fill="#000000" opacity="0.5"/>
<rect x="190.4" y="288.8" width="7.3" height="1" fill="#000000" opacity="1"/>
<rect x="190.4" y="293.1" width="7.3" height="1.6" fill="#000000" opacity="0.45"/>
<rect x="190.4" y="294.7" width="7.3" height="2.2" fill="#000000" opacity="1"/>
<rect x="190.4" y="296.9" width="7.3" height="1" fill="#000000" opacity="0.4"/>
<rect x="190.4" y="329.4" width="7.3" height="0.8" fill="#000000" opacity="0.45"/>
<rect x="190.4" y="338.3" width="7.3" height="0.8" fill="#000000" opacity="0.45"/>
<rect x="190.4" y="343.6" width="7.3" height="0.9" fill="#000000" opacity="0.9"/>
<rect x="190.4" y="344.9" width="7.3" height="0.7" fill="#000000" opacity="0.45"/>
<rect x="190.4" y="391.4" width="7.3" height="1" fill="#000000" opacity="1"/>
<rect x="190.4" y="395.3" width="7.3" height="1" fill="#000000" opacity="1"/>
<rect x="190.4" y="402.4" width="7.3" height="1" fill="#000000" opacity="1"/>
<rect x="190.4" y="422.2" width="7.3" height="1" fill="#000000" opacity="1"/>
<rect x="190.4" y="428" width="7.3" height="0.8" fill="#000000" opacity="0.45"/>
<rect x="190.4" y="215.7" width="7.3" height="223.6" fill="none" stroke="#262626" stroke-width="1"/>
</g>
<g>
<rect x="203" y="215.7" width="7.4" height="223.6" fill="#fff"/>
<rect x="203" y="216.5" width="7.4" height="6.5" fill="#e5168a" opacity="0.92"/>
<rect x="203" y="218.01" width="7.4" height="0.7" fill="#fff" opacity="0.5"/>
<rect x="203" y="219.51" width="7.4" height="0.35" fill="#fff" opacity="0.5"/>
<rect x="203" y="220.56" width="7.4" height="0.5" fill="#fff" opacity="0.5"/>
<rect x="203" y="227.8" width="7.4" height="1" fill="#e5168a"/>
<rect x="203" y="229" width="7.4" height="1" fill="#e5168a"/>
<rect x="203" y="234.9" width="7.4" height="1" fill="#e5168a"/>
<rect x="203" y="239" width="7.4" height="0.7" fill="#e5168a" opacity="0.45"/>
<rect x="203" y="244.3" width="7.4" height="2.4" fill="#e5168a" opacity="0.92"/>
<rect x="203" y="245.41" width="7.4" height="0.5" fill="#fff" opacity="0.9"/>
<rect x="203" y="251.4" width="7.4" height="1" fill="#e5168a"/>
<rect x="203" y="261.5" width="7.4" height="1" fill="#e5168a"/>
<rect x="203" y="276.3" width="7.4" height="1" fill="#e5168a"/>
<rect x="203" y="281.6" width="7.4" height="1" fill="#e5168a"/>
<rect x="203" y="285.4" width="7.4" height="1.1" fill="#e5168a"/>
<rect x="203" y="290.3" width="7.4" height="0.7" fill="#e5168a" opacity="0.45"/>
<rect x="203" y="293.3" width="7.4" height="1.2" fill="#e5168a" opacity="0.92"/>
<rect x="203" y="296.2" width="7.4" height="1.8" fill="#e5168a" opacity="0.92"/>
<rect x="203" y="299.8" width="7.4" height="1.8" fill="#e5168a" opacity="0.92"/>
<rect x="203" y="303.9" width="7.4" height="1" fill="#e5168a"/>
<rect x="203" y="309.9" width="7.4" height="1.1" fill="#e5168a" opacity="0.92"/>
<rect x="203" y="319.3" width="7.4" height="0.7" fill="#e5168a" opacity="0.45"/>
<rect x="203" y="324" width="7.4" height="0.7" fill="#e5168a" opacity="0.45"/>
<rect x="203" y="327.6" width="7.4" height="1.2" fill="#e5168a"/>
<rect x="203" y="335.3" width="7.4" height="2.4" fill="#e5168a" opacity="0.92"/>
<rect x="203" y="336.48" width="7.4" height="0.7" fill="#fff" opacity="0.9"/>
<rect x="203" y="339.4" width="7.4" height="1.8" fill="#e5168a" opacity="0.92"/>
<rect x="203" y="340.42" width="7.4" height="0.35" fill="#fff" opacity="0.9"/>
<rect x="203" y="343" width="7.4" height="4.8" fill="#e5168a" opacity="0.92"/>
<rect x="203" y="344.02" width="7.4" height="0.5" fill="#fff" opacity="0.5"/>
<rect x="203" y="345.09" width="7.4" height="0.35" fill="#fff" opacity="0.7"/>
<rect x="203" y="346.53" width="7.4" height="0.7" fill="#fff" opacity="0.5"/>
<rect x="203" y="351.3" width="7.4" height="4.7" fill="#e5168a" opacity="0.92"/>
<rect x="203" y="352.21" width="7.4" height="0.5" fill="#fff" opacity="0.7"/>
<rect x="203" y="354" width="7.4" height="0.7" fill="#fff" opacity="0.9"/>
<rect x="203" y="358.4" width="7.4" height="8.6" fill="#e5168a" opacity="0.92"/>
<rect x="203" y="359.31" width="7.4" height="0.35" fill="#fff" opacity="0.5"/>
<rect x="203" y="360.88" width="7.4" height="0.5" fill="#fff" opacity="0.9"/>
<rect x="203" y="362.26" width="7.4" height="0.35" fill="#fff" opacity="0.5"/>
<rect x="203" y="363.97" width="7.4" height="0.35" fill="#fff" opacity="0.7"/>
<rect x="203" y="365.05" width="7.4" height="0.5" fill="#fff" opacity="0.7"/>
<rect x="203" y="366.22" width="7.4" height="0.35" fill="#fff" opacity="0.5"/>
<rect x="203" y="371" width="7.4" height="1" fill="#e5168a"/>
<rect x="203" y="375" width="7.4" height="13" fill="#e5168a" opacity="0.92"/>
<rect x="203" y="376.09" width="7.4" height="0.35" fill="#fff" opacity="0.9"/>
<rect x="203" y="377.98" width="7.4" height="0.35" fill="#fff" opacity="0.7"/>
<rect x="203" y="379.4" width="7.4" height="0.7" fill="#fff" opacity="0.7"/>
<rect x="203" y="381.48" width="7.4" height="0.5" fill="#fff" opacity="0.5"/>
<rect x="203" y="383.52" width="7.4" height="0.7" fill="#fff" opacity="0.5"/>
<rect x="203" y="385.27" width="7.4" height="0.5" fill="#fff" opacity="0.7"/>
<rect x="203" y="386.97" width="7.4" height="0.7" fill="#fff" opacity="0.5"/>
<rect x="203" y="388" width="7.4" height="8" fill="#e5168a" opacity="0.92"/>
<rect x="203" y="389.31" width="7.4" height="0.5" fill="#fff" opacity="0.7"/>
<rect x="203" y="391.19" width="7.4" height="0.5" fill="#fff" opacity="0.9"/>
<rect x="203" y="393.02" width="7.4" height="0.5" fill="#fff" opacity="0.7"/>
<rect x="203" y="394.57" width="7.4" height="0.7" fill="#fff" opacity="0.5"/>
<rect x="203" y="403" width="7.4" height="1" fill="#e5168a"/>
<rect x="203" y="410" width="7.4" height="8" fill="#e5168a" opacity="0.92"/>
<rect x="203" y="411.21" width="7.4" height="0.5" fill="#fff" opacity="0.9"/>
<rect x="203" y="412.32" width="7.4" height="0.35" fill="#fff" opacity="0.5"/>
<rect x="203" y="414.47" width="7.4" height="0.35" fill="#fff" opacity="0.7"/>
<rect x="203" y="416.4" width="7.4" height="0.7" fill="#fff" opacity="0.7"/>
<rect x="203" y="422.5" width="7.4" height="1.5" fill="#e5168a"/>
<rect x="203" y="428" width="7.4" height="5" fill="#e5168a" opacity="0.92"/>
<rect x="203" y="428.81" width="7.4" height="0.5" fill="#fff" opacity="0.5"/>
<rect x="203" y="430.62" width="7.4" height="0.35" fill="#fff" opacity="0.9"/>
<rect x="203" y="431.83" width="7.4" height="0.5" fill="#fff" opacity="0.9"/>
<rect x="203" y="215.7" width="7.4" height="223.6" fill="none" stroke="#262626" stroke-width="1"/>
</g>
<line x1="155.4" y1="206" x2="180.3" y2="206" stroke="#111" stroke-width="1.1"/>
<line x1="155.4" y1="206" x2="155.4" y2="212.6" stroke="#111" stroke-width="1.1"/>
<line x1="167.7" y1="206" x2="167.7" y2="212.6" stroke="#111" stroke-width="1.1"/>
<line x1="180.3" y1="206" x2="180.3" y2="212.6" stroke="#111" stroke-width="1.1"/>
<line x1="194.5" y1="440.8" x2="194.5" y2="447.3" stroke="#111" stroke-width="1.1"/>
<line x1="205.3" y1="440.8" x2="205.3" y2="447.3" stroke="#111" stroke-width="1.1"/>
<line x1="194.5" y1="447.3" x2="205.3" y2="447.3" stroke="#111" stroke-width="1.1"/>
<line x1="194.5" y1="447.3" x2="12" y2="482.3" stroke="#111" stroke-width="1.1"/>
<line x1="205.3" y1="447.3" x2="206.6" y2="482.3" stroke="#111" stroke-width="1.1"/>
<rect x="214.5" y="366.4" width="11.4" height="7.3" fill="#3a6fba" stroke="#111" stroke-width="1"/>
<text x="231.4" y="373.93" font-size="8.7" fill="#111" stroke="#111">Sig. in fibrosis</text>
<rect x="214.5" y="378.4" width="11.4" height="7.3" fill="#2db3a4" stroke="#111" stroke-width="1"/>
<text x="231.4" y="385.93" font-size="8.7" fill="#111" stroke="#111">Sig. in inflammation</text>
<rect x="214.5" y="390.4" width="11.4" height="7.3" fill="#e2bf2e" stroke="#111" stroke-width="1"/>
<text x="231.4" y="397.93" font-size="8.7" fill="#111" stroke="#111">Sig. in steatosis</text>
<rect x="214.5" y="402.4" width="11.4" height="7.3" fill="#000000" stroke="#111" stroke-width="1"/>
<text x="231.4" y="409.93" font-size="8.7" fill="#111" stroke="#111">Liver-specific</text>
<rect x="214.5" y="414.4" width="11.4" height="7.3" fill="#e5168a" stroke="#111" stroke-width="1"/>
<text x="231.4" y="421.93" font-size="8.7" fill="#111" stroke="#111">Secreted</text>
<text x="-0.8" y="470.9" font-size="9.4" font-weight="bold" fill="#000" stroke="#000">c</text>
<rect x="12" y="482.3" width="194.6" height="166.5" fill="none" stroke="#111" stroke-width="1.1"/>
<line x1="43.5" y1="497" x2="43.5" y2="627.2" stroke="#8a8a8a" stroke-width="0.8"/>
<line x1="43.5" y1="627.2" x2="175.1" y2="627.2" stroke="#8a8a8a" stroke-width="0.8"/>
<line x1="38.7" y1="514.4" x2="43.5" y2="514.4" stroke="#8a8a8a" stroke-width="0.8"/>
<text x="33.6" y="517.53" font-size="8.7" text-anchor="end" fill="#111" stroke="#111">1.0</text>
<line x1="38.7" y1="536.96" x2="43.5" y2="536.96" stroke="#8a8a8a" stroke-width="0.8"/>
<text x="33.6" y="540.09" font-size="8.7" text-anchor="end" fill="#111" stroke="#111">0.8</text>
<line x1="38.7" y1="559.52" x2="43.5" y2="559.52" stroke="#8a8a8a" stroke-width="0.8"/>
<text x="33.6" y="562.65" font-size="8.7" text-anchor="end" fill="#111" stroke="#111">0.6</text>
<line x1="38.7" y1="582.08" x2="43.5" y2="582.08" stroke="#8a8a8a" stroke-width="0.8"/>
<text x="33.6" y="585.21" font-size="8.7" text-anchor="end" fill="#111" stroke="#111">0.4</text>
<line x1="38.7" y1="604.64" x2="43.5" y2="604.64" stroke="#8a8a8a" stroke-width="0.8"/>
<text x="33.6" y="607.77" font-size="8.7" text-anchor="end" fill="#111" stroke="#111">0.2</text>
<line x1="38.7" y1="627.2" x2="43.5" y2="627.2" stroke="#8a8a8a" stroke-width="0.8"/>
<text x="33.6" y="630.33" font-size="8.7" text-anchor="end" fill="#111" stroke="#111">0</text>
<rect x="59.3" y="514.4" width="31.9" height="13.6" fill="#ebebeb"/>
<rect x="59.3" y="528" width="31.9" height="99.2" fill="#306db5"/>
<line x1="59.3" y1="528" x2="91.2" y2="528" stroke="#111" stroke-width="1.1"/>
<rect x="59.3" y="514.4" width="31.9" height="112.8" fill="none" stroke="#111" stroke-width="1.3"/>
<rect x="125.6" y="514.4" width="31.7" height="90.24" fill="#ebebeb"/>
<rect x="125.6" y="604.64" width="31.7" height="22.56" fill="#306db5"/>
<rect x="125.6" y="514.4" width="31.7" height="112.8" fill="none" stroke="#6a6a6a" stroke-width="0.8"/>
<text x="71.5" y="526.03" font-size="8.7" text-anchor="middle" fill="#111" stroke="#111">13%</text>
<text x="71.5" y="584.63" font-size="8.7" text-anchor="middle" fill="#fff" stroke="#fff">87%</text>
<text x="138.4" y="564.13" font-size="8.7" text-anchor="middle" fill="#111" stroke="#111">80%</text>
<text x="138.4" y="620.13" font-size="8.7" text-anchor="middle" fill="#fff" stroke="#fff">20%</text>
<text x="71.2" y="638.13" font-size="8.7" text-anchor="middle" fill="#111" stroke="#111">Liver-specific</text>
<text x="140.8" y="637.73" font-size="8.7" text-anchor="middle" fill="#111" stroke="#111">Secreted</text>
<rect x="162.5" y="515.6" width="10.2" height="9.9" fill="#ebebeb" stroke="#333" stroke-width="0.7"/>
<rect x="162.5" y="531" width="10.2" height="9.4" fill="#306db5" stroke="#333" stroke-width="0.7"/>
<text x="177.5" y="523.73" font-size="8.7" fill="#111" stroke="#111">Up</text>
<text x="177.5" y="538.93" font-size="8.7" fill="#111" stroke="#111">Down</text>
<text x="337.6" y="7.9" font-size="9.4" font-weight="bold" fill="#000" stroke="#000">d</text>
<defs><pattern id="hatch" patternUnits="userSpaceOnUse" width="2" height="2" patternTransform="rotate(45)"><rect width="2" height="2" fill="#f6f8fc"/><rect width="0.7" height="2" fill="#6a8fcc"/></pattern></defs>
<text x="415.05" y="13.03" font-size="8.7" text-anchor="middle" fill="#111" stroke="#111">Fibrosis</text>
<text x="415.05" y="23.13" font-size="8.7" text-anchor="middle" fill="#111" stroke="#111">Kleiner score</text>
<rect x="385.3" y="27.4" width="59.5" height="178.8" fill="none" stroke="#9a9a9a" stroke-width="0.8"/>
<line x1="381.9" y1="38.5" x2="385.3" y2="38.5" stroke="#8a8a8a" stroke-width="0.7"/>
<text x="377.1" y="41.36" font-size="7.95" text-anchor="end" fill="#111" stroke="#111">FBLN1</text>
<rect x="385.3" y="35.55" width="45.9" height="5.9" fill="#2e62ae"/>
<line x1="381.9" y1="46.76" x2="385.3" y2="46.76" stroke="#8a8a8a" stroke-width="0.7"/>
<text x="377.1" y="49.62" font-size="7.95" text-anchor="end" fill="#111" stroke="#111">TGFBI</text>
<rect x="385.3" y="43.81" width="45.4" height="5.9" fill="#2e62ae"/>
<line x1="381.9" y1="55.02" x2="385.3" y2="55.02" stroke="#8a8a8a" stroke-width="0.7"/>
<text x="377.1" y="57.88" font-size="7.95" text-anchor="end" fill="#111" stroke="#111">FBLN5</text>
<rect x="385.3" y="52.07" width="44.9" height="5.9" fill="#2e62ae"/>
<line x1="381.9" y1="63.28" x2="385.3" y2="63.28" stroke="#8a8a8a" stroke-width="0.7"/>
<text x="377.1" y="66.14" font-size="7.95" text-anchor="end" fill="#111" stroke="#111">TNXB</text>
<rect x="385.3" y="60.33" width="43.8" height="5.9" fill="#2e62ae"/>
<line x1="381.9" y1="71.54" x2="385.3" y2="71.54" stroke="#8a8a8a" stroke-width="0.7"/>
<text x="377.1" y="74.4" font-size="7.95" text-anchor="end" fill="#111" stroke="#111">VILL</text>
<rect x="385.65" y="68.79" width="42.8" height="5.5" fill="url(#hatch)" stroke="#4a75bd" stroke-width="0.7"/>
<line x1="381.9" y1="79.8" x2="385.3" y2="79.8" stroke="#8a8a8a" stroke-width="0.7"/>
<text x="377.1" y="82.66" font-size="7.95" text-anchor="end" fill="#111" stroke="#111">FBLN1</text>
<rect x="385.3" y="76.85" width="43" height="5.9" fill="#2e62ae"/>
<line x1="381.9" y1="88.06" x2="385.3" y2="88.06" stroke="#8a8a8a" stroke-width="0.7"/>
<text x="377.1" y="90.92" font-size="7.95" text-anchor="end" fill="#111" stroke="#111">IGFBP7</text>
<rect x="385.3" y="85.11" width="43" height="5.9" fill="#2e62ae"/>
<line x1="381.9" y1="96.32" x2="385.3" y2="96.32" stroke="#8a8a8a" stroke-width="0.7"/>
<text x="377.1" y="99.18" font-size="7.95" text-anchor="end" fill="#111" stroke="#111">FBLN2</text>
<rect x="385.3" y="93.37" width="42.9" height="5.9" fill="#2e62ae"/>
<line x1="381.9" y1="104.58" x2="385.3" y2="104.58" stroke="#8a8a8a" stroke-width="0.7"/>
<text x="377.1" y="107.44" font-size="7.95" text-anchor="end" fill="#111" stroke="#111">TNC</text>
<rect x="385.3" y="101.63" width="42.4" height="5.9" fill="#2e62ae"/>
<line x1="381.9" y1="112.84" x2="385.3" y2="112.84" stroke="#8a8a8a" stroke-width="0.7"/>
<text x="377.1" y="115.7" font-size="7.95" text-anchor="end" fill="#111" stroke="#111">ANXA2</text>
<rect x="385.65" y="110.09" width="41.7" height="5.5" fill="url(#hatch)" stroke="#4a75bd" stroke-width="0.7"/>
<line x1="381.9" y1="121.1" x2="385.3" y2="121.1" stroke="#8a8a8a" stroke-width="0.7"/>
<text x="377.1" y="123.96" font-size="7.95" text-anchor="end" fill="#111" stroke="#111">EMILIN1</text>
<rect x="385.3" y="118.15" width="41.9" height="5.9" fill="#2e62ae"/>
<line x1="381.9" y1="129.36" x2="385.3" y2="129.36" stroke="#8a8a8a" stroke-width="0.7"/>
<text x="377.1" y="132.22" font-size="7.95" text-anchor="end" fill="#111" stroke="#111">NID2</text>
<rect x="385.3" y="126.41" width="41.8" height="5.9" fill="#2e62ae"/>
<line x1="381.9" y1="137.62" x2="385.3" y2="137.62" stroke="#8a8a8a" stroke-width="0.7"/>
<text x="377.1" y="140.48" font-size="7.95" text-anchor="end" fill="#111" stroke="#111">FBN1</text>
<rect x="385.3" y="134.67" width="41.6" height="5.9" fill="#2e62ae"/>
<line x1="381.9" y1="145.88" x2="385.3" y2="145.88" stroke="#8a8a8a" stroke-width="0.7"/>
<text x="377.1" y="148.74" font-size="7.95" text-anchor="end" fill="#111" stroke="#111">COL5A2</text>
<rect x="385.3" y="142.93" width="41.6" height="5.9" fill="#2e62ae"/>
<line x1="381.9" y1="154.14" x2="385.3" y2="154.14" stroke="#8a8a8a" stroke-width="0.7"/>
<text x="377.1" y="157" font-size="7.95" text-anchor="end" fill="#111" stroke="#111">DCN</text>
<rect x="385.3" y="151.19" width="41.5" height="5.9" fill="#2e62ae"/>
<line x1="381.9" y1="162.4" x2="385.3" y2="162.4" stroke="#8a8a8a" stroke-width="0.7"/>
<text x="377.1" y="165.26" font-size="7.95" text-anchor="end" fill="#111" stroke="#111">GSTP1</text>
<rect x="385.65" y="159.65" width="40.6" height="5.5" fill="url(#hatch)" stroke="#4a75bd" stroke-width="0.7"/>
<line x1="381.9" y1="170.66" x2="385.3" y2="170.66" stroke="#8a8a8a" stroke-width="0.7"/>
<text x="377.1" y="173.52" font-size="7.95" text-anchor="end" fill="#111" stroke="#111">PKM</text>
<rect x="385.65" y="167.91" width="40.6" height="5.5" fill="url(#hatch)" stroke="#4a75bd" stroke-width="0.7"/>
<line x1="381.9" y1="178.92" x2="385.3" y2="178.92" stroke="#8a8a8a" stroke-width="0.7"/>
<text x="377.1" y="181.78" font-size="7.95" text-anchor="end" fill="#111" stroke="#111">C7</text>
<rect x="385.3" y="175.97" width="40.8" height="5.9" fill="#2e62ae"/>
<line x1="381.9" y1="187.18" x2="385.3" y2="187.18" stroke="#8a8a8a" stroke-width="0.7"/>
<text x="377.1" y="190.04" font-size="7.95" text-anchor="end" fill="#111" stroke="#111">SERPINB9</text>
<rect x="385.65" y="184.43" width="40.5" height="5.5" fill="url(#hatch)" stroke="#4a75bd" stroke-width="0.7"/>
<line x1="381.9" y1="195.44" x2="385.3" y2="195.44" stroke="#8a8a8a" stroke-width="0.7"/>
<text x="377.1" y="198.3" font-size="7.95" text-anchor="end" fill="#111" stroke="#111">FHL2</text>
<rect x="385.65" y="192.69" width="40.3" height="5.5" fill="url(#hatch)" stroke="#4a75bd" stroke-width="0.7"/>
<line x1="385.3" y1="206.2" x2="385.3" y2="209" stroke="#8a8a8a" stroke-width="0.7"/>
<text x="385.3" y="220.13" font-size="8.7" text-anchor="middle" fill="#111" stroke="#111">0</text>
<line x1="414.9" y1="206.2" x2="414.9" y2="209" stroke="#8a8a8a" stroke-width="0.7"/>
<text x="414.9" y="220.13" font-size="8.7" text-anchor="middle" fill="#111" stroke="#111">0.5</text>
<line x1="444.5" y1="206.2" x2="444.5" y2="209" stroke="#8a8a8a" stroke-width="0.7"/>
<text x="444.5" y="220.13" font-size="8.7" text-anchor="middle" fill="#111" stroke="#111">1.0</text>
<text x="415.05" y="231.93" font-size="8.7" text-anchor="middle" fill="#111" stroke="#111">Spearman corr. coeff.</text>
<text x="528.55" y="13.03" font-size="8.7" text-anchor="middle" fill="#111" stroke="#111">Inflammation</text>
<text x="528.55" y="23.13" font-size="8.7" text-anchor="middle" fill="#111" stroke="#111">NAS inflammation</text>
<rect x="498.8" y="27.4" width="59.5" height="178.8" fill="none" stroke="#9a9a9a" stroke-width="0.8"/>
<line x1="495.4" y1="38.5" x2="498.8" y2="38.5" stroke="#8a8a8a" stroke-width="0.7"/>
<text x="490.6" y="41.36" font-size="7.95" text-anchor="end" fill="#111" stroke="#111">GSTP1</text>
<rect x="499.15" y="35.75" width="38.2" height="5.5" fill="url(#hatch)" stroke="#4a75bd" stroke-width="0.7"/>
<line x1="495.4" y1="46.76" x2="498.8" y2="46.76" stroke="#8a8a8a" stroke-width="0.7"/>
<text x="490.6" y="49.62" font-size="7.95" text-anchor="end" fill="#111" stroke="#111">GPX3</text>
<rect x="498.8" y="43.81" width="37.2" height="5.9" fill="#2e62ae"/>
<line x1="495.4" y1="55.02" x2="498.8" y2="55.02" stroke="#8a8a8a" stroke-width="0.7"/>
<text x="490.6" y="57.88" font-size="7.95" text-anchor="end" fill="#111" stroke="#111">S100A11</text>
<rect x="499.15" y="52.27" width="36.1" height="5.5" fill="url(#hatch)" stroke="#4a75bd" stroke-width="0.7"/>
<line x1="495.4" y1="63.28" x2="498.8" y2="63.28" stroke="#8a8a8a" stroke-width="0.7"/>
<text x="490.6" y="66.14" font-size="7.95" text-anchor="end" fill="#111" stroke="#111">FKBP1A</text>
<rect x="499.15" y="60.53" width="35.5" height="5.5" fill="url(#hatch)" stroke="#4a75bd" stroke-width="0.7"/>
<line x1="495.4" y1="71.54" x2="498.8" y2="71.54" stroke="#8a8a8a" stroke-width="0.7"/>
<text x="490.6" y="74.4" font-size="7.95" text-anchor="end" fill="#111" stroke="#111">PDLIM1</text>
<rect x="499.15" y="68.79" width="35.1" height="5.5" fill="url(#hatch)" stroke="#4a75bd" stroke-width="0.7"/>
<line x1="495.4" y1="79.8" x2="498.8" y2="79.8" stroke="#8a8a8a" stroke-width="0.7"/>
<text x="490.6" y="82.66" font-size="7.95" text-anchor="end" fill="#111" stroke="#111">ANXA1</text>
<rect x="499.15" y="77.05" width="34.5" height="5.5" fill="url(#hatch)" stroke="#4a75bd" stroke-width="0.7"/>
<line x1="495.4" y1="88.06" x2="498.8" y2="88.06" stroke="#8a8a8a" stroke-width="0.7"/>
<text x="490.6" y="90.92" font-size="7.95" text-anchor="end" fill="#111" stroke="#111">S100A10</text>
<rect x="499.15" y="85.31" width="34.1" height="5.5" fill="url(#hatch)" stroke="#4a75bd" stroke-width="0.7"/>
<line x1="495.4" y1="96.32" x2="498.8" y2="96.32" stroke="#8a8a8a" stroke-width="0.7"/>
<text x="490.6" y="99.18" font-size="7.95" text-anchor="end" fill="#111" stroke="#111">C11orf96</text>
<rect x="499.15" y="93.57" width="33.9" height="5.5" fill="url(#hatch)" stroke="#4a75bd" stroke-width="0.7"/>
<line x1="495.4" y1="104.58" x2="498.8" y2="104.58" stroke="#8a8a8a" stroke-width="0.7"/>
<text x="490.6" y="107.44" font-size="7.95" text-anchor="end" fill="#111" stroke="#111">LXN</text>
<rect x="499.15" y="101.83" width="34" height="5.5" fill="url(#hatch)" stroke="#4a75bd" stroke-width="0.7"/>
<line x1="495.4" y1="112.84" x2="498.8" y2="112.84" stroke="#8a8a8a" stroke-width="0.7"/>
<text x="490.6" y="115.7" font-size="7.95" text-anchor="end" fill="#111" stroke="#111">SEPT7</text>
<rect x="499.15" y="110.09" width="33.7" height="5.5" fill="url(#hatch)" stroke="#4a75bd" stroke-width="0.7"/>
<line x1="495.4" y1="121.1" x2="498.8" y2="121.1" stroke="#8a8a8a" stroke-width="0.7"/>
<text x="490.6" y="123.96" font-size="7.95" text-anchor="end" fill="#111" stroke="#111">MYL12A</text>
<rect x="499.15" y="118.35" width="33.7" height="5.5" fill="url(#hatch)" stroke="#4a75bd" stroke-width="0.7"/>
<line x1="495.4" y1="129.36" x2="498.8" y2="129.36" stroke="#8a8a8a" stroke-width="0.7"/>
<text x="490.6" y="132.22" font-size="7.95" text-anchor="end" fill="#111" stroke="#111">HMGN1</text>
<rect x="499.15" y="126.61" width="33.3" height="5.5" fill="url(#hatch)" stroke="#4a75bd" stroke-width="0.7"/>
<line x1="495.4" y1="137.62" x2="498.8" y2="137.62" stroke="#8a8a8a" stroke-width="0.7"/>
<text x="490.6" y="140.48" font-size="7.95" text-anchor="end" fill="#111" stroke="#111">CFL1</text>
<rect x="499.15" y="134.87" width="33.3" height="5.5" fill="url(#hatch)" stroke="#4a75bd" stroke-width="0.7"/>
<line x1="495.4" y1="145.88" x2="498.8" y2="145.88" stroke="#8a8a8a" stroke-width="0.7"/>
<text x="490.6" y="148.74" font-size="7.95" text-anchor="end" fill="#111" stroke="#111">AKR1B1</text>
<rect x="499.15" y="143.13" width="32.9" height="5.5" fill="url(#hatch)" stroke="#4a75bd" stroke-width="0.7"/>
<line x1="495.4" y1="154.14" x2="498.8" y2="154.14" stroke="#8a8a8a" stroke-width="0.7"/>
<text x="490.6" y="157" font-size="7.95" text-anchor="end" fill="#111" stroke="#111">THY1</text>
<rect x="498.8" y="151.19" width="33.4" height="5.9" fill="#2e62ae"/>
<line x1="495.4" y1="162.4" x2="498.8" y2="162.4" stroke="#8a8a8a" stroke-width="0.7"/>
<text x="490.6" y="165.26" font-size="7.95" text-anchor="end" fill="#111" stroke="#111">LUM</text>
<rect x="498.8" y="159.45" width="33.4" height="5.9" fill="#2e62ae"/>
<line x1="495.4" y1="170.66" x2="498.8" y2="170.66" stroke="#8a8a8a" stroke-width="0.7"/>
<text x="490.6" y="173.52" font-size="7.95" text-anchor="end" fill="#111" stroke="#111">PLXDC2</text>
<rect x="499.15" y="167.91" width="32.4" height="5.5" fill="url(#hatch)" stroke="#4a75bd" stroke-width="0.7"/>
<line x1="495.4" y1="178.92" x2="498.8" y2="178.92" stroke="#8a8a8a" stroke-width="0.7"/>
<text x="490.6" y="181.78" font-size="7.95" text-anchor="end" fill="#111" stroke="#111">SEPT11</text>
<rect x="499.15" y="176.17" width="32.4" height="5.5" fill="url(#hatch)" stroke="#4a75bd" stroke-width="0.7"/>
<line x1="495.4" y1="187.18" x2="498.8" y2="187.18" stroke="#8a8a8a" stroke-width="0.7"/>
<text x="490.6" y="190.04" font-size="7.95" text-anchor="end" fill="#111" stroke="#111">ZYX</text>
<rect x="499.15" y="184.43" width="32.2" height="5.5" fill="url(#hatch)" stroke="#4a75bd" stroke-width="0.7"/>
<line x1="495.4" y1="195.44" x2="498.8" y2="195.44" stroke="#8a8a8a" stroke-width="0.7"/>
<text x="490.6" y="198.3" font-size="7.95" text-anchor="end" fill="#111" stroke="#111">VASP</text>
<rect x="499.15" y="192.69" width="32.2" height="5.5" fill="url(#hatch)" stroke="#4a75bd" stroke-width="0.7"/>
<line x1="498.8" y1="206.2" x2="498.8" y2="209" stroke="#8a8a8a" stroke-width="0.7"/>
<text x="498.8" y="220.13" font-size="8.7" text-anchor="middle" fill="#111" stroke="#111">0</text>
<line x1="528.4" y1="206.2" x2="528.4" y2="209" stroke="#8a8a8a" stroke-width="0.7"/>
<text x="528.4" y="220.13" font-size="8.7" text-anchor="middle" fill="#111" stroke="#111">0.5</text>
<line x1="558" y1="206.2" x2="558" y2="209" stroke="#8a8a8a" stroke-width="0.7"/>
<text x="558" y="220.13" font-size="8.7" text-anchor="middle" fill="#111" stroke="#111">1.0</text>
<text x="528.55" y="231.93" font-size="8.7" text-anchor="middle" fill="#111" stroke="#111">Spearman corr. coeff.</text>
<text x="642.95" y="13.03" font-size="8.7" text-anchor="middle" fill="#111" stroke="#111">Steatosis</text>
<text x="642.95" y="23.13" font-size="8.7" text-anchor="middle" fill="#111" stroke="#111">NAS steatosis</text>
<rect x="613.2" y="27.4" width="59.5" height="178.8" fill="none" stroke="#9a9a9a" stroke-width="0.8"/>
<line x1="609.8" y1="38.5" x2="613.2" y2="38.5" stroke="#8a8a8a" stroke-width="0.7"/>
<text x="606.1" y="41.36" font-size="7.95" text-anchor="end" fill="#111" stroke="#111">PLIN2</text>
<rect x="613.55" y="35.75" width="40.7" height="5.5" fill="url(#hatch)" stroke="#4a75bd" stroke-width="0.7"/>
<line x1="609.8" y1="46.76" x2="613.2" y2="46.76" stroke="#8a8a8a" stroke-width="0.7"/>
<text x="606.1" y="49.62" font-size="7.95" text-anchor="end" fill="#111" stroke="#111">GCN1</text>
<rect x="613.55" y="44.01" width="33.1" height="5.5" fill="url(#hatch)" stroke="#4a75bd" stroke-width="0.7"/>
<line x1="609.8" y1="55.02" x2="613.2" y2="55.02" stroke="#8a8a8a" stroke-width="0.7"/>
<text x="606.1" y="57.88" font-size="7.95" text-anchor="end" fill="#111" stroke="#111">NME2</text>
<rect x="613.55" y="52.27" width="33.1" height="5.5" fill="url(#hatch)" stroke="#4a75bd" stroke-width="0.7"/>
<line x1="609.8" y1="63.28" x2="613.2" y2="63.28" stroke="#8a8a8a" stroke-width="0.7"/>
<text x="606.1" y="66.14" font-size="7.95" text-anchor="end" fill="#111" stroke="#111">FABP5</text>
<rect x="613.55" y="60.53" width="33.1" height="5.5" fill="url(#hatch)" stroke="#4a75bd" stroke-width="0.7"/>
<line x1="609.8" y1="71.54" x2="613.2" y2="71.54" stroke="#8a8a8a" stroke-width="0.7"/>
<text x="606.1" y="74.4" font-size="7.95" text-anchor="end" fill="#111" stroke="#111">TUBA1B</text>
<rect x="613.55" y="68.79" width="33.1" height="5.5" fill="url(#hatch)" stroke="#4a75bd" stroke-width="0.7"/>
<line x1="609.8" y1="79.8" x2="613.2" y2="79.8" stroke="#8a8a8a" stroke-width="0.7"/>
<text x="606.1" y="82.66" font-size="7.95" text-anchor="end" fill="#111" stroke="#111">SEC23A</text>
<rect x="613.55" y="77.05" width="31.8" height="5.5" fill="url(#hatch)" stroke="#4a75bd" stroke-width="0.7"/>
<line x1="609.8" y1="88.06" x2="613.2" y2="88.06" stroke="#8a8a8a" stroke-width="0.7"/>
<text x="606.1" y="90.92" font-size="7.95" text-anchor="end" fill="#111" stroke="#111">SPTBN1</text>
<rect x="613.55" y="85.31" width="31.8" height="5.5" fill="url(#hatch)" stroke="#4a75bd" stroke-width="0.7"/>
<line x1="609.8" y1="96.32" x2="613.2" y2="96.32" stroke="#8a8a8a" stroke-width="0.7"/>
<text x="606.1" y="99.18" font-size="7.95" text-anchor="end" fill="#111" stroke="#111">MARS</text>
<rect x="613.55" y="93.57" width="29.7" height="5.5" fill="url(#hatch)" stroke="#4a75bd" stroke-width="0.7"/>
<line x1="609.8" y1="104.58" x2="613.2" y2="104.58" stroke="#8a8a8a" stroke-width="0.7"/>
<text x="606.1" y="107.44" font-size="7.95" text-anchor="end" fill="#111" stroke="#111">MVP</text>
<rect x="613.55" y="101.83" width="29.7" height="5.5" fill="url(#hatch)" stroke="#4a75bd" stroke-width="0.7"/>
<line x1="609.8" y1="112.84" x2="613.2" y2="112.84" stroke="#8a8a8a" stroke-width="0.7"/>
<text x="606.1" y="115.7" font-size="7.95" text-anchor="end" fill="#111" stroke="#111">YWHAH</text>
<rect x="613.55" y="110.09" width="29.7" height="5.5" fill="url(#hatch)" stroke="#4a75bd" stroke-width="0.7"/>
<line x1="609.8" y1="121.1" x2="613.2" y2="121.1" stroke="#8a8a8a" stroke-width="0.7"/>
<text x="606.1" y="123.96" font-size="7.95" text-anchor="end" fill="#111" stroke="#111">PMPCA</text>
<rect x="613.55" y="118.35" width="29.1" height="5.5" fill="url(#hatch)" stroke="#4a75bd" stroke-width="0.7"/>
<line x1="609.8" y1="129.36" x2="613.2" y2="129.36" stroke="#8a8a8a" stroke-width="0.7"/>
<text x="606.1" y="132.22" font-size="7.95" text-anchor="end" fill="#111" stroke="#111">SEC31A</text>
<rect x="613.2" y="126.41" width="29.8" height="5.9" fill="#2e62ae"/>
<line x1="609.8" y1="137.62" x2="613.2" y2="137.62" stroke="#8a8a8a" stroke-width="0.7"/>
<text x="606.1" y="140.48" font-size="7.95" text-anchor="end" fill="#111" stroke="#111">ANXA2</text>
<rect x="613.55" y="134.87" width="28.9" height="5.5" fill="url(#hatch)" stroke="#4a75bd" stroke-width="0.7"/>
<line x1="609.8" y1="145.88" x2="613.2" y2="145.88" stroke="#8a8a8a" stroke-width="0.7"/>
<text x="606.1" y="148.74" font-size="7.95" text-anchor="end" fill="#111" stroke="#111">MSN</text>
<rect x="613.55" y="143.13" width="28" height="5.5" fill="url(#hatch)" stroke="#4a75bd" stroke-width="0.7"/>
<line x1="609.8" y1="154.14" x2="613.2" y2="154.14" stroke="#8a8a8a" stroke-width="0.7"/>
<text x="606.1" y="157" font-size="7.95" text-anchor="end" fill="#111" stroke="#111">PTPN11</text>
<rect x="613.55" y="151.39" width="27.8" height="5.5" fill="url(#hatch)" stroke="#4a75bd" stroke-width="0.7"/>
<line x1="609.8" y1="162.4" x2="613.2" y2="162.4" stroke="#8a8a8a" stroke-width="0.7"/>
<text x="606.1" y="165.26" font-size="7.95" text-anchor="end" fill="#111" stroke="#111">FABP4</text>
<rect x="613.55" y="159.65" width="27.8" height="5.5" fill="url(#hatch)" stroke="#4a75bd" stroke-width="0.7"/>
<line x1="609.8" y1="170.66" x2="613.2" y2="170.66" stroke="#8a8a8a" stroke-width="0.7"/>
<text x="606.1" y="173.52" font-size="7.95" text-anchor="end" fill="#111" stroke="#111">KRT19</text>
<rect x="613.55" y="167.91" width="27.8" height="5.5" fill="url(#hatch)" stroke="#4a75bd" stroke-width="0.7"/>
<line x1="609.8" y1="178.92" x2="613.2" y2="178.92" stroke="#8a8a8a" stroke-width="0.7"/>
<text x="606.1" y="181.78" font-size="7.95" text-anchor="end" fill="#111" stroke="#111">TRMT10C</text>
<rect x="613.55" y="176.17" width="27.4" height="5.5" fill="url(#hatch)" stroke="#4a75bd" stroke-width="0.7"/>
<line x1="609.8" y1="187.18" x2="613.2" y2="187.18" stroke="#8a8a8a" stroke-width="0.7"/>
<text x="606.1" y="190.04" font-size="7.95" text-anchor="end" fill="#111" stroke="#111">NCSTN</text>
<rect x="613.2" y="184.23" width="27.7" height="5.9" fill="#2e62ae"/>
<line x1="609.8" y1="195.44" x2="613.2" y2="195.44" stroke="#8a8a8a" stroke-width="0.7"/>
<text x="606.1" y="198.3" font-size="7.95" text-anchor="end" fill="#111" stroke="#111">SEC24A</text>
<rect x="613.55" y="192.69" width="27" height="5.5" fill="url(#hatch)" stroke="#4a75bd" stroke-width="0.7"/>
<line x1="613.2" y1="206.2" x2="613.2" y2="209" stroke="#8a8a8a" stroke-width="0.7"/>
<text x="613.2" y="220.13" font-size="8.7" text-anchor="middle" fill="#111" stroke="#111">0</text>
<line x1="642.8" y1="206.2" x2="642.8" y2="209" stroke="#8a8a8a" stroke-width="0.7"/>
<text x="642.8" y="220.13" font-size="8.7" text-anchor="middle" fill="#111" stroke="#111">0.5</text>
<line x1="672.4" y1="206.2" x2="672.4" y2="209" stroke="#8a8a8a" stroke-width="0.7"/>
<text x="672.4" y="220.13" font-size="8.7" text-anchor="middle" fill="#111" stroke="#111">1.0</text>
<text x="642.95" y="231.93" font-size="8.7" text-anchor="middle" fill="#111" stroke="#111">Spearman corr. coeff.</text>
<rect x="367.2" y="240.9" width="12.6" height="5.5" fill="#2e62ae" stroke="#222" stroke-width="0.8"/>
<rect x="367.2" y="251.3" width="12.6" height="5.4" fill="url(#hatch)" stroke="#222" stroke-width="0.8"/>
<text x="384.5" y="246.73" font-size="8.7" fill="#111" stroke="#111">Predicted to be secreted and detected by the liver proteome</text>
<text x="384.5" y="257.43" font-size="8.7" fill="#111" stroke="#111">Detected by the liver proteome</text>
<text x="337.6" y="280.9" font-size="9.4" font-weight="bold" fill="#000" stroke="#000">e</text>
<text x="405.9" y="281.63" font-size="8.7" text-anchor="middle" fill="#111" stroke="#111">FBLN1</text>
<line x1="369.6" y1="294" x2="372.2" y2="294" stroke="#8a8a8a" stroke-width="0.7"/>
<text x="366.6" y="297.13" font-size="8.7" text-anchor="end" fill="#111" stroke="#111">18</text>
<line x1="369.6" y1="312.2" x2="372.2" y2="312.2" stroke="#8a8a8a" stroke-width="0.7"/>
<text x="366.6" y="315.33" font-size="8.7" text-anchor="end" fill="#111" stroke="#111">17</text>
<line x1="369.6" y1="330.5" x2="372.2" y2="330.5" stroke="#8a8a8a" stroke-width="0.7"/>
<text x="366.6" y="333.63" font-size="8.7" text-anchor="end" fill="#111" stroke="#111">16</text>
<line x1="369.6" y1="348.9" x2="372.2" y2="348.9" stroke="#8a8a8a" stroke-width="0.7"/>
<text x="366.6" y="352.03" font-size="8.7" text-anchor="end" fill="#111" stroke="#111">15</text>
<line x1="379" y1="350.2" x2="379" y2="352.8" stroke="#8a8a8a" stroke-width="0.7"/>
<text x="379" y="363.03" font-size="8.7" text-anchor="middle" fill="#111" stroke="#111">0</text>
<line x1="392.38" y1="350.2" x2="392.38" y2="352.8" stroke="#8a8a8a" stroke-width="0.7"/>
<text x="392.38" y="363.03" font-size="8.7" text-anchor="middle" fill="#111" stroke="#111">1</text>
<line x1="405.76" y1="350.2" x2="405.76" y2="352.8" stroke="#8a8a8a" stroke-width="0.7"/>
<text x="405.76" y="363.03" font-size="8.7" text-anchor="middle" fill="#111" stroke="#111">2</text>
<line x1="419.14" y1="350.2" x2="419.14" y2="352.8" stroke="#8a8a8a" stroke-width="0.7"/>
<text x="419.14" y="363.03" font-size="8.7" text-anchor="middle" fill="#111" stroke="#111">3</text>
<line x1="432.52" y1="350.2" x2="432.52" y2="352.8" stroke="#8a8a8a" stroke-width="0.7"/>
<text x="432.52" y="363.03" font-size="8.7" text-anchor="middle" fill="#111" stroke="#111">4</text>
<text transform="translate(346.6,318.1) rotate(-90)" font-size="8.7" text-anchor="middle" fill="#111" stroke="#111">MS signal [log<tspan font-size="6.2" dy="1.7">2</tspan><tspan dy="-1.7">]</tspan></text>
<rect x="372.2" y="285" width="67.4" height="65.2" fill="#fff" stroke="#959595" stroke-width="0.85"/>
<rect x="374.7" y="323.5" width="8.6" height="3.1" fill="none" stroke="#c4c4c4" stroke-width="0.7"/>
<line x1="379" y1="323.3" x2="379" y2="323.5" stroke="#111" stroke-width="1"/>
<line x1="379" y1="326.6" x2="379" y2="327.5" stroke="#111" stroke-width="1"/>
<line x1="376.85" y1="323.3" x2="381.15" y2="323.3" stroke="#111" stroke-width="1"/>
<line x1="376.85" y1="327.5" x2="381.15" y2="327.5" stroke="#111" stroke-width="1"/>
<line x1="374.7" y1="324.7" x2="383.3" y2="324.7" stroke="#111" stroke-width="1.1"/>
<rect x="388.08" y="321" width="8.6" height="7.6" fill="none" stroke="#c4c4c4" stroke-width="0.7"/>
<line x1="392.38" y1="316.4" x2="392.38" y2="321" stroke="#111" stroke-width="1"/>
<line x1="392.38" y1="328.6" x2="392.38" y2="337.7" stroke="#111" stroke-width="1"/>
<line x1="390.23" y1="316.4" x2="394.53" y2="316.4" stroke="#111" stroke-width="1"/>
<line x1="390.23" y1="337.7" x2="394.53" y2="337.7" stroke="#111" stroke-width="1"/>
<line x1="388.08" y1="325" x2="396.68" y2="325" stroke="#111" stroke-width="1.1"/>
<rect x="401.46" y="308" width="8.6" height="10.8" fill="none" stroke="#c4c4c4" stroke-width="0.7"/>
<line x1="405.76" y1="299.4" x2="405.76" y2="308" stroke="#111" stroke-width="1"/>
<line x1="405.76" y1="318.8" x2="405.76" y2="327.5" stroke="#111" stroke-width="1"/>
<line x1="403.61" y1="299.4" x2="407.91" y2="299.4" stroke="#111" stroke-width="1"/>
<line x1="403.61" y1="327.5" x2="407.91" y2="327.5" stroke="#111" stroke-width="1"/>
<line x1="401.46" y1="315.3" x2="410.06" y2="315.3" stroke="#111" stroke-width="1.1"/>
<rect x="414.84" y="301.1" width="8.6" height="7.2" fill="none" stroke="#c4c4c4" stroke-width="0.7"/>
<line x1="419.14" y1="298" x2="419.14" y2="301.1" stroke="#111" stroke-width="1"/>
<line x1="419.14" y1="308.3" x2="419.14" y2="315.3" stroke="#111" stroke-width="1"/>
<line x1="416.99" y1="298" x2="421.29" y2="298" stroke="#111" stroke-width="1"/>
<line x1="416.99" y1="315.3" x2="421.29" y2="315.3" stroke="#111" stroke-width="1"/>
<line x1="414.84" y1="304.2" x2="423.44" y2="304.2" stroke="#111" stroke-width="1.1"/>
<rect x="428.22" y="296.1" width="8.6" height="9.2" fill="none" stroke="#c4c4c4" stroke-width="0.7"/>
<line x1="432.52" y1="287.8" x2="432.52" y2="296.1" stroke="#111" stroke-width="1"/>
<line x1="432.52" y1="305.3" x2="432.52" y2="309.4" stroke="#111" stroke-width="1"/>
<line x1="430.37" y1="287.8" x2="434.67" y2="287.8" stroke="#111" stroke-width="1"/>
<line x1="430.37" y1="309.4" x2="434.67" y2="309.4" stroke="#111" stroke-width="1"/>
<line x1="428.22" y1="300.3" x2="436.82" y2="300.3" stroke="#111" stroke-width="1.1"/>
<g fill="#22317f"><circle cx="380.17" cy="323.3" r="1.15"/><circle cx="379.05" cy="327.5" r="1.15"/><circle cx="379.02" cy="331.6" r="1.15"/><circle cx="378" cy="325.64" r="1.15"/><circle cx="377.11" cy="325.31" r="1.15"/><circle cx="378.51" cy="325.96" r="1.15"/><circle cx="394.26" cy="316.4" r="1.15"/><circle cx="391.95" cy="337.7" r="1.15"/><circle cx="390.58" cy="308.6" r="1.15"/><circle cx="390.83" cy="317.88" r="1.15"/><circle cx="393.21" cy="321.35" r="1.15"/><circle cx="394.25" cy="321.32" r="1.15"/><circle cx="392.36" cy="332.13" r="1.15"/><circle cx="392.35" cy="329.52" r="1.15"/><circle cx="392.57" cy="323.5" r="1.15"/><circle cx="393.32" cy="321.88" r="1.15"/><circle cx="391.32" cy="324.25" r="1.15"/><circle cx="392.79" cy="327.21" r="1.15"/><circle cx="392.59" cy="328.05" r="1.15"/><circle cx="392.85" cy="325.2" r="1.15"/><circle cx="391.17" cy="324.68" r="1.15"/><circle cx="391.13" cy="321.28" r="1.15"/><circle cx="391.8" cy="321.4" r="1.15"/><circle cx="394" cy="320.84" r="1.15"/><circle cx="391.8" cy="335.44" r="1.15"/><circle cx="392.75" cy="332.65" r="1.15"/><circle cx="391.65" cy="331.94" r="1.15"/><circle cx="390.87" cy="324.62" r="1.15"/><circle cx="390.73" cy="320.68" r="1.15"/><circle cx="393.57" cy="335.31" r="1.15"/><circle cx="393.43" cy="323.78" r="1.15"/><circle cx="391.9" cy="323.93" r="1.15"/><circle cx="407.05" cy="299.4" r="1.15"/><circle cx="406.88" cy="327.5" r="1.15"/><circle cx="407.21" cy="347.1" r="1.15"/><circle cx="406.15" cy="318.39" r="1.15"/><circle cx="405.48" cy="326.33" r="1.15"/><circle cx="406.07" cy="318.68" r="1.15"/><circle cx="407.09" cy="315.99" r="1.15"/><circle cx="405.03" cy="313.19" r="1.15"/><circle cx="405.89" cy="310.67" r="1.15"/><circle cx="404.91" cy="303.96" r="1.15"/><circle cx="406.78" cy="316.7" r="1.15"/><circle cx="403.9" cy="312.98" r="1.15"/><circle cx="406.46" cy="300.87" r="1.15"/><circle cx="407.49" cy="311.13" r="1.15"/><circle cx="403.95" cy="309.84" r="1.15"/><circle cx="406.12" cy="311.65" r="1.15"/><circle cx="406.31" cy="327.03" r="1.15"/><circle cx="407.1" cy="312.86" r="1.15"/><circle cx="406.08" cy="318.36" r="1.15"/><circle cx="404.84" cy="315.87" r="1.15"/><circle cx="405.4" cy="310.29" r="1.15"/><circle cx="418.07" cy="298" r="1.15"/><circle cx="417.87" cy="315.3" r="1.15"/><circle cx="417.94" cy="313.67" r="1.15"/><circle cx="418.68" cy="301.78" r="1.15"/><circle cx="419.94" cy="301.28" r="1.15"/><circle cx="419.33" cy="302.11" r="1.15"/><circle cx="417.42" cy="309.34" r="1.15"/><circle cx="419.94" cy="304.98" r="1.15"/><circle cx="420.56" cy="304.66" r="1.15"/><circle cx="434.04" cy="287.8" r="1.15"/><circle cx="431.74" cy="309.4" r="1.15"/><circle cx="432.53" cy="304.88" r="1.15"/><circle cx="432.71" cy="300.37" r="1.15"/><circle cx="434.22" cy="303.13" r="1.15"/><circle cx="430.99" cy="302.65" r="1.15"/><circle cx="432.9" cy="302.51" r="1.15"/><circle cx="432.55" cy="296.49" r="1.15"/><circle cx="433.41" cy="298.95" r="1.15"/></g>
<text x="377.4" y="295.4" font-size="8.7" fill="#111" stroke="#111"><tspan font-style="italic">R</tspan> = 0.76</text>
<text x="520.15" y="281.63" font-size="8.7" text-anchor="middle" fill="#111" stroke="#111">GSTP1</text>
<line x1="483.8" y1="298.4" x2="486.4" y2="298.4" stroke="#8a8a8a" stroke-width="0.7"/>
<text x="480.8" y="301.53" font-size="8.7" text-anchor="end" fill="#111" stroke="#111">19</text>
<line x1="483.8" y1="312.4" x2="486.4" y2="312.4" stroke="#8a8a8a" stroke-width="0.7"/>
<text x="480.8" y="315.53" font-size="8.7" text-anchor="end" fill="#111" stroke="#111">18</text>
<line x1="483.8" y1="326.4" x2="486.4" y2="326.4" stroke="#8a8a8a" stroke-width="0.7"/>
<text x="480.8" y="329.53" font-size="8.7" text-anchor="end" fill="#111" stroke="#111">18</text>
<line x1="483.8" y1="340.2" x2="486.4" y2="340.2" stroke="#8a8a8a" stroke-width="0.7"/>
<text x="480.8" y="343.33" font-size="8.7" text-anchor="end" fill="#111" stroke="#111">18</text>
<line x1="492.3" y1="350.3" x2="492.3" y2="352.9" stroke="#8a8a8a" stroke-width="0.7"/>
<text x="492.3" y="363.13" font-size="8.7" text-anchor="middle" fill="#111" stroke="#111">0</text>
<line x1="503.57" y1="350.3" x2="503.57" y2="352.9" stroke="#8a8a8a" stroke-width="0.7"/>
<text x="503.57" y="363.13" font-size="8.7" text-anchor="middle" fill="#111" stroke="#111">1</text>
<line x1="514.84" y1="350.3" x2="514.84" y2="352.9" stroke="#8a8a8a" stroke-width="0.7"/>
<text x="514.84" y="363.13" font-size="8.7" text-anchor="middle" fill="#111" stroke="#111">2</text>
<line x1="526.11" y1="350.3" x2="526.11" y2="352.9" stroke="#8a8a8a" stroke-width="0.7"/>
<text x="526.11" y="363.13" font-size="8.7" text-anchor="middle" fill="#111" stroke="#111">3</text>
<line x1="537.38" y1="350.3" x2="537.38" y2="352.9" stroke="#8a8a8a" stroke-width="0.7"/>
<text x="537.38" y="363.13" font-size="8.7" text-anchor="middle" fill="#111" stroke="#111">4</text>
<line x1="548.65" y1="350.3" x2="548.65" y2="352.9" stroke="#8a8a8a" stroke-width="0.7"/>
<text x="548.65" y="363.13" font-size="8.7" text-anchor="middle" fill="#111" stroke="#111">5</text>
<text transform="translate(460.8,318.15) rotate(-90)" font-size="8.7" text-anchor="middle" fill="#111" stroke="#111">MS signal [log<tspan font-size="6.2" dy="1.7">2</tspan><tspan dy="-1.7">]</tspan></text>
<rect x="486.4" y="285" width="67.5" height="65.3" fill="#fff" stroke="#959595" stroke-width="0.85"/>
<rect x="488.7" y="335.1" width="7.2" height="6.5" fill="none" stroke="#c4c4c4" stroke-width="0.7"/>
<line x1="492.3" y1="326.8" x2="492.3" y2="335.1" stroke="#111" stroke-width="1"/>
<line x1="492.3" y1="341.6" x2="492.3" y2="346.6" stroke="#111" stroke-width="1"/>
<line x1="490.5" y1="326.8" x2="494.1" y2="326.8" stroke="#111" stroke-width="1"/>
<line x1="490.5" y1="346.6" x2="494.1" y2="346.6" stroke="#111" stroke-width="1"/>
<line x1="488.7" y1="338.2" x2="495.9" y2="338.2" stroke="#111" stroke-width="1.1"/>
<rect x="499.97" y="323.3" width="7.2" height="14.9" fill="none" stroke="#c4c4c4" stroke-width="0.7"/>
<line x1="503.57" y1="302.2" x2="503.57" y2="323.3" stroke="#111" stroke-width="1"/>
<line x1="503.57" y1="338.2" x2="503.57" y2="343.5" stroke="#111" stroke-width="1"/>
<line x1="501.77" y1="302.2" x2="505.37" y2="302.2" stroke="#111" stroke-width="1"/>
<line x1="501.77" y1="343.5" x2="505.37" y2="343.5" stroke="#111" stroke-width="1"/>
<line x1="499.97" y1="333.3" x2="507.17" y2="333.3" stroke="#111" stroke-width="1.1"/>
<rect x="511.24" y="322.2" width="7.2" height="9.1" fill="none" stroke="#c4c4c4" stroke-width="0.7"/>
<line x1="514.84" y1="312.2" x2="514.84" y2="322.2" stroke="#111" stroke-width="1"/>
<line x1="514.84" y1="331.3" x2="514.84" y2="335.5" stroke="#111" stroke-width="1"/>
<line x1="513.04" y1="312.2" x2="516.64" y2="312.2" stroke="#111" stroke-width="1"/>
<line x1="513.04" y1="335.5" x2="516.64" y2="335.5" stroke="#111" stroke-width="1"/>
<line x1="511.24" y1="326.4" x2="518.44" y2="326.4" stroke="#111" stroke-width="1.1"/>
<rect x="522.51" y="311.3" width="7.2" height="14.7" fill="none" stroke="#c4c4c4" stroke-width="0.7"/>
<line x1="526.11" y1="292" x2="526.11" y2="311.3" stroke="#111" stroke-width="1"/>
<line x1="526.11" y1="326" x2="526.11" y2="342.7" stroke="#111" stroke-width="1"/>
<line x1="524.31" y1="292" x2="527.91" y2="292" stroke="#111" stroke-width="1"/>
<line x1="524.31" y1="342.7" x2="527.91" y2="342.7" stroke="#111" stroke-width="1"/>
<line x1="522.51" y1="318.3" x2="529.71" y2="318.3" stroke="#111" stroke-width="1.1"/>
<rect x="533.78" y="301.6" width="7.2" height="21.1" fill="none" stroke="#c4c4c4" stroke-width="0.7"/>
<line x1="537.38" y1="297.8" x2="537.38" y2="301.6" stroke="#111" stroke-width="1"/>
<line x1="537.38" y1="322.7" x2="537.38" y2="333" stroke="#111" stroke-width="1"/>
<line x1="535.58" y1="297.8" x2="539.18" y2="297.8" stroke="#111" stroke-width="1"/>
<line x1="535.58" y1="333" x2="539.18" y2="333" stroke="#111" stroke-width="1"/>
<line x1="533.78" y1="310.5" x2="540.98" y2="310.5" stroke="#111" stroke-width="1.1"/>
<rect x="545.05" y="306.3" width="7.2" height="12" fill="none" stroke="#c4c4c4" stroke-width="0.7"/>
<line x1="548.65" y1="291.6" x2="548.65" y2="306.3" stroke="#111" stroke-width="1"/>
<line x1="548.65" y1="318.3" x2="548.65" y2="320.5" stroke="#111" stroke-width="1"/>
<line x1="546.85" y1="291.6" x2="550.45" y2="291.6" stroke="#111" stroke-width="1"/>
<line x1="546.85" y1="320.5" x2="550.45" y2="320.5" stroke="#111" stroke-width="1"/>
<line x1="545.05" y1="316.4" x2="552.25" y2="316.4" stroke="#111" stroke-width="1.1"/>
<g fill="#22317f"><circle cx="492.12" cy="326.8" r="1.15"/><circle cx="492.72" cy="346.6" r="1.15"/><circle cx="490.64" cy="332.94" r="1.15"/><circle cx="492.8" cy="337.21" r="1.15"/><circle cx="492.1" cy="328.06" r="1.15"/><circle cx="492.36" cy="346.14" r="1.15"/><circle cx="491.92" cy="337.17" r="1.15"/><circle cx="491.96" cy="328.93" r="1.15"/><circle cx="491.35" cy="335.58" r="1.15"/><circle cx="490.74" cy="341.85" r="1.15"/><circle cx="502.12" cy="302.2" r="1.15"/><circle cx="502.89" cy="343.5" r="1.15"/><circle cx="505.1" cy="287.8" r="1.15"/><circle cx="504.41" cy="291.6" r="1.15"/><circle cx="503.44" cy="326.98" r="1.15"/><circle cx="502.22" cy="335.95" r="1.15"/><circle cx="505.15" cy="321.03" r="1.15"/><circle cx="504.27" cy="329.04" r="1.15"/><circle cx="502.55" cy="332.71" r="1.15"/><circle cx="503" cy="305.73" r="1.15"/><circle cx="504.06" cy="330.63" r="1.15"/><circle cx="504.2" cy="338.98" r="1.15"/><circle cx="502.74" cy="328.09" r="1.15"/><circle cx="505.13" cy="329.79" r="1.15"/><circle cx="502.96" cy="331.07" r="1.15"/><circle cx="502.72" cy="312.33" r="1.15"/><circle cx="504.76" cy="318.14" r="1.15"/><circle cx="502.37" cy="336.27" r="1.15"/><circle cx="504.2" cy="343.05" r="1.15"/><circle cx="502.53" cy="327.96" r="1.15"/><circle cx="503.91" cy="329.13" r="1.15"/><circle cx="502.8" cy="331.54" r="1.15"/><circle cx="513.58" cy="312.2" r="1.15"/><circle cx="515.85" cy="335.5" r="1.15"/><circle cx="515.95" cy="300.5" r="1.15"/><circle cx="514.94" cy="330.76" r="1.15"/><circle cx="513.28" cy="326.18" r="1.15"/><circle cx="513.76" cy="318.74" r="1.15"/><circle cx="514.5" cy="325.7" r="1.15"/><circle cx="515.02" cy="323.91" r="1.15"/><circle cx="513.89" cy="313" r="1.15"/><circle cx="515.89" cy="333.98" r="1.15"/><circle cx="516.03" cy="312.64" r="1.15"/><circle cx="516.31" cy="322.56" r="1.15"/><circle cx="516.17" cy="328.52" r="1.15"/><circle cx="513.17" cy="322.27" r="1.15"/><circle cx="515.12" cy="323.06" r="1.15"/><circle cx="513.39" cy="326.33" r="1.15"/><circle cx="516.22" cy="320.82" r="1.15"/><circle cx="526.73" cy="292" r="1.15"/><circle cx="526.64" cy="342.7" r="1.15"/><circle cx="524.93" cy="330.5" r="1.15"/><circle cx="524.74" cy="312.18" r="1.15"/><circle cx="527.6" cy="322.75" r="1.15"/><circle cx="526.24" cy="315.89" r="1.15"/><circle cx="525.79" cy="309.14" r="1.15"/><circle cx="526.77" cy="316.49" r="1.15"/><circle cx="526.9" cy="320.52" r="1.15"/><circle cx="526.19" cy="295.6" r="1.15"/><circle cx="524.65" cy="318.82" r="1.15"/><circle cx="527.24" cy="301.62" r="1.15"/><circle cx="525.12" cy="312.16" r="1.15"/><circle cx="524.52" cy="318.58" r="1.15"/><circle cx="536.21" cy="297.8" r="1.15"/><circle cx="538.59" cy="333" r="1.15"/><circle cx="538.44" cy="312.84" r="1.15"/><circle cx="538.78" cy="303.93" r="1.15"/><circle cx="538" cy="315.18" r="1.15"/><circle cx="548.27" cy="291.6" r="1.15"/><circle cx="550.18" cy="320.5" r="1.15"/><circle cx="550.16" cy="315.63" r="1.15"/><circle cx="549.67" cy="307.01" r="1.15"/><circle cx="546.96" cy="319.64" r="1.15"/></g>
<text x="518.6" y="341.7" font-size="8.7" fill="#111" stroke="#111"><tspan font-style="italic">R</tspan> = 0.66</text>
<text x="634.45" y="281.63" font-size="8.7" text-anchor="middle" fill="#111" stroke="#111">PLIN2</text>
<line x1="598.3" y1="291.3" x2="600.9" y2="291.3" stroke="#8a8a8a" stroke-width="0.7"/>
<text x="595.3" y="294.43" font-size="8.7" text-anchor="end" fill="#111" stroke="#111">20</text>
<line x1="598.3" y1="306.9" x2="600.9" y2="306.9" stroke="#8a8a8a" stroke-width="0.7"/>
<text x="595.3" y="310.03" font-size="8.7" text-anchor="end" fill="#111" stroke="#111">18</text>
<line x1="598.3" y1="322.4" x2="600.9" y2="322.4" stroke="#8a8a8a" stroke-width="0.7"/>
<text x="595.3" y="325.53" font-size="8.7" text-anchor="end" fill="#111" stroke="#111">15</text>
<line x1="598.3" y1="337.7" x2="600.9" y2="337.7" stroke="#8a8a8a" stroke-width="0.7"/>
<text x="595.3" y="340.83" font-size="8.7" text-anchor="end" fill="#111" stroke="#111">12</text>
<line x1="609.3" y1="350.3" x2="609.3" y2="352.9" stroke="#8a8a8a" stroke-width="0.7"/>
<text x="609.3" y="363.13" font-size="8.7" text-anchor="middle" fill="#111" stroke="#111">0</text>
<line x1="626.05" y1="350.3" x2="626.05" y2="352.9" stroke="#8a8a8a" stroke-width="0.7"/>
<text x="626.05" y="363.13" font-size="8.7" text-anchor="middle" fill="#111" stroke="#111">1</text>
<line x1="642.8" y1="350.3" x2="642.8" y2="352.9" stroke="#8a8a8a" stroke-width="0.7"/>
<text x="642.8" y="363.13" font-size="8.7" text-anchor="middle" fill="#111" stroke="#111">2</text>
<line x1="659.55" y1="350.3" x2="659.55" y2="352.9" stroke="#8a8a8a" stroke-width="0.7"/>
<text x="659.55" y="363.13" font-size="8.7" text-anchor="middle" fill="#111" stroke="#111">3</text>
<text transform="translate(575.3,318.15) rotate(-90)" font-size="8.7" text-anchor="middle" fill="#111" stroke="#111">MS signal [log<tspan font-size="6.2" dy="1.7">2</tspan><tspan dy="-1.7">]</tspan></text>
<rect x="600.9" y="285" width="67.1" height="65.3" fill="#fff" stroke="#959595" stroke-width="0.85"/>
<rect x="604.3" y="315.7" width="10" height="10.7" fill="none" stroke="#c4c4c4" stroke-width="0.7"/>
<line x1="609.3" y1="308.3" x2="609.3" y2="315.7" stroke="#111" stroke-width="1"/>
<line x1="609.3" y1="326.4" x2="609.3" y2="340.5" stroke="#111" stroke-width="1"/>
<line x1="606.8" y1="308.3" x2="611.8" y2="308.3" stroke="#111" stroke-width="1"/>
<line x1="606.8" y1="340.5" x2="611.8" y2="340.5" stroke="#111" stroke-width="1"/>
<line x1="604.3" y1="324.6" x2="614.3" y2="324.6" stroke="#111" stroke-width="1.1"/>
<rect x="621.05" y="304.2" width="10" height="6" fill="none" stroke="#c4c4c4" stroke-width="0.7"/>
<line x1="626.05" y1="302.2" x2="626.05" y2="304.2" stroke="#111" stroke-width="1"/>
<line x1="626.05" y1="310.2" x2="626.05" y2="319" stroke="#111" stroke-width="1"/>
<line x1="623.55" y1="302.2" x2="628.55" y2="302.2" stroke="#111" stroke-width="1"/>
<line x1="623.55" y1="319" x2="628.55" y2="319" stroke="#111" stroke-width="1"/>
<line x1="621.05" y1="306.6" x2="631.05" y2="306.6" stroke="#111" stroke-width="1.1"/>
<rect x="637.8" y="299.4" width="10" height="8.1" fill="none" stroke="#c4c4c4" stroke-width="0.7"/>
<line x1="642.8" y1="288" x2="642.8" y2="299.4" stroke="#111" stroke-width="1"/>
<line x1="642.8" y1="307.5" x2="642.8" y2="310.8" stroke="#111" stroke-width="1"/>
<line x1="640.3" y1="288" x2="645.3" y2="288" stroke="#111" stroke-width="1"/>
<line x1="640.3" y1="310.8" x2="645.3" y2="310.8" stroke="#111" stroke-width="1"/>
<line x1="637.8" y1="304.2" x2="647.8" y2="304.2" stroke="#111" stroke-width="1.1"/>
<rect x="654.55" y="291.3" width="10" height="7" fill="none" stroke="#c4c4c4" stroke-width="0.7"/>
<line x1="659.55" y1="290.9" x2="659.55" y2="291.3" stroke="#111" stroke-width="1"/>
<line x1="659.55" y1="298.3" x2="659.55" y2="307.2" stroke="#111" stroke-width="1"/>
<line x1="657.05" y1="290.9" x2="662.05" y2="290.9" stroke="#111" stroke-width="1"/>
<line x1="657.05" y1="307.2" x2="662.05" y2="307.2" stroke="#111" stroke-width="1"/>
<line x1="654.55" y1="295" x2="664.55" y2="295" stroke="#111" stroke-width="1.1"/>
<g fill="#22317f"><circle cx="609.23" cy="308.3" r="1.15"/><circle cx="607.61" cy="340.5" r="1.15"/><circle cx="608.81" cy="294.4" r="1.15"/><circle cx="610.54" cy="347.1" r="1.15"/><circle cx="609.3" cy="322.27" r="1.15"/><circle cx="609.15" cy="332.63" r="1.15"/><circle cx="608.88" cy="313.5" r="1.15"/><circle cx="609.79" cy="325.57" r="1.15"/><circle cx="609.67" cy="314.96" r="1.15"/><circle cx="610.03" cy="326.17" r="1.15"/><circle cx="610.69" cy="332.13" r="1.15"/><circle cx="610.25" cy="319.97" r="1.15"/><circle cx="608.82" cy="320.04" r="1.15"/><circle cx="608.35" cy="321.48" r="1.15"/><circle cx="610.37" cy="319.96" r="1.15"/><circle cx="610.41" cy="315.99" r="1.15"/><circle cx="610.93" cy="321.91" r="1.15"/><circle cx="608.16" cy="322.82" r="1.15"/><circle cx="610.62" cy="316.85" r="1.15"/><circle cx="610.78" cy="325.14" r="1.15"/><circle cx="607.69" cy="324.85" r="1.15"/><circle cx="608.57" cy="318.27" r="1.15"/><circle cx="609.81" cy="322.56" r="1.15"/><circle cx="607.96" cy="332.49" r="1.15"/><circle cx="610.56" cy="316.45" r="1.15"/><circle cx="608.41" cy="319.75" r="1.15"/><circle cx="609.99" cy="318.54" r="1.15"/><circle cx="608.52" cy="320.61" r="1.15"/><circle cx="608.23" cy="324.5" r="1.15"/><circle cx="608.19" cy="334.15" r="1.15"/><circle cx="609.29" cy="331.83" r="1.15"/><circle cx="610.11" cy="320.44" r="1.15"/><circle cx="608.23" cy="315.74" r="1.15"/><circle cx="610.01" cy="327.02" r="1.15"/><circle cx="608.67" cy="340.42" r="1.15"/><circle cx="609.87" cy="318.13" r="1.15"/><circle cx="608.8" cy="334.46" r="1.15"/><circle cx="625.47" cy="302.2" r="1.15"/><circle cx="627.02" cy="319" r="1.15"/><circle cx="626.57" cy="323.3" r="1.15"/><circle cx="625.89" cy="305.05" r="1.15"/><circle cx="626.1" cy="308.38" r="1.15"/><circle cx="625" cy="304.94" r="1.15"/><circle cx="627.15" cy="313.2" r="1.15"/><circle cx="624.23" cy="308.55" r="1.15"/><circle cx="626.59" cy="309.66" r="1.15"/><circle cx="625.88" cy="309.97" r="1.15"/><circle cx="624.99" cy="308.02" r="1.15"/><circle cx="626.38" cy="308.34" r="1.15"/><circle cx="642.05" cy="288" r="1.15"/><circle cx="642.11" cy="310.8" r="1.15"/><circle cx="644.37" cy="289.98" r="1.15"/><circle cx="642.26" cy="300.74" r="1.15"/><circle cx="643.88" cy="295.45" r="1.15"/><circle cx="641.03" cy="301.14" r="1.15"/><circle cx="642.79" cy="300.91" r="1.15"/><circle cx="644.29" cy="304.46" r="1.15"/><circle cx="643.83" cy="293.04" r="1.15"/><circle cx="643.1" cy="303.73" r="1.15"/><circle cx="641.59" cy="302.68" r="1.15"/><circle cx="644.42" cy="292.63" r="1.15"/><circle cx="641.2" cy="300.28" r="1.15"/><circle cx="644.57" cy="301.36" r="1.15"/><circle cx="643.85" cy="290.19" r="1.15"/><circle cx="643.63" cy="304.07" r="1.15"/><circle cx="642.92" cy="299.87" r="1.15"/><circle cx="641.52" cy="288.21" r="1.15"/><circle cx="658.53" cy="290.9" r="1.15"/><circle cx="659.07" cy="307.2" r="1.15"/><circle cx="660.94" cy="295.95" r="1.15"/><circle cx="659.27" cy="297.25" r="1.15"/><circle cx="660.28" cy="291.77" r="1.15"/><circle cx="660.04" cy="291.93" r="1.15"/><circle cx="659.45" cy="296.85" r="1.15"/><circle cx="659.76" cy="293.33" r="1.15"/><circle cx="659.03" cy="292.08" r="1.15"/><circle cx="658.4" cy="298.11" r="1.15"/></g>
<text x="633" y="346" font-size="8.7" fill="#111" stroke="#111"><tspan font-style="italic">R</tspan> = 0.69</text>
<text x="405.9" y="382.63" font-size="8.7" text-anchor="middle" fill="#111" stroke="#111">TGFBI</text>
<line x1="369.6" y1="398.2" x2="372.2" y2="398.2" stroke="#8a8a8a" stroke-width="0.7"/>
<text x="366.6" y="401.33" font-size="8.7" text-anchor="end" fill="#111" stroke="#111">21</text>
<line x1="369.6" y1="417.3" x2="372.2" y2="417.3" stroke="#8a8a8a" stroke-width="0.7"/>
<text x="366.6" y="420.43" font-size="8.7" text-anchor="end" fill="#111" stroke="#111">20</text>
<line x1="369.6" y1="436.5" x2="372.2" y2="436.5" stroke="#8a8a8a" stroke-width="0.7"/>
<text x="366.6" y="439.63" font-size="8.7" text-anchor="end" fill="#111" stroke="#111">19</text>
<line x1="379" y1="451.5" x2="379" y2="454.1" stroke="#8a8a8a" stroke-width="0.7"/>
<text x="379" y="464.33" font-size="8.7" text-anchor="middle" fill="#111" stroke="#111">0</text>
<line x1="392.38" y1="451.5" x2="392.38" y2="454.1" stroke="#8a8a8a" stroke-width="0.7"/>
<text x="392.38" y="464.33" font-size="8.7" text-anchor="middle" fill="#111" stroke="#111">1</text>
<line x1="405.76" y1="451.5" x2="405.76" y2="454.1" stroke="#8a8a8a" stroke-width="0.7"/>
<text x="405.76" y="464.33" font-size="8.7" text-anchor="middle" fill="#111" stroke="#111">2</text>
<line x1="419.14" y1="451.5" x2="419.14" y2="454.1" stroke="#8a8a8a" stroke-width="0.7"/>
<text x="419.14" y="464.33" font-size="8.7" text-anchor="middle" fill="#111" stroke="#111">3</text>
<line x1="432.52" y1="451.5" x2="432.52" y2="454.1" stroke="#8a8a8a" stroke-width="0.7"/>
<text x="432.52" y="464.33" font-size="8.7" text-anchor="middle" fill="#111" stroke="#111">4</text>
<text transform="translate(346.6,419.25) rotate(-90)" font-size="8.7" text-anchor="middle" fill="#111" stroke="#111">MS signal [log<tspan font-size="6.2" dy="1.7">2</tspan><tspan dy="-1.7">]</tspan></text>
<rect x="372.2" y="386" width="67.4" height="65.5" fill="#fff" stroke="#959595" stroke-width="0.85"/>
<rect x="374.7" y="426.3" width="8.6" height="9.1" fill="none" stroke="#c4c4c4" stroke-width="0.7"/>
<line x1="379" y1="422.9" x2="379" y2="426.3" stroke="#111" stroke-width="1"/>
<line x1="379" y1="435.4" x2="379" y2="445.6" stroke="#111" stroke-width="1"/>
<line x1="376.85" y1="422.9" x2="381.15" y2="422.9" stroke="#111" stroke-width="1"/>
<line x1="376.85" y1="445.6" x2="381.15" y2="445.6" stroke="#111" stroke-width="1"/>
<line x1="374.7" y1="435.4" x2="383.3" y2="435.4" stroke="#111" stroke-width="1.1"/>
<rect x="388.08" y="425.4" width="8.6" height="10.5" fill="none" stroke="#c4c4c4" stroke-width="0.7"/>
<line x1="392.38" y1="414.8" x2="392.38" y2="425.4" stroke="#111" stroke-width="1"/>
<line x1="392.38" y1="435.9" x2="392.38" y2="448.1" stroke="#111" stroke-width="1"/>
<line x1="390.23" y1="414.8" x2="394.53" y2="414.8" stroke="#111" stroke-width="1"/>
<line x1="390.23" y1="448.1" x2="394.53" y2="448.1" stroke="#111" stroke-width="1"/>
<line x1="388.08" y1="430.4" x2="396.68" y2="430.4" stroke="#111" stroke-width="1.1"/>
<rect x="401.46" y="412.3" width="8.6" height="12" fill="none" stroke="#c4c4c4" stroke-width="0.7"/>
<line x1="405.76" y1="397.6" x2="405.76" y2="412.3" stroke="#111" stroke-width="1"/>
<line x1="405.76" y1="424.3" x2="405.76" y2="438.1" stroke="#111" stroke-width="1"/>
<line x1="403.61" y1="397.6" x2="407.91" y2="397.6" stroke="#111" stroke-width="1"/>
<line x1="403.61" y1="438.1" x2="407.91" y2="438.1" stroke="#111" stroke-width="1"/>
<line x1="401.46" y1="416.3" x2="410.06" y2="416.3" stroke="#111" stroke-width="1.1"/>
<rect x="414.84" y="392.6" width="8.6" height="15.6" fill="none" stroke="#c4c4c4" stroke-width="0.7"/>
<line x1="419.14" y1="388.5" x2="419.14" y2="392.6" stroke="#111" stroke-width="1"/>
<line x1="419.14" y1="408.2" x2="419.14" y2="424.5" stroke="#111" stroke-width="1"/>
<line x1="416.99" y1="388.5" x2="421.29" y2="388.5" stroke="#111" stroke-width="1"/>
<line x1="416.99" y1="424.5" x2="421.29" y2="424.5" stroke="#111" stroke-width="1"/>
<line x1="414.84" y1="399.3" x2="423.44" y2="399.3" stroke="#111" stroke-width="1.1"/>
<rect x="428.22" y="400.1" width="8.6" height="6.2" fill="none" stroke="#c4c4c4" stroke-width="0.7"/>
<line x1="432.52" y1="392.1" x2="432.52" y2="400.1" stroke="#111" stroke-width="1"/>
<line x1="432.52" y1="406.3" x2="432.52" y2="409.6" stroke="#111" stroke-width="1"/>
<line x1="430.37" y1="392.1" x2="434.67" y2="392.1" stroke="#111" stroke-width="1"/>
<line x1="430.37" y1="409.6" x2="434.67" y2="409.6" stroke="#111" stroke-width="1"/>
<line x1="428.22" y1="404.3" x2="436.82" y2="404.3" stroke="#111" stroke-width="1.1"/>
<g fill="#22317f"><circle cx="377.86" cy="422.9" r="1.15"/><circle cx="377.22" cy="445.6" r="1.15"/><circle cx="377.91" cy="429.07" r="1.15"/><circle cx="380.4" cy="428" r="1.15"/><circle cx="378.38" cy="432.56" r="1.15"/><circle cx="391.6" cy="414.8" r="1.15"/><circle cx="390.97" cy="448.1" r="1.15"/><circle cx="391.95" cy="422.48" r="1.15"/><circle cx="391" cy="429.79" r="1.15"/><circle cx="390.5" cy="432.4" r="1.15"/><circle cx="390.83" cy="428.34" r="1.15"/><circle cx="392.21" cy="442.5" r="1.15"/><circle cx="393.38" cy="430.79" r="1.15"/><circle cx="390.66" cy="434.76" r="1.15"/><circle cx="392.9" cy="419.66" r="1.15"/><circle cx="390.9" cy="440.51" r="1.15"/><circle cx="392.42" cy="446.91" r="1.15"/><circle cx="391.6" cy="422.99" r="1.15"/><circle cx="392.17" cy="425.71" r="1.15"/><circle cx="393.19" cy="435.65" r="1.15"/><circle cx="392.05" cy="429.55" r="1.15"/><circle cx="391.97" cy="423.89" r="1.15"/><circle cx="393.25" cy="433.74" r="1.15"/><circle cx="390.92" cy="439.57" r="1.15"/><circle cx="391.81" cy="443.84" r="1.15"/><circle cx="393.15" cy="442.22" r="1.15"/><circle cx="393.65" cy="431.43" r="1.15"/><circle cx="394.2" cy="431.91" r="1.15"/><circle cx="391.46" cy="436.61" r="1.15"/><circle cx="392.86" cy="432.37" r="1.15"/><circle cx="404.79" cy="397.6" r="1.15"/><circle cx="405.08" cy="438.1" r="1.15"/><circle cx="405.02" cy="420.72" r="1.15"/><circle cx="405.51" cy="403.07" r="1.15"/><circle cx="407.18" cy="423.53" r="1.15"/><circle cx="407.64" cy="419.89" r="1.15"/><circle cx="404.18" cy="408.89" r="1.15"/><circle cx="407.53" cy="397.75" r="1.15"/><circle cx="407.35" cy="414.3" r="1.15"/><circle cx="405.61" cy="414.86" r="1.15"/><circle cx="406.49" cy="421.94" r="1.15"/><circle cx="406.84" cy="419.18" r="1.15"/><circle cx="404.57" cy="432" r="1.15"/><circle cx="406.2" cy="422.78" r="1.15"/><circle cx="407.59" cy="421.43" r="1.15"/><circle cx="407.21" cy="423.44" r="1.15"/><circle cx="407.32" cy="415.33" r="1.15"/><circle cx="404.18" cy="417.05" r="1.15"/><circle cx="406.58" cy="432.22" r="1.15"/><circle cx="405.71" cy="427.14" r="1.15"/><circle cx="420.85" cy="388.5" r="1.15"/><circle cx="420.91" cy="424.5" r="1.15"/><circle cx="418.91" cy="394.51" r="1.15"/><circle cx="419.42" cy="394.48" r="1.15"/><circle cx="418.62" cy="414.51" r="1.15"/><circle cx="419.54" cy="397.43" r="1.15"/><circle cx="418.75" cy="402.51" r="1.15"/><circle cx="418.91" cy="390.76" r="1.15"/><circle cx="432.65" cy="392.1" r="1.15"/><circle cx="430.81" cy="409.6" r="1.15"/><circle cx="430.92" cy="395.36" r="1.15"/><circle cx="431.39" cy="404.83" r="1.15"/><circle cx="431.53" cy="400.53" r="1.15"/><circle cx="431.92" cy="394.89" r="1.15"/><circle cx="431.73" cy="402.04" r="1.15"/><circle cx="433.8" cy="402.29" r="1.15"/><circle cx="433.12" cy="400.82" r="1.15"/></g>
<text x="377.4" y="395" font-size="8.7" fill="#111" stroke="#111"><tspan font-style="italic">R</tspan> = 0.75</text>
<text x="520.15" y="382.63" font-size="8.7" text-anchor="middle" fill="#111" stroke="#111">GPX3</text>
<line x1="483.8" y1="392.6" x2="486.4" y2="392.6" stroke="#8a8a8a" stroke-width="0.7"/>
<text x="480.8" y="395.73" font-size="8.7" text-anchor="end" fill="#111" stroke="#111">18</text>
<line x1="483.8" y1="409.3" x2="486.4" y2="409.3" stroke="#8a8a8a" stroke-width="0.7"/>
<text x="480.8" y="412.43" font-size="8.7" text-anchor="end" fill="#111" stroke="#111">17</text>
<line x1="483.8" y1="426" x2="486.4" y2="426" stroke="#8a8a8a" stroke-width="0.7"/>
<text x="480.8" y="429.13" font-size="8.7" text-anchor="end" fill="#111" stroke="#111">16</text>
<line x1="483.8" y1="442.2" x2="486.4" y2="442.2" stroke="#8a8a8a" stroke-width="0.7"/>
<text x="480.8" y="445.33" font-size="8.7" text-anchor="end" fill="#111" stroke="#111">15</text>
<line x1="492.3" y1="451.5" x2="492.3" y2="454.1" stroke="#8a8a8a" stroke-width="0.7"/>
<text x="492.3" y="464.33" font-size="8.7" text-anchor="middle" fill="#111" stroke="#111">0</text>
<line x1="503.57" y1="451.5" x2="503.57" y2="454.1" stroke="#8a8a8a" stroke-width="0.7"/>
<text x="503.57" y="464.33" font-size="8.7" text-anchor="middle" fill="#111" stroke="#111">1</text>
<line x1="514.84" y1="451.5" x2="514.84" y2="454.1" stroke="#8a8a8a" stroke-width="0.7"/>
<text x="514.84" y="464.33" font-size="8.7" text-anchor="middle" fill="#111" stroke="#111">2</text>
<line x1="526.11" y1="451.5" x2="526.11" y2="454.1" stroke="#8a8a8a" stroke-width="0.7"/>
<text x="526.11" y="464.33" font-size="8.7" text-anchor="middle" fill="#111" stroke="#111">3</text>
<line x1="537.38" y1="451.5" x2="537.38" y2="454.1" stroke="#8a8a8a" stroke-width="0.7"/>
<text x="537.38" y="464.33" font-size="8.7" text-anchor="middle" fill="#111" stroke="#111">4</text>
<line x1="548.65" y1="451.5" x2="548.65" y2="454.1" stroke="#8a8a8a" stroke-width="0.7"/>
<text x="548.65" y="464.33" font-size="8.7" text-anchor="middle" fill="#111" stroke="#111">5</text>
<text transform="translate(460.8,419.25) rotate(-90)" font-size="8.7" text-anchor="middle" fill="#111" stroke="#111">MS signal [log<tspan font-size="6.2" dy="1.7">2</tspan><tspan dy="-1.7">]</tspan></text>
<rect x="486.4" y="386" width="67.5" height="65.5" fill="#fff" stroke="#959595" stroke-width="0.85"/>
<rect x="488.7" y="422.9" width="7.2" height="15.6" fill="none" stroke="#c4c4c4" stroke-width="0.7"/>
<line x1="492.3" y1="414.1" x2="492.3" y2="422.9" stroke="#111" stroke-width="1"/>
<line x1="492.3" y1="438.5" x2="492.3" y2="448.1" stroke="#111" stroke-width="1"/>
<line x1="490.5" y1="414.1" x2="494.1" y2="414.1" stroke="#111" stroke-width="1"/>
<line x1="490.5" y1="448.1" x2="494.1" y2="448.1" stroke="#111" stroke-width="1"/>
<line x1="488.7" y1="428.5" x2="495.9" y2="428.5" stroke="#111" stroke-width="1.1"/>
<rect x="499.97" y="421.5" width="7.2" height="10" fill="none" stroke="#c4c4c4" stroke-width="0.7"/>
<line x1="503.57" y1="416.3" x2="503.57" y2="421.5" stroke="#111" stroke-width="1"/>
<line x1="503.57" y1="431.5" x2="503.57" y2="446.5" stroke="#111" stroke-width="1"/>
<line x1="501.77" y1="416.3" x2="505.37" y2="416.3" stroke="#111" stroke-width="1"/>
<line x1="501.77" y1="446.5" x2="505.37" y2="446.5" stroke="#111" stroke-width="1"/>
<line x1="499.97" y1="425.6" x2="507.17" y2="425.6" stroke="#111" stroke-width="1.1"/>
<rect x="511.24" y="410.4" width="7.2" height="17" fill="none" stroke="#c4c4c4" stroke-width="0.7"/>
<line x1="514.84" y1="391.8" x2="514.84" y2="410.4" stroke="#111" stroke-width="1"/>
<line x1="514.84" y1="427.4" x2="514.84" y2="433.4" stroke="#111" stroke-width="1"/>
<line x1="513.04" y1="391.8" x2="516.64" y2="391.8" stroke="#111" stroke-width="1"/>
<line x1="513.04" y1="433.4" x2="516.64" y2="433.4" stroke="#111" stroke-width="1"/>
<line x1="511.24" y1="425.4" x2="518.44" y2="425.4" stroke="#111" stroke-width="1.1"/>
<rect x="522.51" y="402.3" width="7.2" height="15.3" fill="none" stroke="#c4c4c4" stroke-width="0.7"/>
<line x1="526.11" y1="396" x2="526.11" y2="402.3" stroke="#111" stroke-width="1"/>
<line x1="526.11" y1="417.6" x2="526.11" y2="422.6" stroke="#111" stroke-width="1"/>
<line x1="524.31" y1="396" x2="527.91" y2="396" stroke="#111" stroke-width="1"/>
<line x1="524.31" y1="422.6" x2="527.91" y2="422.6" stroke="#111" stroke-width="1"/>
<line x1="522.51" y1="412.3" x2="529.71" y2="412.3" stroke="#111" stroke-width="1.1"/>
<rect x="533.78" y="395.2" width="7.2" height="13.3" fill="none" stroke="#c4c4c4" stroke-width="0.7"/>
<line x1="537.38" y1="392.6" x2="537.38" y2="395.2" stroke="#111" stroke-width="1"/>
<line x1="537.38" y1="408.5" x2="537.38" y2="411.5" stroke="#111" stroke-width="1"/>
<line x1="535.58" y1="392.6" x2="539.18" y2="392.6" stroke="#111" stroke-width="1"/>
<line x1="535.58" y1="411.5" x2="539.18" y2="411.5" stroke="#111" stroke-width="1"/>
<line x1="533.78" y1="398.8" x2="540.98" y2="398.8" stroke="#111" stroke-width="1.1"/>
<rect x="545.05" y="397.6" width="7.2" height="12.8" fill="none" stroke="#c4c4c4" stroke-width="0.7"/>
<line x1="548.65" y1="388.8" x2="548.65" y2="397.6" stroke="#111" stroke-width="1"/>
<line x1="548.65" y1="410.4" x2="548.65" y2="419.6" stroke="#111" stroke-width="1"/>
<line x1="546.85" y1="388.8" x2="550.45" y2="388.8" stroke="#111" stroke-width="1"/>
<line x1="546.85" y1="419.6" x2="550.45" y2="419.6" stroke="#111" stroke-width="1"/>
<line x1="545.05" y1="408.2" x2="552.25" y2="408.2" stroke="#111" stroke-width="1.1"/>
<g fill="#22317f"><circle cx="493.07" cy="414.1" r="1.15"/><circle cx="491.49" cy="448.1" r="1.15"/><circle cx="493.16" cy="434.93" r="1.15"/><circle cx="492.04" cy="424.82" r="1.15"/><circle cx="492.42" cy="439.45" r="1.15"/><circle cx="491.43" cy="434.64" r="1.15"/><circle cx="491.46" cy="445.65" r="1.15"/><circle cx="493.56" cy="433.38" r="1.15"/><circle cx="492.8" cy="432.06" r="1.15"/><circle cx="492.74" cy="417.32" r="1.15"/><circle cx="504.19" cy="416.3" r="1.15"/><circle cx="505.15" cy="446.5" r="1.15"/><circle cx="502.65" cy="396" r="1.15"/><circle cx="502.48" cy="400.4" r="1.15"/><circle cx="503" cy="424.43" r="1.15"/><circle cx="504.59" cy="422.44" r="1.15"/><circle cx="502.62" cy="428.47" r="1.15"/><circle cx="504.51" cy="427.04" r="1.15"/><circle cx="502.44" cy="439.9" r="1.15"/><circle cx="503.9" cy="425.8" r="1.15"/><circle cx="504.33" cy="428.34" r="1.15"/><circle cx="504.17" cy="424.18" r="1.15"/><circle cx="502.13" cy="429.32" r="1.15"/><circle cx="505.15" cy="424.42" r="1.15"/><circle cx="504.77" cy="423.47" r="1.15"/><circle cx="503.5" cy="446.27" r="1.15"/><circle cx="504.81" cy="435.31" r="1.15"/><circle cx="503.92" cy="431.15" r="1.15"/><circle cx="502.42" cy="443.29" r="1.15"/><circle cx="503.21" cy="425.12" r="1.15"/><circle cx="504.68" cy="424.91" r="1.15"/><circle cx="503.44" cy="422.07" r="1.15"/><circle cx="514.35" cy="391.8" r="1.15"/><circle cx="514.83" cy="433.4" r="1.15"/><circle cx="514.21" cy="413.22" r="1.15"/><circle cx="513.46" cy="420.36" r="1.15"/><circle cx="514.49" cy="410.43" r="1.15"/><circle cx="515.38" cy="426.77" r="1.15"/><circle cx="515.93" cy="421.82" r="1.15"/><circle cx="515.74" cy="419.14" r="1.15"/><circle cx="516.17" cy="412.33" r="1.15"/><circle cx="515.88" cy="412.36" r="1.15"/><circle cx="514.53" cy="421.5" r="1.15"/><circle cx="515.34" cy="423.93" r="1.15"/><circle cx="513.3" cy="411.83" r="1.15"/><circle cx="515.86" cy="408.52" r="1.15"/><circle cx="515.56" cy="432.38" r="1.15"/><circle cx="514.03" cy="414.66" r="1.15"/><circle cx="527.11" cy="396" r="1.15"/><circle cx="527.74" cy="422.6" r="1.15"/><circle cx="525.52" cy="406.46" r="1.15"/><circle cx="525.17" cy="407.35" r="1.15"/><circle cx="525.28" cy="420.58" r="1.15"/><circle cx="527.09" cy="406.11" r="1.15"/><circle cx="524.86" cy="416.77" r="1.15"/><circle cx="526.27" cy="401.05" r="1.15"/><circle cx="527.6" cy="414.36" r="1.15"/><circle cx="525.08" cy="403.53" r="1.15"/><circle cx="526.55" cy="417.01" r="1.15"/><circle cx="526.21" cy="406.49" r="1.15"/><circle cx="527.72" cy="420.14" r="1.15"/><circle cx="526.16" cy="408.49" r="1.15"/><circle cx="539" cy="392.6" r="1.15"/><circle cx="538.98" cy="411.5" r="1.15"/><circle cx="537.36" cy="407.22" r="1.15"/><circle cx="537.09" cy="395.34" r="1.15"/><circle cx="536.44" cy="400.14" r="1.15"/><circle cx="548.99" cy="388.8" r="1.15"/><circle cx="549.46" cy="419.6" r="1.15"/><circle cx="548.88" cy="400.24" r="1.15"/><circle cx="550.13" cy="406.95" r="1.15"/><circle cx="547.89" cy="405.26" r="1.15"/></g>
<text x="518.6" y="447.3" font-size="8.7" fill="#111" stroke="#111"><tspan font-style="italic">R</tspan> = 0.63</text>
<text x="634.45" y="379.93" font-size="8.7" text-anchor="middle" fill="#111" stroke="#111">GCN1</text>
<line x1="598.3" y1="392.2" x2="600.9" y2="392.2" stroke="#8a8a8a" stroke-width="0.7"/>
<text x="595.3" y="395.33" font-size="8.7" text-anchor="end" fill="#111" stroke="#111">17</text>
<line x1="598.3" y1="407.4" x2="600.9" y2="407.4" stroke="#8a8a8a" stroke-width="0.7"/>
<text x="595.3" y="410.53" font-size="8.7" text-anchor="end" fill="#111" stroke="#111">17</text>
<line x1="598.3" y1="422.2" x2="600.9" y2="422.2" stroke="#8a8a8a" stroke-width="0.7"/>
<text x="595.3" y="425.33" font-size="8.7" text-anchor="end" fill="#111" stroke="#111">16</text>
<line x1="598.3" y1="436.2" x2="600.9" y2="436.2" stroke="#8a8a8a" stroke-width="0.7"/>
<text x="595.3" y="439.33" font-size="8.7" text-anchor="end" fill="#111" stroke="#111">16</text>
<line x1="609.3" y1="448.8" x2="609.3" y2="451.4" stroke="#8a8a8a" stroke-width="0.7"/>
<text x="609.3" y="461.63" font-size="8.7" text-anchor="middle" fill="#111" stroke="#111">0</text>
<line x1="626.05" y1="448.8" x2="626.05" y2="451.4" stroke="#8a8a8a" stroke-width="0.7"/>
<text x="626.05" y="461.63" font-size="8.7" text-anchor="middle" fill="#111" stroke="#111">1</text>
<line x1="642.8" y1="448.8" x2="642.8" y2="451.4" stroke="#8a8a8a" stroke-width="0.7"/>
<text x="642.8" y="461.63" font-size="8.7" text-anchor="middle" fill="#111" stroke="#111">2</text>
<line x1="659.55" y1="448.8" x2="659.55" y2="451.4" stroke="#8a8a8a" stroke-width="0.7"/>
<text x="659.55" y="461.63" font-size="8.7" text-anchor="middle" fill="#111" stroke="#111">3</text>
<text transform="translate(575.3,416.55) rotate(-90)" font-size="8.7" text-anchor="middle" fill="#111" stroke="#111">MS signal [log<tspan font-size="6.2" dy="1.7">2</tspan><tspan dy="-1.7">]</tspan></text>
<rect x="600.9" y="383.3" width="67.1" height="65.5" fill="#fff" stroke="#959595" stroke-width="0.85"/>
<rect x="604.3" y="416.3" width="10" height="14.1" fill="none" stroke="#c4c4c4" stroke-width="0.7"/>
<line x1="609.3" y1="410.2" x2="609.3" y2="416.3" stroke="#111" stroke-width="1"/>
<line x1="609.3" y1="430.4" x2="609.3" y2="446.2" stroke="#111" stroke-width="1"/>
<line x1="606.8" y1="410.2" x2="611.8" y2="410.2" stroke="#111" stroke-width="1"/>
<line x1="606.8" y1="446.2" x2="611.8" y2="446.2" stroke="#111" stroke-width="1"/>
<line x1="604.3" y1="423.3" x2="614.3" y2="423.3" stroke="#111" stroke-width="1.1"/>
<rect x="621.05" y="406.3" width="10" height="11.9" fill="none" stroke="#c4c4c4" stroke-width="0.7"/>
<line x1="626.05" y1="401.9" x2="626.05" y2="406.3" stroke="#111" stroke-width="1"/>
<line x1="626.05" y1="418.2" x2="626.05" y2="431.3" stroke="#111" stroke-width="1"/>
<line x1="623.55" y1="401.9" x2="628.55" y2="401.9" stroke="#111" stroke-width="1"/>
<line x1="623.55" y1="431.3" x2="628.55" y2="431.3" stroke="#111" stroke-width="1"/>
<line x1="621.05" y1="413" x2="631.05" y2="413" stroke="#111" stroke-width="1.1"/>
<rect x="637.8" y="405.2" width="10" height="11.4" fill="none" stroke="#c4c4c4" stroke-width="0.7"/>
<line x1="642.8" y1="391.3" x2="642.8" y2="405.2" stroke="#111" stroke-width="1"/>
<line x1="642.8" y1="416.6" x2="642.8" y2="426.6" stroke="#111" stroke-width="1"/>
<line x1="640.3" y1="391.3" x2="645.3" y2="391.3" stroke="#111" stroke-width="1"/>
<line x1="640.3" y1="426.6" x2="645.3" y2="426.6" stroke="#111" stroke-width="1"/>
<line x1="637.8" y1="411.3" x2="647.8" y2="411.3" stroke="#111" stroke-width="1.1"/>
<rect x="654.55" y="394.1" width="10" height="11.1" fill="none" stroke="#c4c4c4" stroke-width="0.7"/>
<line x1="659.55" y1="386.3" x2="659.55" y2="394.1" stroke="#111" stroke-width="1"/>
<line x1="659.55" y1="405.2" x2="659.55" y2="415.5" stroke="#111" stroke-width="1"/>
<line x1="657.05" y1="386.3" x2="662.05" y2="386.3" stroke="#111" stroke-width="1"/>
<line x1="657.05" y1="415.5" x2="662.05" y2="415.5" stroke="#111" stroke-width="1"/>
<line x1="654.55" y1="399.3" x2="664.55" y2="399.3" stroke="#111" stroke-width="1.1"/>
<g fill="#22317f"><circle cx="608.39" cy="410.2" r="1.15"/><circle cx="607.55" cy="446.2" r="1.15"/><circle cx="609.85" cy="424.51" r="1.15"/><circle cx="609.9" cy="430.23" r="1.15"/><circle cx="608.25" cy="434.95" r="1.15"/><circle cx="610.9" cy="419" r="1.15"/><circle cx="609.81" cy="421.7" r="1.15"/><circle cx="608.17" cy="421.57" r="1.15"/><circle cx="610.98" cy="425.52" r="1.15"/><circle cx="610.64" cy="423.9" r="1.15"/><circle cx="608.59" cy="429.96" r="1.15"/><circle cx="610.69" cy="431.41" r="1.15"/><circle cx="607.9" cy="426.25" r="1.15"/><circle cx="608.72" cy="442.96" r="1.15"/><circle cx="608.99" cy="419.91" r="1.15"/><circle cx="611.03" cy="412.01" r="1.15"/><circle cx="608.54" cy="421.24" r="1.15"/><circle cx="608.87" cy="414.95" r="1.15"/><circle cx="608.19" cy="416.29" r="1.15"/><circle cx="610.51" cy="420.02" r="1.15"/><circle cx="608.1" cy="424.19" r="1.15"/><circle cx="610.62" cy="427.44" r="1.15"/><circle cx="608.7" cy="419.53" r="1.15"/><circle cx="609.49" cy="438.35" r="1.15"/><circle cx="610.73" cy="422.68" r="1.15"/><circle cx="608.41" cy="427.35" r="1.15"/><circle cx="609.41" cy="423.15" r="1.15"/><circle cx="609.82" cy="440.84" r="1.15"/><circle cx="609.6" cy="425.68" r="1.15"/><circle cx="608.95" cy="418.51" r="1.15"/><circle cx="609.85" cy="425.43" r="1.15"/><circle cx="608.6" cy="444.33" r="1.15"/><circle cx="607.99" cy="423.78" r="1.15"/><circle cx="607.43" cy="419.95" r="1.15"/><circle cx="609.7" cy="415.38" r="1.15"/><circle cx="625.16" cy="401.9" r="1.15"/><circle cx="627.71" cy="431.3" r="1.15"/><circle cx="625.23" cy="425.41" r="1.15"/><circle cx="624.22" cy="414.31" r="1.15"/><circle cx="625.09" cy="412.55" r="1.15"/><circle cx="625.94" cy="417.16" r="1.15"/><circle cx="626.71" cy="413.98" r="1.15"/><circle cx="624.4" cy="416.69" r="1.15"/><circle cx="625.42" cy="406.8" r="1.15"/><circle cx="626.92" cy="417.55" r="1.15"/><circle cx="625.46" cy="414.43" r="1.15"/><circle cx="640.98" cy="391.3" r="1.15"/><circle cx="643.4" cy="426.6" r="1.15"/><circle cx="640.9" cy="435.9" r="1.15"/><circle cx="642.05" cy="413.31" r="1.15"/><circle cx="641.34" cy="413.12" r="1.15"/><circle cx="643.8" cy="414.46" r="1.15"/><circle cx="641.54" cy="416.32" r="1.15"/><circle cx="643.63" cy="416.77" r="1.15"/><circle cx="641.17" cy="412.15" r="1.15"/><circle cx="641.69" cy="406.07" r="1.15"/><circle cx="643.54" cy="419.8" r="1.15"/><circle cx="644.41" cy="421.63" r="1.15"/><circle cx="641.17" cy="426.41" r="1.15"/><circle cx="643.23" cy="416.38" r="1.15"/><circle cx="642.41" cy="409.51" r="1.15"/><circle cx="643.26" cy="420.19" r="1.15"/><circle cx="641.19" cy="414.21" r="1.15"/><circle cx="640.96" cy="412.92" r="1.15"/><circle cx="641.2" cy="412.49" r="1.15"/><circle cx="660.03" cy="386.3" r="1.15"/><circle cx="661.41" cy="415.5" r="1.15"/><circle cx="660.64" cy="400.62" r="1.15"/><circle cx="658.01" cy="390.2" r="1.15"/><circle cx="658.32" cy="412.61" r="1.15"/><circle cx="659.01" cy="402.76" r="1.15"/><circle cx="659.16" cy="415.27" r="1.15"/><circle cx="660.37" cy="405.13" r="1.15"/><circle cx="658.64" cy="402.77" r="1.15"/><circle cx="659.77" cy="401.02" r="1.15"/></g>
<text x="633" y="446.3" font-size="8.7" fill="#111" stroke="#111"><tspan font-style="italic">R</tspan> = 0.56</text>
<text x="405.9" y="481.63" font-size="8.7" text-anchor="middle" fill="#111" stroke="#111">FBLN5</text>
<line x1="369.6" y1="494.4" x2="372.2" y2="494.4" stroke="#8a8a8a" stroke-width="0.7"/>
<text x="366.6" y="497.53" font-size="8.7" text-anchor="end" fill="#111" stroke="#111">18</text>
<line x1="369.6" y1="508.8" x2="372.2" y2="508.8" stroke="#8a8a8a" stroke-width="0.7"/>
<text x="366.6" y="511.93" font-size="8.7" text-anchor="end" fill="#111" stroke="#111">16</text>
<line x1="369.6" y1="523.5" x2="372.2" y2="523.5" stroke="#8a8a8a" stroke-width="0.7"/>
<text x="366.6" y="526.63" font-size="8.7" text-anchor="end" fill="#111" stroke="#111">14</text>
<line x1="369.6" y1="537.9" x2="372.2" y2="537.9" stroke="#8a8a8a" stroke-width="0.7"/>
<text x="366.6" y="541.03" font-size="8.7" text-anchor="end" fill="#111" stroke="#111">12</text>
<line x1="379" y1="550.5" x2="379" y2="553.1" stroke="#8a8a8a" stroke-width="0.7"/>
<text x="379" y="563.33" font-size="8.7" text-anchor="middle" fill="#111" stroke="#111">0</text>
<line x1="392.38" y1="550.5" x2="392.38" y2="553.1" stroke="#8a8a8a" stroke-width="0.7"/>
<text x="392.38" y="563.33" font-size="8.7" text-anchor="middle" fill="#111" stroke="#111">1</text>
<line x1="405.76" y1="550.5" x2="405.76" y2="553.1" stroke="#8a8a8a" stroke-width="0.7"/>
<text x="405.76" y="563.33" font-size="8.7" text-anchor="middle" fill="#111" stroke="#111">2</text>
<line x1="419.14" y1="550.5" x2="419.14" y2="553.1" stroke="#8a8a8a" stroke-width="0.7"/>
<text x="419.14" y="563.33" font-size="8.7" text-anchor="middle" fill="#111" stroke="#111">3</text>
<line x1="432.52" y1="550.5" x2="432.52" y2="553.1" stroke="#8a8a8a" stroke-width="0.7"/>
<text x="432.52" y="563.33" font-size="8.7" text-anchor="middle" fill="#111" stroke="#111">4</text>
<text transform="translate(346.6,518.25) rotate(-90)" font-size="8.7" text-anchor="middle" fill="#111" stroke="#111">MS signal [log<tspan font-size="6.2" dy="1.7">2</tspan><tspan dy="-1.7">]</tspan></text>
<rect x="372.2" y="485" width="67.4" height="65.5" fill="#fff" stroke="#959595" stroke-width="0.85"/>
<rect x="374.7" y="516.6" width="8.6" height="15" fill="none" stroke="#c4c4c4" stroke-width="0.7"/>
<line x1="379" y1="510" x2="379" y2="516.6" stroke="#111" stroke-width="1"/>
<line x1="379" y1="531.6" x2="379" y2="544.1" stroke="#111" stroke-width="1"/>
<line x1="376.85" y1="510" x2="381.15" y2="510" stroke="#111" stroke-width="1"/>
<line x1="376.85" y1="544.1" x2="381.15" y2="544.1" stroke="#111" stroke-width="1"/>
<line x1="374.7" y1="527.5" x2="383.3" y2="527.5" stroke="#111" stroke-width="1.1"/>
<rect x="388.08" y="518.6" width="8.6" height="13.8" fill="none" stroke="#c4c4c4" stroke-width="0.7"/>
<line x1="392.38" y1="503.5" x2="392.38" y2="518.6" stroke="#111" stroke-width="1"/>
<line x1="392.38" y1="532.4" x2="392.38" y2="547.1" stroke="#111" stroke-width="1"/>
<line x1="390.23" y1="503.5" x2="394.53" y2="503.5" stroke="#111" stroke-width="1"/>
<line x1="390.23" y1="547.1" x2="394.53" y2="547.1" stroke="#111" stroke-width="1"/>
<line x1="388.08" y1="527.5" x2="396.68" y2="527.5" stroke="#111" stroke-width="1.1"/>
<rect x="401.46" y="505.3" width="8.6" height="15.7" fill="none" stroke="#c4c4c4" stroke-width="0.7"/>
<line x1="405.76" y1="491.3" x2="405.76" y2="505.3" stroke="#111" stroke-width="1"/>
<line x1="405.76" y1="521" x2="405.76" y2="534.9" stroke="#111" stroke-width="1"/>
<line x1="403.61" y1="491.3" x2="407.91" y2="491.3" stroke="#111" stroke-width="1"/>
<line x1="403.61" y1="534.9" x2="407.91" y2="534.9" stroke="#111" stroke-width="1"/>
<line x1="401.46" y1="511.3" x2="410.06" y2="511.3" stroke="#111" stroke-width="1.1"/>
<rect x="414.84" y="493.1" width="8.6" height="6.3" fill="none" stroke="#c4c4c4" stroke-width="0.7"/>
<line x1="419.14" y1="490.5" x2="419.14" y2="493.1" stroke="#111" stroke-width="1"/>
<line x1="419.14" y1="499.4" x2="419.14" y2="504.2" stroke="#111" stroke-width="1"/>
<line x1="416.99" y1="490.5" x2="421.29" y2="490.5" stroke="#111" stroke-width="1"/>
<line x1="416.99" y1="504.2" x2="421.29" y2="504.2" stroke="#111" stroke-width="1"/>
<line x1="414.84" y1="493.3" x2="423.44" y2="493.3" stroke="#111" stroke-width="1.1"/>
<rect x="428.22" y="494.2" width="8.6" height="5.2" fill="none" stroke="#c4c4c4" stroke-width="0.7"/>
<line x1="432.52" y1="487.8" x2="432.52" y2="494.2" stroke="#111" stroke-width="1"/>
<line x1="432.52" y1="499.4" x2="432.52" y2="501.6" stroke="#111" stroke-width="1"/>
<line x1="430.37" y1="487.8" x2="434.67" y2="487.8" stroke="#111" stroke-width="1"/>
<line x1="430.37" y1="501.6" x2="434.67" y2="501.6" stroke="#111" stroke-width="1"/>
<line x1="428.22" y1="496.6" x2="436.82" y2="496.6" stroke="#111" stroke-width="1.1"/>
<g fill="#22317f"><circle cx="380.52" cy="510" r="1.15"/><circle cx="379.52" cy="544.1" r="1.15"/><circle cx="378.84" cy="521.18" r="1.15"/><circle cx="377.4" cy="524.8" r="1.15"/><circle cx="379.56" cy="514.41" r="1.15"/><circle cx="392.32" cy="503.5" r="1.15"/><circle cx="390.72" cy="547.1" r="1.15"/><circle cx="391.65" cy="518.75" r="1.15"/><circle cx="392.13" cy="526.68" r="1.15"/><circle cx="393.39" cy="530.46" r="1.15"/><circle cx="392.11" cy="525.23" r="1.15"/><circle cx="392.06" cy="541.69" r="1.15"/><circle cx="392.97" cy="519.52" r="1.15"/><circle cx="391.53" cy="510.16" r="1.15"/><circle cx="392.57" cy="522.35" r="1.15"/><circle cx="391.22" cy="534.99" r="1.15"/><circle cx="392.83" cy="538.85" r="1.15"/><circle cx="392.53" cy="524.73" r="1.15"/><circle cx="392.97" cy="523.44" r="1.15"/><circle cx="393.8" cy="528.69" r="1.15"/><circle cx="393.5" cy="531.23" r="1.15"/><circle cx="394.24" cy="522.95" r="1.15"/><circle cx="391.37" cy="524.76" r="1.15"/><circle cx="394.1" cy="509.78" r="1.15"/><circle cx="392.17" cy="519.23" r="1.15"/><circle cx="391.87" cy="522.53" r="1.15"/><circle cx="392.21" cy="522.42" r="1.15"/><circle cx="393.98" cy="506.62" r="1.15"/><circle cx="394.11" cy="526.85" r="1.15"/><circle cx="393.54" cy="523.08" r="1.15"/><circle cx="404.64" cy="491.3" r="1.15"/><circle cx="407.29" cy="534.9" r="1.15"/><circle cx="406.96" cy="507.17" r="1.15"/><circle cx="404.39" cy="515.85" r="1.15"/><circle cx="407.52" cy="494.16" r="1.15"/><circle cx="405.27" cy="520.92" r="1.15"/><circle cx="406.62" cy="505.96" r="1.15"/><circle cx="406.01" cy="506.84" r="1.15"/><circle cx="407.12" cy="514.38" r="1.15"/><circle cx="405.72" cy="531.72" r="1.15"/><circle cx="403.97" cy="508.68" r="1.15"/><circle cx="405.98" cy="517.78" r="1.15"/><circle cx="407.09" cy="510.89" r="1.15"/><circle cx="405.42" cy="532.49" r="1.15"/><circle cx="407" cy="531.3" r="1.15"/><circle cx="405.56" cy="497.04" r="1.15"/><circle cx="405.22" cy="518.32" r="1.15"/><circle cx="405.22" cy="513.49" r="1.15"/><circle cx="404.73" cy="520.59" r="1.15"/><circle cx="405.76" cy="507.41" r="1.15"/><circle cx="418.34" cy="490.5" r="1.15"/><circle cx="418.26" cy="504.2" r="1.15"/><circle cx="418.5" cy="498.59" r="1.15"/><circle cx="419.3" cy="492.96" r="1.15"/><circle cx="420.96" cy="496.76" r="1.15"/><circle cx="417.79" cy="493.15" r="1.15"/><circle cx="418.17" cy="492.27" r="1.15"/><circle cx="420.65" cy="503.93" r="1.15"/><circle cx="432.58" cy="487.8" r="1.15"/><circle cx="432.4" cy="501.6" r="1.15"/><circle cx="431.7" cy="497.67" r="1.15"/><circle cx="431.46" cy="487.81" r="1.15"/><circle cx="430.87" cy="498.15" r="1.15"/><circle cx="430.73" cy="497.39" r="1.15"/><circle cx="431.1" cy="494.73" r="1.15"/><circle cx="434.35" cy="494.77" r="1.15"/><circle cx="430.75" cy="494.38" r="1.15"/></g>
<text x="405.2" y="545.2" font-size="8.7" fill="#111" stroke="#111"><tspan font-style="italic">R</tspan> = 0.75</text>
<text x="520.15" y="481.63" font-size="8.7" text-anchor="middle" fill="#111" stroke="#111">S100A1</text>
<line x1="483.8" y1="490.9" x2="486.4" y2="490.9" stroke="#8a8a8a" stroke-width="0.7"/>
<text x="480.8" y="494.03" font-size="8.7" text-anchor="end" fill="#111" stroke="#111">22</text>
<line x1="483.8" y1="512.4" x2="486.4" y2="512.4" stroke="#8a8a8a" stroke-width="0.7"/>
<text x="480.8" y="515.53" font-size="8.7" text-anchor="end" fill="#111" stroke="#111">21</text>
<line x1="483.8" y1="533.6" x2="486.4" y2="533.6" stroke="#8a8a8a" stroke-width="0.7"/>
<text x="480.8" y="536.73" font-size="8.7" text-anchor="end" fill="#111" stroke="#111">20</text>
<line x1="492.3" y1="550.5" x2="492.3" y2="553.1" stroke="#8a8a8a" stroke-width="0.7"/>
<text x="492.3" y="563.33" font-size="8.7" text-anchor="middle" fill="#111" stroke="#111">0</text>
<line x1="503.57" y1="550.5" x2="503.57" y2="553.1" stroke="#8a8a8a" stroke-width="0.7"/>
<text x="503.57" y="563.33" font-size="8.7" text-anchor="middle" fill="#111" stroke="#111">1</text>
<line x1="514.84" y1="550.5" x2="514.84" y2="553.1" stroke="#8a8a8a" stroke-width="0.7"/>
<text x="514.84" y="563.33" font-size="8.7" text-anchor="middle" fill="#111" stroke="#111">2</text>
<line x1="526.11" y1="550.5" x2="526.11" y2="553.1" stroke="#8a8a8a" stroke-width="0.7"/>
<text x="526.11" y="563.33" font-size="8.7" text-anchor="middle" fill="#111" stroke="#111">3</text>
<line x1="537.38" y1="550.5" x2="537.38" y2="553.1" stroke="#8a8a8a" stroke-width="0.7"/>
<text x="537.38" y="563.33" font-size="8.7" text-anchor="middle" fill="#111" stroke="#111">4</text>
<line x1="548.65" y1="550.5" x2="548.65" y2="553.1" stroke="#8a8a8a" stroke-width="0.7"/>
<text x="548.65" y="563.33" font-size="8.7" text-anchor="middle" fill="#111" stroke="#111">5</text>
<text transform="translate(460.8,518.25) rotate(-90)" font-size="8.7" text-anchor="middle" fill="#111" stroke="#111">MS signal [log<tspan font-size="6.2" dy="1.7">2</tspan><tspan dy="-1.7">]</tspan></text>
<rect x="486.4" y="485" width="67.5" height="65.5" fill="#fff" stroke="#959595" stroke-width="0.85"/>
<rect x="488.7" y="529.9" width="7.2" height="6.7" fill="none" stroke="#c4c4c4" stroke-width="0.7"/>
<line x1="492.3" y1="528.6" x2="492.3" y2="529.9" stroke="#111" stroke-width="1"/>
<line x1="492.3" y1="536.6" x2="492.3" y2="540.5" stroke="#111" stroke-width="1"/>
<line x1="490.5" y1="528.6" x2="494.1" y2="528.6" stroke="#111" stroke-width="1"/>
<line x1="490.5" y1="540.5" x2="494.1" y2="540.5" stroke="#111" stroke-width="1"/>
<line x1="488.7" y1="533.5" x2="495.9" y2="533.5" stroke="#111" stroke-width="1.1"/>
<rect x="499.97" y="521.6" width="7.2" height="10.5" fill="none" stroke="#c4c4c4" stroke-width="0.7"/>
<line x1="503.57" y1="517.5" x2="503.57" y2="521.6" stroke="#111" stroke-width="1"/>
<line x1="503.57" y1="532.1" x2="503.57" y2="538.2" stroke="#111" stroke-width="1"/>
<line x1="501.77" y1="517.5" x2="505.37" y2="517.5" stroke="#111" stroke-width="1"/>
<line x1="501.77" y1="538.2" x2="505.37" y2="538.2" stroke="#111" stroke-width="1"/>
<line x1="499.97" y1="529.4" x2="507.17" y2="529.4" stroke="#111" stroke-width="1.1"/>
<rect x="511.24" y="521.9" width="7.2" height="8.9" fill="none" stroke="#c4c4c4" stroke-width="0.7"/>
<line x1="514.84" y1="509.4" x2="514.84" y2="521.9" stroke="#111" stroke-width="1"/>
<line x1="514.84" y1="530.8" x2="514.84" y2="534.4" stroke="#111" stroke-width="1"/>
<line x1="513.04" y1="509.4" x2="516.64" y2="509.4" stroke="#111" stroke-width="1"/>
<line x1="513.04" y1="534.4" x2="516.64" y2="534.4" stroke="#111" stroke-width="1"/>
<line x1="511.24" y1="524.9" x2="518.44" y2="524.9" stroke="#111" stroke-width="1.1"/>
<rect x="522.51" y="509.4" width="7.2" height="14.8" fill="none" stroke="#c4c4c4" stroke-width="0.7"/>
<line x1="526.11" y1="493.3" x2="526.11" y2="509.4" stroke="#111" stroke-width="1"/>
<line x1="526.11" y1="524.2" x2="526.11" y2="531.3" stroke="#111" stroke-width="1"/>
<line x1="524.31" y1="493.3" x2="527.91" y2="493.3" stroke="#111" stroke-width="1"/>
<line x1="524.31" y1="531.3" x2="527.91" y2="531.3" stroke="#111" stroke-width="1"/>
<line x1="522.51" y1="515.3" x2="529.71" y2="515.3" stroke="#111" stroke-width="1.1"/>
<rect x="533.78" y="502.2" width="7.2" height="12.4" fill="none" stroke="#c4c4c4" stroke-width="0.7"/>
<line x1="537.38" y1="499.4" x2="537.38" y2="502.2" stroke="#111" stroke-width="1"/>
<line x1="537.38" y1="514.6" x2="537.38" y2="531.3" stroke="#111" stroke-width="1"/>
<line x1="535.58" y1="499.4" x2="539.18" y2="499.4" stroke="#111" stroke-width="1"/>
<line x1="535.58" y1="531.3" x2="539.18" y2="531.3" stroke="#111" stroke-width="1"/>
<line x1="533.78" y1="506.1" x2="540.98" y2="506.1" stroke="#111" stroke-width="1.1"/>
<rect x="545.05" y="502.2" width="7.2" height="11.1" fill="none" stroke="#c4c4c4" stroke-width="0.7"/>
<line x1="548.65" y1="488" x2="548.65" y2="502.2" stroke="#111" stroke-width="1"/>
<line x1="548.65" y1="513.3" x2="548.65" y2="518.3" stroke="#111" stroke-width="1"/>
<line x1="546.85" y1="488" x2="550.45" y2="488" stroke="#111" stroke-width="1"/>
<line x1="546.85" y1="518.3" x2="550.45" y2="518.3" stroke="#111" stroke-width="1"/>
<line x1="545.05" y1="505.5" x2="552.25" y2="505.5" stroke="#111" stroke-width="1.1"/>
<g fill="#22317f"><circle cx="491.43" cy="528.6" r="1.15"/><circle cx="491.79" cy="540.5" r="1.15"/><circle cx="491.34" cy="519" r="1.15"/><circle cx="490.87" cy="547.1" r="1.15"/><circle cx="493.04" cy="534.03" r="1.15"/><circle cx="492.03" cy="532.23" r="1.15"/><circle cx="493.13" cy="538.21" r="1.15"/><circle cx="491.93" cy="532.79" r="1.15"/><circle cx="493.83" cy="530.46" r="1.15"/><circle cx="491.42" cy="535.97" r="1.15"/><circle cx="492.34" cy="534.94" r="1.15"/><circle cx="492.03" cy="529.68" r="1.15"/><circle cx="504.81" cy="517.5" r="1.15"/><circle cx="505.16" cy="538.2" r="1.15"/><circle cx="503.88" cy="501.6" r="1.15"/><circle cx="505.04" cy="502.7" r="1.15"/><circle cx="504.93" cy="520.21" r="1.15"/><circle cx="504.15" cy="526.36" r="1.15"/><circle cx="503.01" cy="522.32" r="1.15"/><circle cx="503.93" cy="531.94" r="1.15"/><circle cx="503.03" cy="531.8" r="1.15"/><circle cx="504.65" cy="526.78" r="1.15"/><circle cx="503.75" cy="526.82" r="1.15"/><circle cx="504.84" cy="517.52" r="1.15"/><circle cx="504.92" cy="533.64" r="1.15"/><circle cx="504.45" cy="527.93" r="1.15"/><circle cx="502.54" cy="522.65" r="1.15"/><circle cx="503" cy="524.73" r="1.15"/><circle cx="502.14" cy="528.4" r="1.15"/><circle cx="503" cy="531.26" r="1.15"/><circle cx="502.39" cy="530.02" r="1.15"/><circle cx="502.88" cy="531.04" r="1.15"/><circle cx="504.59" cy="527" r="1.15"/><circle cx="502.26" cy="530.59" r="1.15"/><circle cx="514.3" cy="509.4" r="1.15"/><circle cx="513.47" cy="534.4" r="1.15"/><circle cx="515.99" cy="506.6" r="1.15"/><circle cx="513.28" cy="532.44" r="1.15"/><circle cx="513.75" cy="515.35" r="1.15"/><circle cx="513.2" cy="525.97" r="1.15"/><circle cx="514.69" cy="532.55" r="1.15"/><circle cx="516.55" cy="522.67" r="1.15"/><circle cx="513.36" cy="509.96" r="1.15"/><circle cx="513.98" cy="514.06" r="1.15"/><circle cx="514.04" cy="521.17" r="1.15"/><circle cx="515.54" cy="530.03" r="1.15"/><circle cx="514.34" cy="519.77" r="1.15"/><circle cx="513.71" cy="528.92" r="1.15"/><circle cx="515.5" cy="524.61" r="1.15"/><circle cx="516.22" cy="531.45" r="1.15"/><circle cx="513.68" cy="518" r="1.15"/><circle cx="527.21" cy="493.3" r="1.15"/><circle cx="527.71" cy="531.3" r="1.15"/><circle cx="524.46" cy="515.43" r="1.15"/><circle cx="524.58" cy="495.56" r="1.15"/><circle cx="526.12" cy="518.95" r="1.15"/><circle cx="524.43" cy="510.47" r="1.15"/><circle cx="527.71" cy="517.55" r="1.15"/><circle cx="525.39" cy="510.49" r="1.15"/><circle cx="526.28" cy="523.27" r="1.15"/><circle cx="527.41" cy="516.43" r="1.15"/><circle cx="525.85" cy="500.93" r="1.15"/><circle cx="527.03" cy="521.15" r="1.15"/><circle cx="524.92" cy="500.68" r="1.15"/><circle cx="525.92" cy="524.12" r="1.15"/><circle cx="536.74" cy="499.4" r="1.15"/><circle cx="538.51" cy="531.3" r="1.15"/><circle cx="536.08" cy="514.33" r="1.15"/><circle cx="537.98" cy="512.85" r="1.15"/><circle cx="538.94" cy="513.52" r="1.15"/><circle cx="547.23" cy="488" r="1.15"/><circle cx="549.04" cy="518.3" r="1.15"/><circle cx="547.39" cy="500.55" r="1.15"/><circle cx="547.13" cy="517.28" r="1.15"/><circle cx="548.84" cy="494.74" r="1.15"/></g>
<text x="518.6" y="546.1" font-size="8.7" fill="#111" stroke="#111"><tspan font-style="italic">R</tspan> = 0.62</text>
<text x="634.45" y="480.73" font-size="8.7" text-anchor="middle" fill="#111" stroke="#111">NME2</text>
<line x1="598.3" y1="497.4" x2="600.9" y2="497.4" stroke="#8a8a8a" stroke-width="0.7"/>
<text x="595.3" y="500.53" font-size="8.7" text-anchor="end" fill="#111" stroke="#111">22</text>
<line x1="598.3" y1="511.3" x2="600.9" y2="511.3" stroke="#8a8a8a" stroke-width="0.7"/>
<text x="595.3" y="514.43" font-size="8.7" text-anchor="end" fill="#111" stroke="#111">22</text>
<line x1="598.3" y1="524.8" x2="600.9" y2="524.8" stroke="#8a8a8a" stroke-width="0.7"/>
<text x="595.3" y="527.93" font-size="8.7" text-anchor="end" fill="#111" stroke="#111">22</text>
<line x1="598.3" y1="538.5" x2="600.9" y2="538.5" stroke="#8a8a8a" stroke-width="0.7"/>
<text x="595.3" y="541.63" font-size="8.7" text-anchor="end" fill="#111" stroke="#111">22</text>
<line x1="609.3" y1="549.6" x2="609.3" y2="552.2" stroke="#8a8a8a" stroke-width="0.7"/>
<text x="609.3" y="562.43" font-size="8.7" text-anchor="middle" fill="#111" stroke="#111">0</text>
<line x1="626.05" y1="549.6" x2="626.05" y2="552.2" stroke="#8a8a8a" stroke-width="0.7"/>
<text x="626.05" y="562.43" font-size="8.7" text-anchor="middle" fill="#111" stroke="#111">1</text>
<line x1="642.8" y1="549.6" x2="642.8" y2="552.2" stroke="#8a8a8a" stroke-width="0.7"/>
<text x="642.8" y="562.43" font-size="8.7" text-anchor="middle" fill="#111" stroke="#111">2</text>
<line x1="659.55" y1="549.6" x2="659.55" y2="552.2" stroke="#8a8a8a" stroke-width="0.7"/>
<text x="659.55" y="562.43" font-size="8.7" text-anchor="middle" fill="#111" stroke="#111">3</text>
<text transform="translate(575.3,517.35) rotate(-90)" font-size="8.7" text-anchor="middle" fill="#111" stroke="#111">MS signal [log<tspan font-size="6.2" dy="1.7">2</tspan><tspan dy="-1.7">]</tspan></text>
<rect x="600.9" y="484.1" width="67.1" height="65.5" fill="#fff" stroke="#959595" stroke-width="0.85"/>
<rect x="604.3" y="525.2" width="10" height="10.7" fill="none" stroke="#c4c4c4" stroke-width="0.7"/>
<line x1="609.3" y1="516" x2="609.3" y2="525.2" stroke="#111" stroke-width="1"/>
<line x1="609.3" y1="535.9" x2="609.3" y2="546.2" stroke="#111" stroke-width="1"/>
<line x1="606.8" y1="516" x2="611.8" y2="516" stroke="#111" stroke-width="1"/>
<line x1="606.8" y1="546.2" x2="611.8" y2="546.2" stroke="#111" stroke-width="1"/>
<line x1="604.3" y1="530.1" x2="614.3" y2="530.1" stroke="#111" stroke-width="1.1"/>
<rect x="621.05" y="517.1" width="10" height="7.5" fill="none" stroke="#c4c4c4" stroke-width="0.7"/>
<line x1="626.05" y1="512.4" x2="626.05" y2="517.1" stroke="#111" stroke-width="1"/>
<line x1="626.05" y1="524.6" x2="626.05" y2="529.3" stroke="#111" stroke-width="1"/>
<line x1="623.55" y1="512.4" x2="628.55" y2="512.4" stroke="#111" stroke-width="1"/>
<line x1="623.55" y1="529.3" x2="628.55" y2="529.3" stroke="#111" stroke-width="1"/>
<line x1="621.05" y1="521" x2="631.05" y2="521" stroke="#111" stroke-width="1.1"/>
<rect x="637.8" y="512.2" width="10" height="11.5" fill="none" stroke="#c4c4c4" stroke-width="0.7"/>
<line x1="642.8" y1="501.5" x2="642.8" y2="512.2" stroke="#111" stroke-width="1"/>
<line x1="642.8" y1="523.7" x2="642.8" y2="528.5" stroke="#111" stroke-width="1"/>
<line x1="640.3" y1="501.5" x2="645.3" y2="501.5" stroke="#111" stroke-width="1"/>
<line x1="640.3" y1="528.5" x2="645.3" y2="528.5" stroke="#111" stroke-width="1"/>
<line x1="637.8" y1="517.4" x2="647.8" y2="517.4" stroke="#111" stroke-width="1.1"/>
<rect x="654.55" y="508.2" width="10" height="5.5" fill="none" stroke="#c4c4c4" stroke-width="0.7"/>
<line x1="659.55" y1="502.4" x2="659.55" y2="508.2" stroke="#111" stroke-width="1"/>
<line x1="659.55" y1="513.7" x2="659.55" y2="517.4" stroke="#111" stroke-width="1"/>
<line x1="657.05" y1="502.4" x2="662.05" y2="502.4" stroke="#111" stroke-width="1"/>
<line x1="657.05" y1="517.4" x2="662.05" y2="517.4" stroke="#111" stroke-width="1"/>
<line x1="654.55" y1="510.7" x2="664.55" y2="510.7" stroke="#111" stroke-width="1.1"/>
<g fill="#22317f"><circle cx="611.16" cy="516" r="1.15"/><circle cx="609.95" cy="546.2" r="1.15"/><circle cx="610.89" cy="496.9" r="1.15"/><circle cx="608.16" cy="524.18" r="1.15"/><circle cx="609.06" cy="545.01" r="1.15"/><circle cx="610.07" cy="518.46" r="1.15"/><circle cx="607.68" cy="535.42" r="1.15"/><circle cx="609.57" cy="521.18" r="1.15"/><circle cx="609.78" cy="532.82" r="1.15"/><circle cx="607.5" cy="526.31" r="1.15"/><circle cx="608.17" cy="531.39" r="1.15"/><circle cx="610.38" cy="534.22" r="1.15"/><circle cx="608.02" cy="534.8" r="1.15"/><circle cx="609.82" cy="527.31" r="1.15"/><circle cx="609" cy="536.44" r="1.15"/><circle cx="608.88" cy="535.17" r="1.15"/><circle cx="610.73" cy="530.71" r="1.15"/><circle cx="608.91" cy="516.63" r="1.15"/><circle cx="610.74" cy="525.53" r="1.15"/><circle cx="610.52" cy="522.6" r="1.15"/><circle cx="609.51" cy="537.67" r="1.15"/><circle cx="607.79" cy="521.44" r="1.15"/><circle cx="608.67" cy="533.63" r="1.15"/><circle cx="611.03" cy="527.08" r="1.15"/><circle cx="608.4" cy="539.99" r="1.15"/><circle cx="609.64" cy="529.29" r="1.15"/><circle cx="608.16" cy="529.54" r="1.15"/><circle cx="610.18" cy="526.71" r="1.15"/><circle cx="610.01" cy="526.8" r="1.15"/><circle cx="610.78" cy="533.53" r="1.15"/><circle cx="609.66" cy="541.51" r="1.15"/><circle cx="607.82" cy="530.03" r="1.15"/><circle cx="610.42" cy="530.96" r="1.15"/><circle cx="609.59" cy="521.76" r="1.15"/><circle cx="610.98" cy="525.9" r="1.15"/><circle cx="609.37" cy="530.35" r="1.15"/><circle cx="626.79" cy="512.4" r="1.15"/><circle cx="627.43" cy="529.3" r="1.15"/><circle cx="626.34" cy="520.42" r="1.15"/><circle cx="627.75" cy="524.2" r="1.15"/><circle cx="626.19" cy="526.96" r="1.15"/><circle cx="624.2" cy="518.64" r="1.15"/><circle cx="626.66" cy="524.42" r="1.15"/><circle cx="627.3" cy="520.56" r="1.15"/><circle cx="627.63" cy="522.15" r="1.15"/><circle cx="627.02" cy="523.59" r="1.15"/><circle cx="627.73" cy="515.73" r="1.15"/><circle cx="643.18" cy="501.5" r="1.15"/><circle cx="642.79" cy="528.5" r="1.15"/><circle cx="642" cy="487.1" r="1.15"/><circle cx="641.54" cy="541.2" r="1.15"/><circle cx="643.71" cy="514.29" r="1.15"/><circle cx="644.68" cy="514.13" r="1.15"/><circle cx="643.57" cy="522.84" r="1.15"/><circle cx="641.43" cy="525.97" r="1.15"/><circle cx="643.54" cy="513.74" r="1.15"/><circle cx="643.94" cy="502.19" r="1.15"/><circle cx="642.94" cy="516.8" r="1.15"/><circle cx="643.31" cy="515.87" r="1.15"/><circle cx="644.18" cy="514.06" r="1.15"/><circle cx="642.72" cy="513.18" r="1.15"/><circle cx="643.59" cy="521.83" r="1.15"/><circle cx="641.54" cy="520.3" r="1.15"/><circle cx="644.08" cy="523.2" r="1.15"/><circle cx="643.07" cy="515.02" r="1.15"/><circle cx="641.63" cy="514.14" r="1.15"/><circle cx="643.27" cy="516.08" r="1.15"/><circle cx="658.42" cy="502.4" r="1.15"/><circle cx="658.35" cy="517.4" r="1.15"/><circle cx="657.89" cy="522.9" r="1.15"/><circle cx="660.33" cy="509.08" r="1.15"/><circle cx="658.74" cy="512.11" r="1.15"/><circle cx="658.48" cy="516.82" r="1.15"/><circle cx="660.07" cy="510.87" r="1.15"/><circle cx="661.41" cy="508.98" r="1.15"/><circle cx="660.51" cy="509.78" r="1.15"/><circle cx="661.29" cy="512.76" r="1.15"/><circle cx="661.19" cy="517.25" r="1.15"/></g>
<text x="605" y="492.7" font-size="8.7" fill="#111" stroke="#111"><tspan font-style="italic">R</tspan> = 0.56</text>
<text x="405.9" y="580.63" font-size="8.7" text-anchor="middle" fill="#111" stroke="#111">TNXB</text>
<line x1="369.6" y1="597.3" x2="372.2" y2="597.3" stroke="#8a8a8a" stroke-width="0.7"/>
<text x="366.6" y="600.43" font-size="8.7" text-anchor="end" fill="#111" stroke="#111">18</text>
<line x1="369.6" y1="615.4" x2="372.2" y2="615.4" stroke="#8a8a8a" stroke-width="0.7"/>
<text x="366.6" y="618.53" font-size="8.7" text-anchor="end" fill="#111" stroke="#111">17</text>
<line x1="369.6" y1="633.4" x2="372.2" y2="633.4" stroke="#8a8a8a" stroke-width="0.7"/>
<text x="366.6" y="636.53" font-size="8.7" text-anchor="end" fill="#111" stroke="#111">16</text>
<line x1="379" y1="649.5" x2="379" y2="652.1" stroke="#8a8a8a" stroke-width="0.7"/>
<text x="379" y="662.33" font-size="8.7" text-anchor="middle" fill="#111" stroke="#111">0</text>
<line x1="392.38" y1="649.5" x2="392.38" y2="652.1" stroke="#8a8a8a" stroke-width="0.7"/>
<text x="392.38" y="662.33" font-size="8.7" text-anchor="middle" fill="#111" stroke="#111">1</text>
<line x1="405.76" y1="649.5" x2="405.76" y2="652.1" stroke="#8a8a8a" stroke-width="0.7"/>
<text x="405.76" y="662.33" font-size="8.7" text-anchor="middle" fill="#111" stroke="#111">2</text>
<line x1="419.14" y1="649.5" x2="419.14" y2="652.1" stroke="#8a8a8a" stroke-width="0.7"/>
<text x="419.14" y="662.33" font-size="8.7" text-anchor="middle" fill="#111" stroke="#111">3</text>
<line x1="432.52" y1="649.5" x2="432.52" y2="652.1" stroke="#8a8a8a" stroke-width="0.7"/>
<text x="432.52" y="662.33" font-size="8.7" text-anchor="middle" fill="#111" stroke="#111">4</text>
<text transform="translate(346.6,617.25) rotate(-90)" font-size="8.7" text-anchor="middle" fill="#111" stroke="#111">MS signal [log<tspan font-size="6.2" dy="1.7">2</tspan><tspan dy="-1.7">]</tspan></text>
<rect x="372.2" y="584" width="67.4" height="65.5" fill="#fff" stroke="#959595" stroke-width="0.85"/>
<rect x="374.7" y="621.2" width="8.6" height="8.3" fill="none" stroke="#c4c4c4" stroke-width="0.7"/>
<line x1="379" y1="613.4" x2="379" y2="621.2" stroke="#111" stroke-width="1"/>
<line x1="379" y1="629.5" x2="379" y2="629.5" stroke="#111" stroke-width="1"/>
<line x1="376.85" y1="613.4" x2="381.15" y2="613.4" stroke="#111" stroke-width="1"/>
<line x1="376.85" y1="629.5" x2="381.15" y2="629.5" stroke="#111" stroke-width="1"/>
<line x1="374.7" y1="625.4" x2="383.3" y2="625.4" stroke="#111" stroke-width="1.1"/>
<rect x="388.08" y="618.1" width="8.6" height="9.7" fill="none" stroke="#c4c4c4" stroke-width="0.7"/>
<line x1="392.38" y1="604.5" x2="392.38" y2="618.1" stroke="#111" stroke-width="1"/>
<line x1="392.38" y1="627.8" x2="392.38" y2="640.6" stroke="#111" stroke-width="1"/>
<line x1="390.23" y1="604.5" x2="394.53" y2="604.5" stroke="#111" stroke-width="1"/>
<line x1="390.23" y1="640.6" x2="394.53" y2="640.6" stroke="#111" stroke-width="1"/>
<line x1="388.08" y1="621.4" x2="396.68" y2="621.4" stroke="#111" stroke-width="1.1"/>
<rect x="401.46" y="607.3" width="8.6" height="14.1" fill="none" stroke="#c4c4c4" stroke-width="0.7"/>
<line x1="405.76" y1="591" x2="405.76" y2="607.3" stroke="#111" stroke-width="1"/>
<line x1="405.76" y1="621.4" x2="405.76" y2="628" stroke="#111" stroke-width="1"/>
<line x1="403.61" y1="591" x2="407.91" y2="591" stroke="#111" stroke-width="1"/>
<line x1="403.61" y1="628" x2="407.91" y2="628" stroke="#111" stroke-width="1"/>
<line x1="401.46" y1="615.4" x2="410.06" y2="615.4" stroke="#111" stroke-width="1.1"/>
<rect x="414.84" y="592.3" width="8.6" height="8.9" fill="none" stroke="#c4c4c4" stroke-width="0.7"/>
<line x1="419.14" y1="587" x2="419.14" y2="592.3" stroke="#111" stroke-width="1"/>
<line x1="419.14" y1="601.2" x2="419.14" y2="603.2" stroke="#111" stroke-width="1"/>
<line x1="416.99" y1="587" x2="421.29" y2="587" stroke="#111" stroke-width="1"/>
<line x1="416.99" y1="603.2" x2="421.29" y2="603.2" stroke="#111" stroke-width="1"/>
<line x1="414.84" y1="598.4" x2="423.44" y2="598.4" stroke="#111" stroke-width="1.1"/>
<rect x="428.22" y="593.4" width="8.6" height="8.3" fill="none" stroke="#c4c4c4" stroke-width="0.7"/>
<line x1="432.52" y1="590.1" x2="432.52" y2="593.4" stroke="#111" stroke-width="1"/>
<line x1="432.52" y1="601.7" x2="432.52" y2="606.7" stroke="#111" stroke-width="1"/>
<line x1="430.37" y1="590.1" x2="434.67" y2="590.1" stroke="#111" stroke-width="1"/>
<line x1="430.37" y1="606.7" x2="434.67" y2="606.7" stroke="#111" stroke-width="1"/>
<line x1="428.22" y1="594.5" x2="436.82" y2="594.5" stroke="#111" stroke-width="1.1"/>
<g fill="#22317f"><circle cx="379.91" cy="613.4" r="1.15"/><circle cx="379.51" cy="629.5" r="1.15"/><circle cx="378.66" cy="646.5" r="1.15"/><circle cx="377.58" cy="623.02" r="1.15"/><circle cx="377.75" cy="616.91" r="1.15"/><circle cx="379.38" cy="624.3" r="1.15"/><circle cx="391.89" cy="604.5" r="1.15"/><circle cx="393.19" cy="640.6" r="1.15"/><circle cx="392.73" cy="623.36" r="1.15"/><circle cx="391.68" cy="625.19" r="1.15"/><circle cx="390.51" cy="637.7" r="1.15"/><circle cx="390.65" cy="621.6" r="1.15"/><circle cx="393.87" cy="620.52" r="1.15"/><circle cx="391.52" cy="625.09" r="1.15"/><circle cx="390.75" cy="618.32" r="1.15"/><circle cx="391.59" cy="621.22" r="1.15"/><circle cx="391.28" cy="618.32" r="1.15"/><circle cx="392.55" cy="633.57" r="1.15"/><circle cx="390.67" cy="626.06" r="1.15"/><circle cx="392.53" cy="624.29" r="1.15"/><circle cx="392.94" cy="620.34" r="1.15"/><circle cx="392.52" cy="619.41" r="1.15"/><circle cx="392.75" cy="627.66" r="1.15"/><circle cx="391.4" cy="627.52" r="1.15"/><circle cx="391.97" cy="631.29" r="1.15"/><circle cx="393.32" cy="624.7" r="1.15"/><circle cx="391.56" cy="623.03" r="1.15"/><circle cx="393.62" cy="626.85" r="1.15"/><circle cx="391.2" cy="618.17" r="1.15"/><circle cx="392.3" cy="623.46" r="1.15"/><circle cx="393.89" cy="607.62" r="1.15"/><circle cx="404.28" cy="591" r="1.15"/><circle cx="405.43" cy="628" r="1.15"/><circle cx="406.32" cy="601.21" r="1.15"/><circle cx="404.3" cy="611.28" r="1.15"/><circle cx="406.31" cy="604.5" r="1.15"/><circle cx="407.54" cy="616.74" r="1.15"/><circle cx="406.82" cy="610.63" r="1.15"/><circle cx="407.01" cy="616.99" r="1.15"/><circle cx="404.46" cy="608.02" r="1.15"/><circle cx="405.14" cy="609.93" r="1.15"/><circle cx="404.8" cy="611.05" r="1.15"/><circle cx="405.27" cy="615.76" r="1.15"/><circle cx="407.22" cy="615.51" r="1.15"/><circle cx="407.65" cy="615.24" r="1.15"/><circle cx="404.86" cy="619.35" r="1.15"/><circle cx="405.99" cy="607.44" r="1.15"/><circle cx="406.17" cy="604.78" r="1.15"/><circle cx="407.55" cy="621.9" r="1.15"/><circle cx="405.57" cy="594.96" r="1.15"/><circle cx="404.31" cy="599.08" r="1.15"/><circle cx="417.51" cy="587" r="1.15"/><circle cx="420.48" cy="603.2" r="1.15"/><circle cx="419.82" cy="617.6" r="1.15"/><circle cx="418.23" cy="593.59" r="1.15"/><circle cx="417.55" cy="593.12" r="1.15"/><circle cx="419.63" cy="590.13" r="1.15"/><circle cx="420.77" cy="598.71" r="1.15"/><circle cx="420.06" cy="599.03" r="1.15"/><circle cx="420.75" cy="593.18" r="1.15"/><circle cx="432.82" cy="590.1" r="1.15"/><circle cx="430.71" cy="606.7" r="1.15"/><circle cx="433.26" cy="592.2" r="1.15"/><circle cx="432.21" cy="597.27" r="1.15"/><circle cx="434.06" cy="597.42" r="1.15"/><circle cx="432.08" cy="594.43" r="1.15"/><circle cx="433.79" cy="594.33" r="1.15"/><circle cx="433.48" cy="591.36" r="1.15"/><circle cx="432.04" cy="593.78" r="1.15"/></g>
<text x="405.2" y="643.7" font-size="8.7" fill="#111" stroke="#111"><tspan font-style="italic">R</tspan> = 0.73</text>
<text x="520.15" y="580.63" font-size="8.7" text-anchor="middle" fill="#111" stroke="#111">FKBP1A</text>
<line x1="483.8" y1="585.4" x2="486.4" y2="585.4" stroke="#8a8a8a" stroke-width="0.7"/>
<text x="480.8" y="588.53" font-size="8.7" text-anchor="end" fill="#111" stroke="#111">20</text>
<line x1="483.8" y1="607.3" x2="486.4" y2="607.3" stroke="#8a8a8a" stroke-width="0.7"/>
<text x="480.8" y="610.43" font-size="8.7" text-anchor="end" fill="#111" stroke="#111">20</text>
<line x1="483.8" y1="629.5" x2="486.4" y2="629.5" stroke="#8a8a8a" stroke-width="0.7"/>
<text x="480.8" y="632.63" font-size="8.7" text-anchor="end" fill="#111" stroke="#111">19</text>
<line x1="492.3" y1="649.5" x2="492.3" y2="652.1" stroke="#8a8a8a" stroke-width="0.7"/>
<text x="492.3" y="662.33" font-size="8.7" text-anchor="middle" fill="#111" stroke="#111">0</text>
<line x1="503.57" y1="649.5" x2="503.57" y2="652.1" stroke="#8a8a8a" stroke-width="0.7"/>
<text x="503.57" y="662.33" font-size="8.7" text-anchor="middle" fill="#111" stroke="#111">1</text>
<line x1="514.84" y1="649.5" x2="514.84" y2="652.1" stroke="#8a8a8a" stroke-width="0.7"/>
<text x="514.84" y="662.33" font-size="8.7" text-anchor="middle" fill="#111" stroke="#111">2</text>
<line x1="526.11" y1="649.5" x2="526.11" y2="652.1" stroke="#8a8a8a" stroke-width="0.7"/>
<text x="526.11" y="662.33" font-size="8.7" text-anchor="middle" fill="#111" stroke="#111">3</text>
<line x1="537.38" y1="649.5" x2="537.38" y2="652.1" stroke="#8a8a8a" stroke-width="0.7"/>
<text x="537.38" y="662.33" font-size="8.7" text-anchor="middle" fill="#111" stroke="#111">4</text>
<line x1="548.65" y1="649.5" x2="548.65" y2="652.1" stroke="#8a8a8a" stroke-width="0.7"/>
<text x="548.65" y="662.33" font-size="8.7" text-anchor="middle" fill="#111" stroke="#111">5</text>
<text transform="translate(460.8,617.25) rotate(-90)" font-size="8.7" text-anchor="middle" fill="#111" stroke="#111">MS signal [log<tspan font-size="6.2" dy="1.7">2</tspan><tspan dy="-1.7">]</tspan></text>
<rect x="486.4" y="584" width="67.5" height="65.5" fill="#fff" stroke="#959595" stroke-width="0.85"/>
<rect x="488.7" y="617.3" width="7.2" height="7.2" fill="none" stroke="#c4c4c4" stroke-width="0.7"/>
<line x1="492.3" y1="609" x2="492.3" y2="617.3" stroke="#111" stroke-width="1"/>
<line x1="492.3" y1="624.5" x2="492.3" y2="632.8" stroke="#111" stroke-width="1"/>
<line x1="490.5" y1="609" x2="494.1" y2="609" stroke="#111" stroke-width="1"/>
<line x1="490.5" y1="632.8" x2="494.1" y2="632.8" stroke="#111" stroke-width="1"/>
<line x1="488.7" y1="621.2" x2="495.9" y2="621.2" stroke="#111" stroke-width="1.1"/>
<rect x="499.97" y="612.3" width="7.2" height="10" fill="none" stroke="#c4c4c4" stroke-width="0.7"/>
<line x1="503.57" y1="601" x2="503.57" y2="612.3" stroke="#111" stroke-width="1"/>
<line x1="503.57" y1="622.3" x2="503.57" y2="632.5" stroke="#111" stroke-width="1"/>
<line x1="501.77" y1="601" x2="505.37" y2="601" stroke="#111" stroke-width="1"/>
<line x1="501.77" y1="632.5" x2="505.37" y2="632.5" stroke="#111" stroke-width="1"/>
<line x1="499.97" y1="615.4" x2="507.17" y2="615.4" stroke="#111" stroke-width="1.1"/>
<rect x="511.24" y="610.1" width="7.2" height="5.5" fill="none" stroke="#c4c4c4" stroke-width="0.7"/>
<line x1="514.84" y1="603.4" x2="514.84" y2="610.1" stroke="#111" stroke-width="1"/>
<line x1="514.84" y1="615.6" x2="514.84" y2="621" stroke="#111" stroke-width="1"/>
<line x1="513.04" y1="603.4" x2="516.64" y2="603.4" stroke="#111" stroke-width="1"/>
<line x1="513.04" y1="621" x2="516.64" y2="621" stroke="#111" stroke-width="1"/>
<line x1="511.24" y1="613.6" x2="518.44" y2="613.6" stroke="#111" stroke-width="1.1"/>
<rect x="522.51" y="598.4" width="7.2" height="12.2" fill="none" stroke="#c4c4c4" stroke-width="0.7"/>
<line x1="526.11" y1="587.7" x2="526.11" y2="598.4" stroke="#111" stroke-width="1"/>
<line x1="526.11" y1="610.6" x2="526.11" y2="619.8" stroke="#111" stroke-width="1"/>
<line x1="524.31" y1="587.7" x2="527.91" y2="587.7" stroke="#111" stroke-width="1"/>
<line x1="524.31" y1="619.8" x2="527.91" y2="619.8" stroke="#111" stroke-width="1"/>
<line x1="522.51" y1="605.4" x2="529.71" y2="605.4" stroke="#111" stroke-width="1.1"/>
<rect x="533.78" y="594.5" width="7.2" height="16.9" fill="none" stroke="#c4c4c4" stroke-width="0.7"/>
<line x1="537.38" y1="590.3" x2="537.38" y2="594.5" stroke="#111" stroke-width="1"/>
<line x1="537.38" y1="611.4" x2="537.38" y2="617.6" stroke="#111" stroke-width="1"/>
<line x1="535.58" y1="590.3" x2="539.18" y2="590.3" stroke="#111" stroke-width="1"/>
<line x1="535.58" y1="617.6" x2="539.18" y2="617.6" stroke="#111" stroke-width="1"/>
<line x1="533.78" y1="602.1" x2="540.98" y2="602.1" stroke="#111" stroke-width="1.1"/>
<rect x="545.05" y="591.8" width="7.2" height="16.9" fill="none" stroke="#c4c4c4" stroke-width="0.7"/>
<line x1="548.65" y1="589.5" x2="548.65" y2="591.8" stroke="#111" stroke-width="1"/>
<line x1="548.65" y1="608.7" x2="548.65" y2="618.4" stroke="#111" stroke-width="1"/>
<line x1="546.85" y1="589.5" x2="550.45" y2="589.5" stroke="#111" stroke-width="1"/>
<line x1="546.85" y1="618.4" x2="550.45" y2="618.4" stroke="#111" stroke-width="1"/>
<line x1="545.05" y1="596.2" x2="552.25" y2="596.2" stroke="#111" stroke-width="1.1"/>
<g fill="#22317f"><circle cx="492.23" cy="609" r="1.15"/><circle cx="493.24" cy="632.8" r="1.15"/><circle cx="493.72" cy="587" r="1.15"/><circle cx="490.82" cy="623.27" r="1.15"/><circle cx="493.6" cy="619.15" r="1.15"/><circle cx="493.81" cy="621.06" r="1.15"/><circle cx="491.09" cy="620.41" r="1.15"/><circle cx="490.85" cy="613.08" r="1.15"/><circle cx="492.18" cy="622.29" r="1.15"/><circle cx="490.68" cy="621.35" r="1.15"/><circle cx="491" cy="620.87" r="1.15"/><circle cx="503.19" cy="601" r="1.15"/><circle cx="505.21" cy="632.5" r="1.15"/><circle cx="503.27" cy="646.5" r="1.15"/><circle cx="504.02" cy="614.39" r="1.15"/><circle cx="504.71" cy="607.55" r="1.15"/><circle cx="502.37" cy="620.66" r="1.15"/><circle cx="502" cy="619.15" r="1.15"/><circle cx="504.24" cy="632.31" r="1.15"/><circle cx="502.63" cy="619.18" r="1.15"/><circle cx="502.6" cy="616.47" r="1.15"/><circle cx="503.55" cy="612.79" r="1.15"/><circle cx="502.44" cy="605.1" r="1.15"/><circle cx="502.78" cy="604.2" r="1.15"/><circle cx="502.54" cy="618.44" r="1.15"/><circle cx="502.16" cy="613.44" r="1.15"/><circle cx="504.66" cy="616.2" r="1.15"/><circle cx="504.76" cy="613.31" r="1.15"/><circle cx="504.37" cy="620.44" r="1.15"/><circle cx="503.36" cy="619.87" r="1.15"/><circle cx="505.03" cy="620.47" r="1.15"/><circle cx="503.72" cy="628.78" r="1.15"/><circle cx="515" cy="603.4" r="1.15"/><circle cx="514.11" cy="621" r="1.15"/><circle cx="514.69" cy="635.8" r="1.15"/><circle cx="514.06" cy="603.78" r="1.15"/><circle cx="514.64" cy="611.29" r="1.15"/><circle cx="515.87" cy="620.35" r="1.15"/><circle cx="515.75" cy="609.02" r="1.15"/><circle cx="516.32" cy="604.81" r="1.15"/><circle cx="516.34" cy="604.16" r="1.15"/><circle cx="514.04" cy="616.68" r="1.15"/><circle cx="515.8" cy="611.89" r="1.15"/><circle cx="515.51" cy="610.43" r="1.15"/><circle cx="515.27" cy="612.87" r="1.15"/><circle cx="514.8" cy="614.52" r="1.15"/><circle cx="516.29" cy="608.3" r="1.15"/><circle cx="515.06" cy="615.57" r="1.15"/><circle cx="516.35" cy="612.12" r="1.15"/><circle cx="525.36" cy="587.7" r="1.15"/><circle cx="526.11" cy="619.8" r="1.15"/><circle cx="526.13" cy="602.77" r="1.15"/><circle cx="524.56" cy="607.19" r="1.15"/><circle cx="526.12" cy="602.31" r="1.15"/><circle cx="527.56" cy="604.31" r="1.15"/><circle cx="527.37" cy="604.42" r="1.15"/><circle cx="526.25" cy="588.35" r="1.15"/><circle cx="526.8" cy="604.8" r="1.15"/><circle cx="525.67" cy="606.72" r="1.15"/><circle cx="524.63" cy="601.62" r="1.15"/><circle cx="527.22" cy="612.35" r="1.15"/><circle cx="526.25" cy="605.36" r="1.15"/><circle cx="526.49" cy="596.72" r="1.15"/><circle cx="538.8" cy="590.3" r="1.15"/><circle cx="535.79" cy="617.6" r="1.15"/><circle cx="538.4" cy="616.91" r="1.15"/><circle cx="535.78" cy="604.14" r="1.15"/><circle cx="536.75" cy="609.05" r="1.15"/><circle cx="547.01" cy="589.5" r="1.15"/><circle cx="548.21" cy="618.4" r="1.15"/><circle cx="548.48" cy="605.34" r="1.15"/><circle cx="547.09" cy="605.52" r="1.15"/><circle cx="547.99" cy="608.72" r="1.15"/></g>
<text x="518.6" y="646.5" font-size="8.7" fill="#111" stroke="#111"><tspan font-style="italic">R</tspan> = 0.61</text>
<text x="634.45" y="580.73" font-size="8.7" text-anchor="middle" fill="#111" stroke="#111">FABP5</text>
<line x1="598.3" y1="597.4" x2="600.9" y2="597.4" stroke="#8a8a8a" stroke-width="0.7"/>
<text x="595.3" y="600.53" font-size="8.7" text-anchor="end" fill="#111" stroke="#111">18</text>
<line x1="598.3" y1="611.3" x2="600.9" y2="611.3" stroke="#8a8a8a" stroke-width="0.7"/>
<text x="595.3" y="614.43" font-size="8.7" text-anchor="end" fill="#111" stroke="#111">17</text>
<line x1="598.3" y1="625.2" x2="600.9" y2="625.2" stroke="#8a8a8a" stroke-width="0.7"/>
<text x="595.3" y="628.33" font-size="8.7" text-anchor="end" fill="#111" stroke="#111">16</text>
<line x1="598.3" y1="639" x2="600.9" y2="639" stroke="#8a8a8a" stroke-width="0.7"/>
<text x="595.3" y="642.13" font-size="8.7" text-anchor="end" fill="#111" stroke="#111">15</text>
<line x1="609.3" y1="649.6" x2="609.3" y2="652.2" stroke="#8a8a8a" stroke-width="0.7"/>
<text x="609.3" y="662.43" font-size="8.7" text-anchor="middle" fill="#111" stroke="#111">0</text>
<line x1="626.05" y1="649.6" x2="626.05" y2="652.2" stroke="#8a8a8a" stroke-width="0.7"/>
<text x="626.05" y="662.43" font-size="8.7" text-anchor="middle" fill="#111" stroke="#111">1</text>
<line x1="642.8" y1="649.6" x2="642.8" y2="652.2" stroke="#8a8a8a" stroke-width="0.7"/>
<text x="642.8" y="662.43" font-size="8.7" text-anchor="middle" fill="#111" stroke="#111">2</text>
<line x1="659.55" y1="649.6" x2="659.55" y2="652.2" stroke="#8a8a8a" stroke-width="0.7"/>
<text x="659.55" y="662.43" font-size="8.7" text-anchor="middle" fill="#111" stroke="#111">3</text>
<text transform="translate(575.3,617.35) rotate(-90)" font-size="8.7" text-anchor="middle" fill="#111" stroke="#111">MS signal [log<tspan font-size="6.2" dy="1.7">2</tspan><tspan dy="-1.7">]</tspan></text>
<rect x="600.9" y="584.1" width="67.1" height="65.5" fill="#fff" stroke="#959595" stroke-width="0.85"/>
<rect x="604.3" y="619.6" width="10" height="8.9" fill="none" stroke="#c4c4c4" stroke-width="0.7"/>
<line x1="609.3" y1="608" x2="609.3" y2="619.6" stroke="#111" stroke-width="1"/>
<line x1="609.3" y1="628.5" x2="609.3" y2="636.6" stroke="#111" stroke-width="1"/>
<line x1="606.8" y1="608" x2="611.8" y2="608" stroke="#111" stroke-width="1"/>
<line x1="606.8" y1="636.6" x2="611.8" y2="636.6" stroke="#111" stroke-width="1"/>
<line x1="604.3" y1="623.3" x2="614.3" y2="623.3" stroke="#111" stroke-width="1.1"/>
<rect x="621.05" y="617.4" width="10" height="8.1" fill="none" stroke="#c4c4c4" stroke-width="0.7"/>
<line x1="626.05" y1="611.3" x2="626.05" y2="617.4" stroke="#111" stroke-width="1"/>
<line x1="626.05" y1="625.5" x2="626.05" y2="634.6" stroke="#111" stroke-width="1"/>
<line x1="623.55" y1="611.3" x2="628.55" y2="611.3" stroke="#111" stroke-width="1"/>
<line x1="623.55" y1="634.6" x2="628.55" y2="634.6" stroke="#111" stroke-width="1"/>
<line x1="621.05" y1="622.4" x2="631.05" y2="622.4" stroke="#111" stroke-width="1.1"/>
<rect x="637.8" y="601.5" width="10" height="18.7" fill="none" stroke="#c4c4c4" stroke-width="0.7"/>
<line x1="642.8" y1="587.4" x2="642.8" y2="601.5" stroke="#111" stroke-width="1"/>
<line x1="642.8" y1="620.2" x2="642.8" y2="639.2" stroke="#111" stroke-width="1"/>
<line x1="640.3" y1="587.4" x2="645.3" y2="587.4" stroke="#111" stroke-width="1"/>
<line x1="640.3" y1="639.2" x2="645.3" y2="639.2" stroke="#111" stroke-width="1"/>
<line x1="637.8" y1="609.3" x2="647.8" y2="609.3" stroke="#111" stroke-width="1.1"/>
<rect x="654.55" y="593" width="10" height="13.8" fill="none" stroke="#c4c4c4" stroke-width="0.7"/>
<line x1="659.55" y1="589.6" x2="659.55" y2="593" stroke="#111" stroke-width="1"/>
<line x1="659.55" y1="606.8" x2="659.55" y2="617.4" stroke="#111" stroke-width="1"/>
<line x1="657.05" y1="589.6" x2="662.05" y2="589.6" stroke="#111" stroke-width="1"/>
<line x1="657.05" y1="617.4" x2="662.05" y2="617.4" stroke="#111" stroke-width="1"/>
<line x1="654.55" y1="596.3" x2="664.55" y2="596.3" stroke="#111" stroke-width="1.1"/>
<g fill="#22317f"><circle cx="609.83" cy="608" r="1.15"/><circle cx="608.92" cy="636.6" r="1.15"/><circle cx="609.7" cy="595.8" r="1.15"/><circle cx="610.95" cy="601.3" r="1.15"/><circle cx="610.59" cy="640.7" r="1.15"/><circle cx="609.13" cy="646.2" r="1.15"/><circle cx="610.18" cy="620.74" r="1.15"/><circle cx="608.5" cy="622.9" r="1.15"/><circle cx="610.91" cy="632.35" r="1.15"/><circle cx="607.41" cy="626.6" r="1.15"/><circle cx="609.56" cy="610.94" r="1.15"/><circle cx="610.31" cy="627.41" r="1.15"/><circle cx="610.87" cy="625.18" r="1.15"/><circle cx="609.46" cy="631.06" r="1.15"/><circle cx="609.35" cy="631.37" r="1.15"/><circle cx="609.71" cy="626.03" r="1.15"/><circle cx="610.28" cy="627.04" r="1.15"/><circle cx="608.82" cy="610.36" r="1.15"/><circle cx="609.82" cy="628.21" r="1.15"/><circle cx="608.37" cy="622.67" r="1.15"/><circle cx="607.7" cy="622.93" r="1.15"/><circle cx="607.69" cy="624.1" r="1.15"/><circle cx="608.08" cy="624.05" r="1.15"/><circle cx="608.94" cy="617.98" r="1.15"/><circle cx="607.9" cy="627.76" r="1.15"/><circle cx="610.37" cy="630.65" r="1.15"/><circle cx="610.01" cy="636.13" r="1.15"/><circle cx="608.86" cy="619.61" r="1.15"/><circle cx="608.08" cy="626.89" r="1.15"/><circle cx="608.98" cy="627.65" r="1.15"/><circle cx="610.71" cy="624.32" r="1.15"/><circle cx="610.58" cy="619.97" r="1.15"/><circle cx="610.02" cy="622.22" r="1.15"/><circle cx="608.86" cy="622.14" r="1.15"/><circle cx="610.57" cy="625.43" r="1.15"/><circle cx="609.33" cy="611.39" r="1.15"/><circle cx="608.69" cy="626.45" r="1.15"/><circle cx="610.82" cy="624.66" r="1.15"/><circle cx="609.95" cy="625.56" r="1.15"/><circle cx="624.19" cy="611.3" r="1.15"/><circle cx="627.82" cy="634.6" r="1.15"/><circle cx="626.02" cy="600.7" r="1.15"/><circle cx="624.34" cy="644.3" r="1.15"/><circle cx="626.9" cy="617.96" r="1.15"/><circle cx="627.04" cy="623.68" r="1.15"/><circle cx="625.54" cy="621.7" r="1.15"/><circle cx="626.43" cy="622.3" r="1.15"/><circle cx="624.3" cy="620.33" r="1.15"/><circle cx="626.95" cy="622.19" r="1.15"/><circle cx="626.71" cy="623.71" r="1.15"/><circle cx="627.21" cy="624.27" r="1.15"/><circle cx="625.95" cy="627.54" r="1.15"/><circle cx="642.17" cy="587.4" r="1.15"/><circle cx="641.92" cy="639.2" r="1.15"/><circle cx="644.15" cy="608.87" r="1.15"/><circle cx="640.97" cy="603.17" r="1.15"/><circle cx="641.61" cy="605.7" r="1.15"/><circle cx="644.43" cy="603.21" r="1.15"/><circle cx="643.43" cy="633.41" r="1.15"/><circle cx="641.66" cy="605.72" r="1.15"/><circle cx="641.4" cy="611.33" r="1.15"/><circle cx="643.46" cy="625.15" r="1.15"/><circle cx="644.06" cy="601.86" r="1.15"/><circle cx="644.69" cy="601.72" r="1.15"/><circle cx="644.48" cy="637.56" r="1.15"/><circle cx="643.76" cy="623.21" r="1.15"/><circle cx="641.22" cy="637.77" r="1.15"/><circle cx="643.89" cy="612.18" r="1.15"/><circle cx="642.56" cy="610.07" r="1.15"/><circle cx="642.92" cy="616.12" r="1.15"/><circle cx="660.53" cy="589.6" r="1.15"/><circle cx="659.45" cy="617.4" r="1.15"/><circle cx="659.39" cy="593.19" r="1.15"/><circle cx="658.32" cy="601.91" r="1.15"/><circle cx="659.73" cy="606.34" r="1.15"/><circle cx="660.92" cy="605.07" r="1.15"/><circle cx="660.06" cy="592.06" r="1.15"/><circle cx="659.92" cy="606.69" r="1.15"/><circle cx="659.37" cy="599.03" r="1.15"/><circle cx="661.39" cy="605.79" r="1.15"/></g>
<text x="605" y="592.7" font-size="8.7" fill="#111" stroke="#111"><tspan font-style="italic">R</tspan> = 0.55</text>
<text x="405.5" y="674.23" font-size="8.7" text-anchor="middle" fill="#111" stroke="#111">Kleiner score</text>
<text x="520.8" y="674.13" font-size="8.7" text-anchor="middle" fill="#111" stroke="#111">NAS inflammation</text>
<text x="636.8" y="675.73" font-size="8.7" text-anchor="middle" fill="#111" stroke="#111">NAS steatosis</text>
</svg>
</body></html>
